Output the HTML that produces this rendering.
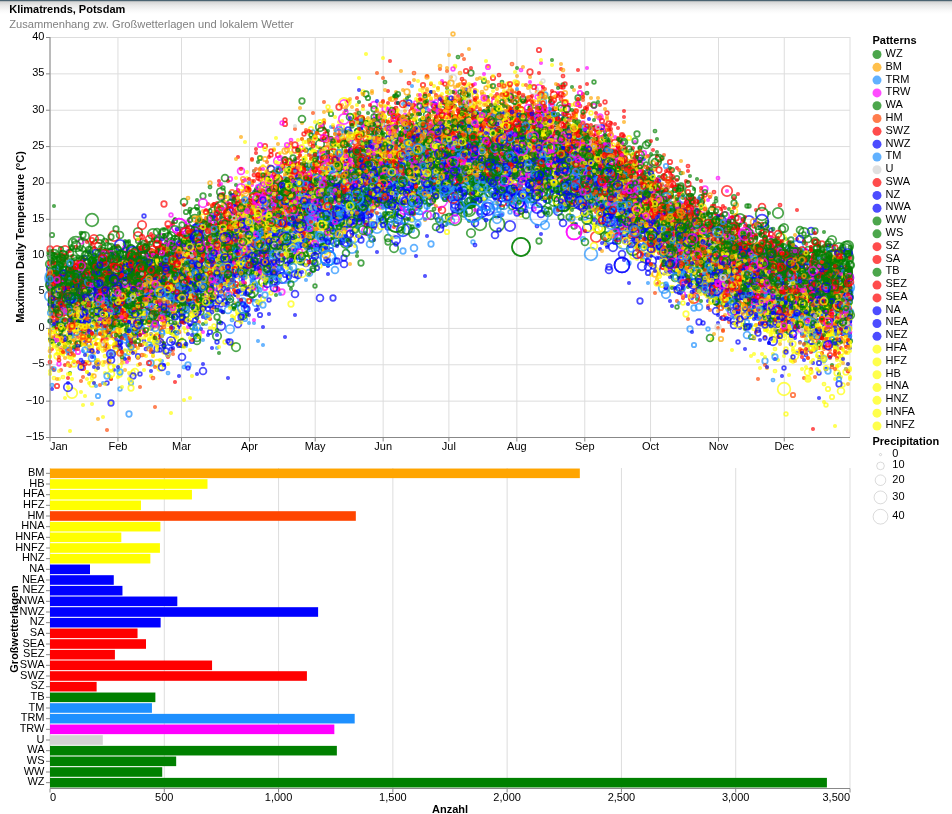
<!DOCTYPE html>
<html><head><meta charset="utf-8"><style>
html,body{margin:0;padding:0;width:952px;height:814px;overflow:hidden}
svg{display:block;font-family:"Liberation Sans",sans-serif;will-change:transform}
.sc path{fill:none;stroke:none}
marker circle{fill:none;stroke-width:1.75;stroke-opacity:0.7}
</style></head><body>
<svg width="952" height="814" viewBox="0 0 952 814">
<defs><linearGradient id="sh" x1="0" y1="0" x2="0" y2="1"><stop offset="0" stop-color="#d0d0d0"/><stop offset="0.35" stop-color="#e9e9e9"/><stop offset="0.7" stop-color="#f8f8f8"/><stop offset="1" stop-color="#fff"/></linearGradient>
<marker id="m0_0" markerUnits="userSpaceOnUse" overflow="visible"><circle r="1.16" stroke="#0000ff"/></marker>
<marker id="m0_1" markerUnits="userSpaceOnUse" overflow="visible"><circle r="1.46" stroke="#0000ff"/></marker>
<marker id="m0_2" markerUnits="userSpaceOnUse" overflow="visible"><circle r="1.83" stroke="#0000ff"/></marker>
<marker id="m0_3" markerUnits="userSpaceOnUse" overflow="visible"><circle r="2.22" stroke="#0000ff"/></marker>
<marker id="m0_4" markerUnits="userSpaceOnUse" overflow="visible"><circle r="2.76" stroke="#0000ff"/></marker>
<marker id="m0_5" markerUnits="userSpaceOnUse" overflow="visible"><circle r="3.43" stroke="#0000ff"/></marker>
<marker id="m0_6" markerUnits="userSpaceOnUse" overflow="visible"><circle r="4.25" stroke="#0000ff"/></marker>
<marker id="m0_7" markerUnits="userSpaceOnUse" overflow="visible"><circle r="5.24" stroke="#0000ff"/></marker>
<marker id="m0_8" markerUnits="userSpaceOnUse" overflow="visible"><circle r="6.33" stroke="#0000ff"/></marker>
<marker id="m0_9" markerUnits="userSpaceOnUse" overflow="visible"><circle r="7.49" stroke="#0000ff"/></marker>
<marker id="m0_10" markerUnits="userSpaceOnUse" overflow="visible"><circle r="9.03" stroke="#0000ff"/></marker>
<marker id="m1_0" markerUnits="userSpaceOnUse" overflow="visible"><circle r="1.16" stroke="#008000"/></marker>
<marker id="m1_1" markerUnits="userSpaceOnUse" overflow="visible"><circle r="1.46" stroke="#008000"/></marker>
<marker id="m1_2" markerUnits="userSpaceOnUse" overflow="visible"><circle r="1.83" stroke="#008000"/></marker>
<marker id="m1_3" markerUnits="userSpaceOnUse" overflow="visible"><circle r="2.22" stroke="#008000"/></marker>
<marker id="m1_4" markerUnits="userSpaceOnUse" overflow="visible"><circle r="2.76" stroke="#008000"/></marker>
<marker id="m1_5" markerUnits="userSpaceOnUse" overflow="visible"><circle r="3.43" stroke="#008000"/></marker>
<marker id="m1_6" markerUnits="userSpaceOnUse" overflow="visible"><circle r="4.25" stroke="#008000"/></marker>
<marker id="m1_7" markerUnits="userSpaceOnUse" overflow="visible"><circle r="5.24" stroke="#008000"/></marker>
<marker id="m1_8" markerUnits="userSpaceOnUse" overflow="visible"><circle r="6.33" stroke="#008000"/></marker>
<marker id="m1_9" markerUnits="userSpaceOnUse" overflow="visible"><circle r="7.49" stroke="#008000"/></marker>
<marker id="m1_10" markerUnits="userSpaceOnUse" overflow="visible"><circle r="9.03" stroke="#008000"/></marker>
<marker id="m2_0" markerUnits="userSpaceOnUse" overflow="visible"><circle r="1.16" stroke="#1e90ff"/></marker>
<marker id="m2_1" markerUnits="userSpaceOnUse" overflow="visible"><circle r="1.46" stroke="#1e90ff"/></marker>
<marker id="m2_2" markerUnits="userSpaceOnUse" overflow="visible"><circle r="1.83" stroke="#1e90ff"/></marker>
<marker id="m2_3" markerUnits="userSpaceOnUse" overflow="visible"><circle r="2.22" stroke="#1e90ff"/></marker>
<marker id="m2_4" markerUnits="userSpaceOnUse" overflow="visible"><circle r="2.76" stroke="#1e90ff"/></marker>
<marker id="m2_5" markerUnits="userSpaceOnUse" overflow="visible"><circle r="3.43" stroke="#1e90ff"/></marker>
<marker id="m2_6" markerUnits="userSpaceOnUse" overflow="visible"><circle r="4.25" stroke="#1e90ff"/></marker>
<marker id="m2_7" markerUnits="userSpaceOnUse" overflow="visible"><circle r="5.24" stroke="#1e90ff"/></marker>
<marker id="m2_8" markerUnits="userSpaceOnUse" overflow="visible"><circle r="6.33" stroke="#1e90ff"/></marker>
<marker id="m2_9" markerUnits="userSpaceOnUse" overflow="visible"><circle r="7.49" stroke="#1e90ff"/></marker>
<marker id="m2_10" markerUnits="userSpaceOnUse" overflow="visible"><circle r="9.03" stroke="#1e90ff"/></marker>
<marker id="m3_0" markerUnits="userSpaceOnUse" overflow="visible"><circle r="1.16" stroke="#d3d3d3"/></marker>
<marker id="m3_1" markerUnits="userSpaceOnUse" overflow="visible"><circle r="1.46" stroke="#d3d3d3"/></marker>
<marker id="m3_2" markerUnits="userSpaceOnUse" overflow="visible"><circle r="1.83" stroke="#d3d3d3"/></marker>
<marker id="m3_3" markerUnits="userSpaceOnUse" overflow="visible"><circle r="2.22" stroke="#d3d3d3"/></marker>
<marker id="m3_4" markerUnits="userSpaceOnUse" overflow="visible"><circle r="2.76" stroke="#d3d3d3"/></marker>
<marker id="m3_5" markerUnits="userSpaceOnUse" overflow="visible"><circle r="3.43" stroke="#d3d3d3"/></marker>
<marker id="m3_6" markerUnits="userSpaceOnUse" overflow="visible"><circle r="4.25" stroke="#d3d3d3"/></marker>
<marker id="m3_7" markerUnits="userSpaceOnUse" overflow="visible"><circle r="5.24" stroke="#d3d3d3"/></marker>
<marker id="m3_8" markerUnits="userSpaceOnUse" overflow="visible"><circle r="6.33" stroke="#d3d3d3"/></marker>
<marker id="m3_9" markerUnits="userSpaceOnUse" overflow="visible"><circle r="7.49" stroke="#d3d3d3"/></marker>
<marker id="m3_10" markerUnits="userSpaceOnUse" overflow="visible"><circle r="9.03" stroke="#d3d3d3"/></marker>
<marker id="m4_0" markerUnits="userSpaceOnUse" overflow="visible"><circle r="1.16" stroke="#ff0000"/></marker>
<marker id="m4_1" markerUnits="userSpaceOnUse" overflow="visible"><circle r="1.46" stroke="#ff0000"/></marker>
<marker id="m4_2" markerUnits="userSpaceOnUse" overflow="visible"><circle r="1.83" stroke="#ff0000"/></marker>
<marker id="m4_3" markerUnits="userSpaceOnUse" overflow="visible"><circle r="2.22" stroke="#ff0000"/></marker>
<marker id="m4_4" markerUnits="userSpaceOnUse" overflow="visible"><circle r="2.76" stroke="#ff0000"/></marker>
<marker id="m4_5" markerUnits="userSpaceOnUse" overflow="visible"><circle r="3.43" stroke="#ff0000"/></marker>
<marker id="m4_6" markerUnits="userSpaceOnUse" overflow="visible"><circle r="4.25" stroke="#ff0000"/></marker>
<marker id="m4_7" markerUnits="userSpaceOnUse" overflow="visible"><circle r="5.24" stroke="#ff0000"/></marker>
<marker id="m4_8" markerUnits="userSpaceOnUse" overflow="visible"><circle r="6.33" stroke="#ff0000"/></marker>
<marker id="m4_9" markerUnits="userSpaceOnUse" overflow="visible"><circle r="7.49" stroke="#ff0000"/></marker>
<marker id="m4_10" markerUnits="userSpaceOnUse" overflow="visible"><circle r="9.03" stroke="#ff0000"/></marker>
<marker id="m5_0" markerUnits="userSpaceOnUse" overflow="visible"><circle r="1.16" stroke="#ff00ff"/></marker>
<marker id="m5_1" markerUnits="userSpaceOnUse" overflow="visible"><circle r="1.46" stroke="#ff00ff"/></marker>
<marker id="m5_2" markerUnits="userSpaceOnUse" overflow="visible"><circle r="1.83" stroke="#ff00ff"/></marker>
<marker id="m5_3" markerUnits="userSpaceOnUse" overflow="visible"><circle r="2.22" stroke="#ff00ff"/></marker>
<marker id="m5_4" markerUnits="userSpaceOnUse" overflow="visible"><circle r="2.76" stroke="#ff00ff"/></marker>
<marker id="m5_5" markerUnits="userSpaceOnUse" overflow="visible"><circle r="3.43" stroke="#ff00ff"/></marker>
<marker id="m5_6" markerUnits="userSpaceOnUse" overflow="visible"><circle r="4.25" stroke="#ff00ff"/></marker>
<marker id="m5_7" markerUnits="userSpaceOnUse" overflow="visible"><circle r="5.24" stroke="#ff00ff"/></marker>
<marker id="m5_8" markerUnits="userSpaceOnUse" overflow="visible"><circle r="6.33" stroke="#ff00ff"/></marker>
<marker id="m5_9" markerUnits="userSpaceOnUse" overflow="visible"><circle r="7.49" stroke="#ff00ff"/></marker>
<marker id="m5_10" markerUnits="userSpaceOnUse" overflow="visible"><circle r="9.03" stroke="#ff00ff"/></marker>
<marker id="m6_0" markerUnits="userSpaceOnUse" overflow="visible"><circle r="1.16" stroke="#ff4500"/></marker>
<marker id="m6_1" markerUnits="userSpaceOnUse" overflow="visible"><circle r="1.46" stroke="#ff4500"/></marker>
<marker id="m6_2" markerUnits="userSpaceOnUse" overflow="visible"><circle r="1.83" stroke="#ff4500"/></marker>
<marker id="m6_3" markerUnits="userSpaceOnUse" overflow="visible"><circle r="2.22" stroke="#ff4500"/></marker>
<marker id="m6_4" markerUnits="userSpaceOnUse" overflow="visible"><circle r="2.76" stroke="#ff4500"/></marker>
<marker id="m6_5" markerUnits="userSpaceOnUse" overflow="visible"><circle r="3.43" stroke="#ff4500"/></marker>
<marker id="m6_6" markerUnits="userSpaceOnUse" overflow="visible"><circle r="4.25" stroke="#ff4500"/></marker>
<marker id="m6_7" markerUnits="userSpaceOnUse" overflow="visible"><circle r="5.24" stroke="#ff4500"/></marker>
<marker id="m6_8" markerUnits="userSpaceOnUse" overflow="visible"><circle r="6.33" stroke="#ff4500"/></marker>
<marker id="m6_9" markerUnits="userSpaceOnUse" overflow="visible"><circle r="7.49" stroke="#ff4500"/></marker>
<marker id="m6_10" markerUnits="userSpaceOnUse" overflow="visible"><circle r="9.03" stroke="#ff4500"/></marker>
<marker id="m7_0" markerUnits="userSpaceOnUse" overflow="visible"><circle r="1.16" stroke="#ffa500"/></marker>
<marker id="m7_1" markerUnits="userSpaceOnUse" overflow="visible"><circle r="1.46" stroke="#ffa500"/></marker>
<marker id="m7_2" markerUnits="userSpaceOnUse" overflow="visible"><circle r="1.83" stroke="#ffa500"/></marker>
<marker id="m7_3" markerUnits="userSpaceOnUse" overflow="visible"><circle r="2.22" stroke="#ffa500"/></marker>
<marker id="m7_4" markerUnits="userSpaceOnUse" overflow="visible"><circle r="2.76" stroke="#ffa500"/></marker>
<marker id="m7_5" markerUnits="userSpaceOnUse" overflow="visible"><circle r="3.43" stroke="#ffa500"/></marker>
<marker id="m7_6" markerUnits="userSpaceOnUse" overflow="visible"><circle r="4.25" stroke="#ffa500"/></marker>
<marker id="m7_7" markerUnits="userSpaceOnUse" overflow="visible"><circle r="5.24" stroke="#ffa500"/></marker>
<marker id="m7_8" markerUnits="userSpaceOnUse" overflow="visible"><circle r="6.33" stroke="#ffa500"/></marker>
<marker id="m7_9" markerUnits="userSpaceOnUse" overflow="visible"><circle r="7.49" stroke="#ffa500"/></marker>
<marker id="m7_10" markerUnits="userSpaceOnUse" overflow="visible"><circle r="9.03" stroke="#ffa500"/></marker>
<marker id="m8_0" markerUnits="userSpaceOnUse" overflow="visible"><circle r="1.16" stroke="#ffff00"/></marker>
<marker id="m8_1" markerUnits="userSpaceOnUse" overflow="visible"><circle r="1.46" stroke="#ffff00"/></marker>
<marker id="m8_2" markerUnits="userSpaceOnUse" overflow="visible"><circle r="1.83" stroke="#ffff00"/></marker>
<marker id="m8_3" markerUnits="userSpaceOnUse" overflow="visible"><circle r="2.22" stroke="#ffff00"/></marker>
<marker id="m8_4" markerUnits="userSpaceOnUse" overflow="visible"><circle r="2.76" stroke="#ffff00"/></marker>
<marker id="m8_5" markerUnits="userSpaceOnUse" overflow="visible"><circle r="3.43" stroke="#ffff00"/></marker>
<marker id="m8_6" markerUnits="userSpaceOnUse" overflow="visible"><circle r="4.25" stroke="#ffff00"/></marker>
<marker id="m8_7" markerUnits="userSpaceOnUse" overflow="visible"><circle r="5.24" stroke="#ffff00"/></marker>
<marker id="m8_8" markerUnits="userSpaceOnUse" overflow="visible"><circle r="6.33" stroke="#ffff00"/></marker>
<marker id="m8_9" markerUnits="userSpaceOnUse" overflow="visible"><circle r="7.49" stroke="#ffff00"/></marker>
<marker id="m8_10" markerUnits="userSpaceOnUse" overflow="visible"><circle r="9.03" stroke="#ffff00"/></marker>
</defs>
<rect x="0" y="1" width="952" height="13" fill="url(#sh)"/>
<rect x="0" y="0" width="952" height="1.2" fill="#4b6371"/>
<text x="9.2" y="13" font-size="11" font-weight="bold">Klimatrends, Potsdam</text>
<text x="9.2" y="28" font-size="11.15" fill="#808080">Zusammenhang zw. Großwetterlagen und lokalem Wetter</text>
<g stroke="#ddd" stroke-width="1" fill="none">
<path d="M50 37V437M117.95 37V437M181.51 37V437M249.45 37V437M315.21 37V437M383.15 37V437M448.9 37V437M516.85 37V437M584.79 37V437M650.55 37V437M718.49 37V437M784.25 37V437M850 37V437M50 437.5H850M50 401.14H850M50 364.77H850M50 328.41H850M50 292.05H850M50 255.68H850M50 219.32H850M50 182.95H850M50 146.59H850M50 110.23H850M50 73.86H850M50 37.5H850"/>
<path d="M50 468V788M164.29 468V788M278.57 468V788M392.86 468V788M507.14 468V788M621.43 468V788M735.71 468V788M850 468V788"/>
</g>
<g class="sc">
<path d="M420 134 197 251 688 252 434 190 561 198 388 180 756 302 701 216 98 281 567 128 591 176 366 231" style="marker:url(#m5_6)"/>
<path d="M219 219 366 209 594 200 585 194 749 221 563 189 74 297 495 160" style="marker:url(#m0_7)"/>
<path d="M291 194 453 144 210 221 394 127 420 152 550 136 407 177 236 239 565 184 217 217 445 144 361 221 697 248 374 105 690 251 539 88 510 96 521 153" style="marker:url(#m5_5)"/>
<path d="M70 322 247 245 63 275 291 140 370 158 512 174 346 193 247 245 276 219 561 146 497 136 679 265 554 152" style="marker:url(#m5_1)"/>
<path d="M78 271 78 271" style="marker:url(#m7_6)"/>
<path d="M703 241 317 181 556 135 835 302 469 135 607 203 153 273 282 220 578 179" style="marker:url(#m7_5)"/>
<path d="M190 267 285 268 420 139 293 233 683 262 65 298 675 230 407 179 491 172 377 200 210 276 300 215 830 307 337 215 201 271 335 173 184 282 368 189 767 278 363 197 282 185 199 258 313 211 710 246 179 265 773 265 309 246 475 165 236 266 664 239 611 211" style="marker:url(#m2_5)"/>
<path d="M254 241 482 141 699 265 486 161 591 194 267 240 578 154 175 270" style="marker:url(#m2_7)"/>
<path d="M352 169 692 218 263 253 495 179 464 150 306 249 363 120 342 163 712 285 320 152 486 164 372 140 149 290 225 250 219 236 482 114 63 302 539 121 190 255 758 298 587 68 100 262 732 247 219 280 618 181 819 282 383 118 120 270 68 251 133 302 718 282 708 200 550 104 348 205 315 156 381 120 179 266 350 175 545 131 414 172 304 210 416 131 423 120 506 124 171 309 57 339 558 93 725 288 361 173 784 307 453 151 754 278" style="marker:url(#m5_0)"/>
<path d="M460 171 460 171" style="marker:url(#m0_9)"/>
<path d="M775 326 607 245 74 322 114 313 445 148 466 150 740 297 265 273 346 164 243 316 230 232 784 260 133 280 322 193 105 318 243 284 482 134 298 254 366 142 295 257 394 174 449 159 429 159 640 203 806 355 780 261 475 188 499 114 122 278 394 166 815 300 839 309 289 222 532 173" style="marker:url(#m0_1)"/>
<path d="M212 261 74 321 550 146 107 314 506 113 800 279 486 98" style="marker:url(#m6_3)"/>
<path d="M677 204 677 224 89 272 510 154 802 274 89 250 778 275 596 155 197 341 324 247 125 255 631 172 626 200 537 140 705 241 561 132 195 276 184 202 613 198 846 281 775 270 363 180 506 193 618 158 103 251 120 254 602 206 366 166 480 156 666 229 405 131 223 226 808 250 725 245 607 170 449 136 523 171 578 159 197 256 89 275 458 159 800 265 157 232 631 174 199 300 771 298 206 279 738 245 793 249 648 221 140 261 740 251 615 185 659 241 276 279 118 290 103 262 716 244 846 329 271 234 311 186 269 229 201 249 723 284 495 141 381 203 401 120 120 254 813 336 835 253 140 270 528 113 85 269 105 259 453 186 344 179 464 124 738 251 127 295 789 294 843 256 348 198 350 159 782 229 655 211 197 238 773 287 651 219" style="marker:url(#m1_5)"/>
<path d="M602 185 491 162 589 156 182 247" style="marker:url(#m5_7)"/>
<path d="M585 153 385 175" style="marker:url(#m3_5)"/>
<path d="M565 186 565 186" style="marker:url(#m8_7)"/>
<path d="M103 339 447 108 515 148 587 142 756 296 276 247" style="marker:url(#m6_1)"/>
<path d="M315 286 429 143 640 160 635 207 635 204 510 139 155 267 249 233 670 252 714 245 747 206 839 282 96 270 81 301 401 160 837 297 653 219 552 151 646 206 624 142 52 323 383 170 274 200 462 136 832 277 822 278 780 266 186 273 578 145 425 106 188 292 716 251 521 131 659 198 238 239 732 250 800 271 784 310 109 306 377 144 83 326 727 264 583 200 826 291 144 317 721 222 596 163 848 278 164 267 502 133 118 291 129 263 686 220 451 131 278 250 276 206 758 290 192 265 635 214 609 151 609 192 718 250 449 170 585 180 291 184 401 162 819 248 278 255 127 244 703 250 59 309 589 203 232 268" style="marker:url(#m1_2)"/>
<path d="M679 222 103 304 594 182 591 183 122 307 666 287 624 234 203 308 278 193 208 265 212 289 694 255 282 242 129 309 806 293 114 296 298 257 811 313 646 244 89 344 249 240 819 295 258 257 258 264 131 318 495 151 488 166 749 260 350 244 278 199 414 164 843 297 241 236 537 118 548 183 561 203 120 319 302 261" style="marker:url(#m0_3)"/>
<path d="M850 278 754 256 734 311 697 260 558 174 269 275 295 247 72 293 94 288 348 173 675 270 828 303 629 201 620 166 512 142 811 231 429 127 806 258 315 213 675 219 155 324 377 196 418 200 361 212 651 249 87 278 122 290 298 255 344 227 532 143 512 192 155 254 734 239 554 140 184 302 675 207 458 139 87 301 508 150" style="marker:url(#m0_5)"/>
<path d="M267 254 497 168 199 256 843 311 333 175 618 177 403 138 841 327 374 144 734 252 830 303 263 172 451 110 164 315 311 129 541 142 832 397 295 165 304 251 438 133 631 203 116 321 234 229 352 123 381 148 491 109 521 147 506 139 629 138 565 190 212 281 506 95 703 200 385 150 602 167" style="marker:url(#m8_3)"/>
<path d="M519 183 683 290 311 178 537 137 195 231 642 189 683 257 780 281 50 278 530 175 331 206 773 288 552 177 81 290 398 122 85 282 622 195 488 97 552 122 714 204 824 280 475 116 662 205 850 291 567 138 372 202 260 191 171 333 502 167 574 177 54 322 653 211 337 192 679 247 517 126 653 194 68 273 274 231 743 233 363 193 61 296 589 147 412 173 556 160 819 342 600 132 539 148 418 179 363 118 160 319 234 220 668 192 427 161 210 236 83 277 363 185 162 268 850 267 491 157 824 298 762 265 565 115 839 301 287 243 642 260 451 126 637 174 631 212 103 264 230 239 57 305 817 257 438 164 723 246 605 208 561 143 151 302 677 185 247 248 455 126 580 219 666 225 201 256 677 204 289 231 642 217 208 226 786 239 111 326 743 279 471 144 510 185 482 121 545 140 694 228 626 204 260 255 447 129 482 116 629 179 258 162 317 190 543 162 206 250 780 264 160 314 57 270 782 282 458 153 624 190 756 262 565 147 420 114 252 291 245 232 57 296 635 222 434 160 96 317 63 297 484 156 414 165 596 189 802 324 355 151 583 139 589 159 519 155 615 179 543 164 822 276 754 302 832 321 125 274 672 192 510 124 543 183 133 298 295 163 236 248 83 333 168 256 138 305 708 231 708 242 436 158 666 242 477 140 491 166 460 113 57 284 280 275 118 313 653 222 192 291 249 238 653 225 651 240 65 310 530 149 385 142 499 149 453 156 512 164 835 267 223 229 598 206 70 272 129 258 210 244 455 174 749 286 462 137 140 345 554 133 144 276 346 241 640 148 484 146 179 279 131 284 460 163 523 151 50 278 366 222 258 187 657 186 65 314 694 199 583 215 846 290 607 194 482 171 708 214 258 249 688 287 607 202 105 313 567 138 114 287 721 274 98 270 390 127 622 177 754 249 712 252 173 305 447 164 357 177 683 198 381 168 186 274 331 148 223 200 199 213 381 168 57 284 135 296 837 290 723 286 234 272 819 300 574 156 469 107 313 182 238 254 70 286 78 279 151 253 208 287 771 276 414 174 201 243 429 125 620 175 848 303 236 227 718 276 499 156 751 284 754 286 431 92 85 301 637 195 642 201 377 162 508 181 635 182 613 182 135 269 672 276 548 158 521 176 716 232 837 316 679 234 208 275 188 290 217 254 140 259 600 174 401 155 734 258 390 140 206 258" style="marker:url(#m1_0)"/>
<path d="M815 341 813 295 585 111 677 218 749 234 574 113 705 209 107 317 769 297 662 267 127 292" style="marker:url(#m6_2)"/>
<path d="M756 270 756 270" style="marker:url(#m3_4)"/>
<path d="M480 224 455 219 506 169 416 133 333 197 508 162 127 273 677 242" style="marker:url(#m1_8)"/>
<path d="M644 240 493 165" style="marker:url(#m1_9)"/>
<path d="M563 139 725 223 539 110 346 145 72 291 260 243 548 117 767 312 580 141 122 300 530 98 372 167 775 279 780 273 569 127 265 146 366 182 447 141 832 311 554 100" style="marker:url(#m4_3)"/>
<path d="M714 286 179 239 254 221" style="marker:url(#m3_2)"/>
<path d="M523 132 228 262 149 265 109 264 567 161 749 280 558 143 626 226 267 216 681 223 800 292 116 285 528 182 118 344 808 291 677 207 105 318 554 140 54 297 81 260 767 271 208 294 824 322 188 251 802 283 328 200 100 268 267 256 131 286 758 280 401 230 403 172 81 321 317 223 223 220 201 312 142 283 258 240 438 185 694 272 791 240 664 177 460 150 405 157 815 231 464 146 414 151 199 302 830 261 203 255 734 243 797 287 92 317 122 262 445 133 653 184 133 258 670 226 491 123 192 260 758 265 293 203 727 264 78 297 103 307 390 165 631 152 591 190 537 156 578 132 648 143 309 206 304 208 118 322 210 252 127 296 462 105 87 288 775 244 116 267 50 253 208 287 710 236 843 266 670 195 464 145 144 272 368 181 591 172 789 302 775 264" style="marker:url(#m1_4)"/>
<path d="M523 126 484 117" style="marker:url(#m3_1)"/>
<path d="M328 174 749 317 565 108 473 135 655 169 293 169 740 312 460 164 808 281 212 245 447 132 537 92 304 189 379 195 749 326 659 242 464 133 179 284 600 175 254 284 214 251 135 352 304 161 574 148 765 270 569 118 482 155 85 336 258 212" style="marker:url(#m7_1)"/>
<path d="M565 152 602 177 497 113 449 169 157 363 414 188 168 263 488 187 425 175 162 317 168 303 377 149 324 221 789 295 199 277 771 285 416 162 116 310 206 277 331 199 333 212" style="marker:url(#m8_5)"/>
<path d="M133 372 839 301 642 183 773 330 657 206 151 303 225 342 186 277 146 335 521 215 539 93 328 191 186 331 258 273 773 309 539 110 363 92 455 108 486 135 488 102 786 414 313 203 686 235 129 316" style="marker:url(#m8_2)"/>
<path d="M278 234 144 306 232 243 756 310 686 281 54 378 125 323 605 197 287 230 534 137 118 322 425 152 506 133 596 146 822 318 778 314 462 104 451 128 164 347 372 156 782 308 530 129 331 200 784 279 530 151 795 326 127 327 455 66 462 140 808 299 315 172" style="marker:url(#m8_1)"/>
<path d="M383 158 282 204 596 237 602 170 602 184 133 275 778 268" style="marker:url(#m4_7)"/>
<path d="M87 302 221 305 817 292 225 279 460 116 743 255 293 201 423 192 160 302 653 203 541 178 423 168 74 339 556 153 633 207 232 234 381 189 184 277 789 285 453 142 813 345 153 287 819 373 683 241 328 178 580 203 238 292 464 178 771 295 837 304 780 320 622 176 539 179 512 180 157 253 423 175 85 281 247 294 436 133 703 323 508 204" style="marker:url(#m0_2)"/>
<path d="M806 255 585 143 466 155 615 182 609 124 383 200 458 126 434 132 160 294 164 204 773 240 591 157 96 293 230 210 425 105 65 257 815 262 769 239 835 261 107 313 727 275 512 117 116 310 718 227 313 173 602 162 644 217 738 296 458 189 155 277 203 224" style="marker:url(#m4_4)"/>
<path d="M414 168 276 242 403 162 784 273 383 187 388 223 420 192 804 286 576 178 574 164 545 225 203 275 773 250 453 174 274 232 506 176 692 234 267 244 594 183 59 282 366 128 405 136 324 207 265 238 359 120 666 237" style="marker:url(#m2_6)"/>
<path d="M249 245 626 219 780 312 311 220 477 182 508 176 412 137 640 195 841 352 291 237 390 176 734 253 160 302 300 210 515 117 789 305 447 137 640 183 92 384 846 372 438 137 512 128 160 368 580 142 407 181 512 139 523 159 221 277 252 290 429 152 350 203 230 202" style="marker:url(#m8_4)"/>
<path d="M109 312 322 218 258 195 89 291 197 332" style="marker:url(#m8_6)"/>
<path d="M464 116 591 98 320 140 418 95 280 233 747 295 552 157 287 224 164 314 585 168 149 322 326 213 708 259 339 160 157 314 348 169 488 107 721 280 228 264 477 79 493 114 374 188 228 261 815 295 749 251 683 250 162 336 528 113 210 296 738 224 817 335 120 349 405 125 558 141 357 114 578 99 263 202 146 289 758 279 539 157 618 138 166 255 510 86 265 224 517 154 344 191 718 277 89 293 243 200 449 139 692 241 162 341 361 161 466 103 368 136 850 319 241 232 68 342 662 252 383 177 644 198 521 159 464 154 363 145 598 140 662 199 100 289 449 180 510 127 541 95 589 141 107 309 537 175 550 148 398 124 72 320 256 192 675 266 613 186 797 275 298 188 670 254 295 240 811 345 846 326 363 118 541 124 214 263 642 200 497 147 392 186 188 281 94 312 686 245 335 130 203 290 442 103 324 194 607 172 366 165 488 161 819 312 668 206 637 205 449 148 282 225 515 155 548 120 523 113 697 253 300 243 197 303 767 303 241 137 512 123 122 314 219 244 846 341 679 244 254 217 455 87 359 177 114 305 510 118 453 92 545 132 464 150 122 363 716 269 462 152 534 161 72 307 414 119 480 126 760 259 114 284 63 320 640 194 828 341 642 169 607 226 89 339 348 139 162 309 192 295 333 171 449 114 835 352 699 270 462 91 78 319 333 213 206 277 754 270 256 265 835 276 184 282 688 210 166 307 504 100 238 215 585 151 263 218 703 255 637 187 508 91 563 145 646 196 802 272 87 327 699 244 683 258 602 199 291 168 462 163 773 299 427 119 727 263 409 128 245 200 427 127 723 265 85 279 234 240 837 288 50 299 506 118 278 144 786 320 550 98 192 286 89 325 401 71 846 300 160 315 760 276 469 141 52 341" style="marker:url(#m7_0)"/>
<path d="M569 152 282 292 92 281 291 219 784 272 578 199 221 196 258 267 512 139 206 242 751 233 230 224 567 152 414 141 403 121 230 210 179 277 274 202 429 123 451 114" style="marker:url(#m5_4)"/>
<path d="M526 137 114 311 245 256 594 106 523 120 280 240 416 103 197 314 688 203 243 208 260 145 675 219 596 164 449 139 409 169 795 306 125 248 528 141 569 142 374 130 747 265 339 153" style="marker:url(#m5_3)"/>
<path d="M186 251 576 170 718 242 317 199 135 282 368 201 578 125 228 232 758 301 429 127 576 149 670 210 681 256 398 174 206 284 637 203 304 198 773 272 471 148 659 214 219 254" style="marker:url(#m7_4)"/>
<path d="M826 290 315 233 664 253 149 281 740 274 473 242 300 179 225 288 708 329 762 292 269 233 561 171 120 389 804 287 381 207 363 181 313 132 182 300 596 165" style="marker:url(#m2_2)"/>
<path d="M377 148 405 180 263 189 348 210 611 237 460 182 591 254 504 141" style="marker:url(#m2_8)"/>
<path d="M534 90 534 90" style="marker:url(#m3_6)"/>
<path d="M61 294 453 34 405 136 517 163 254 212 835 323 714 256 287 226 506 133 388 169 692 274 81 339" style="marker:url(#m7_2)"/>
<path d="M381 204 703 250 534 128 357 236 499 117 238 270 184 300 471 164 576 195 837 313 762 309 429 145 155 290 392 202 331 204 269 250 423 135 276 279 146 253 162 286 366 170 802 297 552 169 541 171 238 264 190 274 850 341 694 252 96 330 160 288 629 199 596 170 258 201 615 197 565 168 541 108 254 171 576 188 675 271 594 205 824 340 403 163 442 163 431 92 541 156 699 255 808 332 646 215 324 202 679 277 245 253 306 210 173 268 686 296 677 265 736 280 344 168 271 261 254 192 149 318 427 146 486 176 686 270 548 115 186 320 574 153 116 288 662 246 580 182 133 286 98 325 190 292 68 301 398 189 333 171 534 142 192 298 171 341 315 202 502 155 773 304 111 336 252 281 94 309 565 180 659 198 811 312 526 184 512 129 629 227 50 293 431 200 103 319 473 199 712 253 403 157 103 286 600 156 245 273 550 127 734 291 708 301 800 272 407 154 258 197 65 337 271 231 57 297 605 242 587 157 105 323 409 204 850 348 392 189 54 321 403 185 850 310 600 249 309 238 694 291 295 228 160 277 626 205 65 300 615 193 245 224 263 264 269 216 813 302 186 295 556 119 451 138 65 290 558 192 552 178 714 241 230 257 254 287 716 278 429 167 81 301 361 237 784 305 637 222 458 177 217 262 646 193 578 188 528 135 116 268 789 315 61 323 111 333 383 164 407 172 589 119 98 314 797 322 808 330 398 171 208 281 425 276 515 145 558 189 398 181 166 290 464 205 184 283 94 318 173 274 453 172 530 159 740 264 107 263 217 335 416 256 771 319 247 272 475 157 497 186 151 371 317 168 683 240 458 182 585 176 688 304 718 323 96 334 657 197 475 185 659 258 203 364 293 184 466 134" style="marker:url(#m0_0)"/>
<path d="M528 112 583 239 217 254 335 181 282 225 644 202 282 218 569 159 245 319 217 246 129 305 585 134 370 205 414 182 116 345 756 302 596 183 331 162 208 315 550 152 445 188 328 260 173 308 89 305 357 192 269 275 385 145 806 318 723 291 335 208 324 203" style="marker:url(#m2_3)"/>
<path d="M197 221 668 181 135 272 804 322 600 146 263 197 407 129 819 284 756 252 758 303 631 208 324 170 615 197 212 217 127 335 61 278 602 182 396 146 337 159 795 309 81 307 309 222 499 75 572 148 806 260 775 321 114 315 414 152 765 239 569 105 236 228 815 349 629 187 491 180 291 204 420 133 131 351 54 271 624 147 714 192 282 166 254 213 561 99 830 304 576 154" style="marker:url(#m4_1)"/>
<path d="M469 200 471 196" style="marker:url(#m2_9)"/>
<path d="M449 83 793 351 355 116 745 297 322 157 583 198 791 308 420 90 377 156 532 126 350 130 65 341 122 314 701 240 280 281 105 344 164 323 122 302 600 204 192 230 175 319 322 189 232 254 815 344 824 359 475 153 563 111 475 174 624 194 824 321 813 360 337 198 274 149 192 376 184 345 591 141 850 351 716 267 480 146 427 175 780 303 662 244 848 333 646 179 304 221 162 297 802 317 245 288 379 117 497 135 111 403 602 140 811 307 699 227 157 307 155 316 462 151 771 285 532 146 609 157 182 276 199 271 129 295 817 369 129 350 502 155 225 213 173 312 681 292 751 327 697 283 331 182 146 303 605 177 819 345 359 128 271 196 184 290 651 275 238 313 826 328 311 158 585 163 615 164 190 230 328 200 175 258 644 224 780 337 285 253 664 228 659 183 63 355 228 304 795 281 177 325 832 336 175 275 249 235 109 376 260 158 247 300 249 224 447 92 61 353 800 322 289 220 756 267 89 321 791 361 436 125 249 207 57 354 613 174 182 339 631 226 458 135 390 161 769 324 793 362 258 283 486 165 249 254 558 141 160 317 234 237 850 305 488 150 745 283 245 216 377 192 320 229 620 247 493 136 537 177 223 244 716 266 405 107 508 152 153 322 697 228 510 115 451 124 379 183 835 307 68 374 686 249 830 339 350 164 482 123 105 332 819 360 769 311 317 229 219 242 648 210 313 196 541 123 769 266 699 279 580 146 210 293 342 121 171 413 434 179 348 219 252 236 602 182 186 252 824 402 640 200 87 312 278 163 70 288 252 183 109 330 243 241 751 288 125 362 609 168 611 196 223 291 396 171 729 314 841 324 609 208 63 300 190 303 295 217 760 299 653 254 179 268 359 78 311 180 238 249 122 298 775 341 765 330 648 230 804 332 477 127 773 354 668 244 835 312 320 190 366 166 377 154 615 169 484 120 313 159 89 321 539 165 484 170 429 138 784 324 140 333 89 329 96 370 846 353 703 243 186 285 712 339 199 255 754 339 118 330 477 127 572 187 802 314 390 131 447 122 736 325 537 145 214 285 372 146 502 142 775 332 247 262 545 131 697 232 228 243 328 199 377 188 50 357 295 239 293 218 664 233 394 138 322 202 504 175 249 253 837 341 234 256 278 174 392 209 374 212 438 121 449 146 190 272 552 143 50 330 263 273 217 274 635 213 304 217 438 162 589 147 462 127 87 341 219 255 699 257 692 225 543 121 554 141 81 345" style="marker:url(#m8_0)"/>
<path d="M664 236 508 116 70 309 815 301 105 299 274 212 683 227 175 249 322 210" style="marker:url(#m6_4)"/>
<path d="M418 184 565 142 543 173 497 147 519 208" style="marker:url(#m5_8)"/>
<path d="M269 191 657 195 265 202 61 333 282 203 70 333 171 215 285 214 151 279 285 256 734 237" style="marker:url(#m5_2)"/>
<path d="M429 143 642 177 85 311 278 254 552 188 219 256 427 185 635 196 453 161 322 216 414 128 445 138 74 295 778 272 335 261 412 219 442 150 473 169 484 129 572 167 315 234 111 354 114 280 447 152 683 231 293 187 491 177 324 184 572 176 173 281 149 303 784 283 622 196 497 215" style="marker:url(#m2_4)"/>
<path d="M125 250 738 281 65 290 203 305 164 274 247 256 692 244 361 143 381 166 153 285 122 260 138 330 762 235 657 206 462 163 528 142 734 254 464 152 96 282 337 243 664 205 344 195 254 263 771 277 651 182 471 140 208 281 182 321 850 341 705 243 287 166 830 294 789 253 100 297 466 125 640 208 357 131 420 125 534 167 342 155 396 214 502 207 76 262 403 167 567 161 304 208 271 183 54 276 565 151 306 168 52 273 374 161 782 272 423 157 574 145 436 126 795 313 677 178 192 327 258 212 52 276 576 164 429 178 326 179 837 286 175 249" style="marker:url(#m1_3)"/>
<path d="M466 122 328 168 567 184 118 297 651 218 392 99 642 198 718 288 725 284 760 264 521 109 589 161 624 189 267 245 462 176 819 314 390 140 173 285 721 339 659 222 497 130" style="marker:url(#m7_3)"/>
<path d="M173 266 537 184 155 273 729 247 817 293 377 183 265 244 832 240 541 194 269 219 519 144 140 274 447 170 655 218 359 199 142 272 637 229 265 195 94 251 469 148 574 204 670 217 778 265 686 259 537 186 611 186 396 208 96 284 258 269 357 195 210 254 412 160 668 261 366 188 85 273 52 271 758 248 832 263 543 196 379 185 703 261 718 258 767 245 692 238 736 242 835 304 243 232 806 285 484 186" style="marker:url(#m1_6)"/>
<path d="M436 136 436 136" style="marker:url(#m6_6)"/>
<path d="M751 287 486 210 427 181 269 251 666 251 589 178 587 210 488 160 131 334 504 177 585 213 221 326 337 211 182 260 644 215 265 235 664 270 508 189 238 234 567 204 675 230 449 188 624 232" style="marker:url(#m0_6)"/>
<path d="M576 211 475 185 784 389" style="marker:url(#m8_8)"/>
<path d="M416 171 249 214 245 244 464 152 747 266 701 260 96 319 589 181 412 146 760 326 190 280 721 253 440 176 228 224 398 156 423 130 394 236 613 162 190 274 563 157 337 212 554 122 817 289" style="marker:url(#m3_0)"/>
<path d="M184 250 403 137 184 232 423 155 135 288 85 271 510 192 743 226 285 184 263 234" style="marker:url(#m4_6)"/>
<path d="M285 240 455 213 692 270 355 193 111 311 107 281 637 221 445 144 385 177 808 310 782 285 491 146 96 276 539 173 381 201 447 174 322 247 54 340 613 202 824 276 70 274 278 242 688 275 596 199 800 282 252 240 784 313 681 275" style="marker:url(#m0_4)"/>
<path d="M773 380 379 161 694 261 92 288 539 170 697 283 699 201 434 128 219 263 241 262 677 221 398 174 184 367 320 192 342 221" style="marker:url(#m2_1)"/>
<path d="M466 141 495 179 92 285 795 260 534 196" style="marker:url(#m0_8)"/>
<path d="M127 334 672 229 699 212 813 276 600 148 374 131 359 122 765 240 526 177 686 219 637 162 802 297 655 218 765 296 558 122 497 145 782 263 605 102 690 196 447 125 765 285 679 254 569 116 806 267 537 134 276 201 166 276 556 127" style="marker:url(#m4_2)"/>
<path d="M541 122 131 375" style="marker:url(#m3_3)"/>
<path d="M771 245 694 222 447 136 493 142 436 171 488 111 300 199 762 249 703 252 550 127 197 290 57 271 835 274 182 321 199 300 653 202 116 294 721 301 596 151 453 117 765 265 210 293 773 256 278 192 806 308 374 195 155 294 668 235 195 259 125 257 723 270 837 334 89 271 475 135 254 285 236 286 94 289 214 277 837 298 138 248 512 140 681 225 778 244 848 335 149 281 765 310 580 164 751 247 455 154 109 335 718 298 843 260 151 262 87 315 377 155" style="marker:url(#m1_1)"/>
<path d="M530 176 359 160 306 217 534 153 830 296 361 159 92 306 214 299 646 233 230 263 466 212 149 289 576 165 280 294 497 176 68 354 72 329 254 252 256 301 532 204 326 222 484 155 725 282 512 156 57 301 670 236 377 195 203 306 331 195 850 304 762 281 488 191 569 220 276 225 258 341 778 288 574 126 427 185 212 271 357 173 495 189 771 278 723 307 495 160 203 270 186 346 587 164 576 199 598 185 315 197 778 304 464 188 773 295 94 357 745 263 280 227 668 216" style="marker:url(#m2_0)"/>
<path d="M333 140 701 239 480 119 89 349 815 263 122 303 556 136 686 229 727 275 140 321 228 237 675 246 381 160 52 368 828 290 718 253 157 265 690 233 528 134 129 275 445 104 217 296 672 250 302 229 653 187 427 151 754 247 499 171 230 228 515 106 672 236 605 170 122 352 442 144 103 298 666 256 475 114 712 238 271 262 703 266 182 304 664 155 219 254 532 120 723 269 355 114 418 135 602 202 133 283 839 321 414 146 585 182 280 213 830 340 530 133 699 223 765 337 784 272 832 346 683 261 337 142 445 124 184 317 166 319 710 249 155 367 677 301 466 169 223 275 756 325 295 129 506 106 765 316 723 330 756 271 263 204 256 275 267 242 677 269 510 148 85 362 620 201 195 298 644 205 184 346 89 301 727 301 591 105 201 276 668 259 622 166 762 282 725 260 846 311 738 322 550 102 344 130 392 154 569 133 173 269 791 295 651 231 657 230 786 323 68 338 127 335 572 153 63 302 460 134 142 320 352 148 431 111 160 287" style="marker:url(#m6_0)"/>
<path d="M631 216 390 181 223 194 793 322 92 295 230 237 754 278 390 192 523 102 510 121 681 241 558 96 830 263 613 202 848 335 377 206 791 304 76 269 526 101 348 169 146 294 716 246 760 278 96 300 705 293 795 273 681 258 716 241 182 253 335 196 740 256 572 179 508 112 517 125 243 237 70 251 285 158 157 280 352 124 416 157 100 284 786 316 366 194 800 278 431 139 383 166 302 195 640 210 195 301 214 249 600 128 769 275 396 103 583 158 263 208 306 185 350 187 850 328 679 216 558 146 795 287 309 142 276 213 587 107 677 201 466 156 848 327 637 228 186 254 677 205 245 221 346 133 697 218 589 149 138 323 688 203 228 204 729 234 298 174 672 246 762 296 438 158 782 272 383 180 403 150 835 355 434 149 784 261 317 152 171 264 732 232 655 219 98 295 50 302 793 309 800 279 721 242 105 325 839 353 609 164 249 208 743 236 817 290 274 171 72 276 276 172 591 125 675 227 388 191 811 247 368 168 144 287 54 370 210 224 342 157 580 182 611 180 692 248 622 135 749 269 806 289 263 194 396 144 587 150 762 276 54 297 613 159 791 265 339 178 293 206 247 187 142 271 738 248 548 117 78 321 721 225 276 223 502 153 442 134 168 357 203 229 670 197 587 84 394 111 68 350 245 253 394 227 594 135 61 281 326 139 74 323 576 179 506 130 773 255 567 149 403 125 626 162 714 270 339 130 552 136 149 300 817 274 613 158 657 187 793 311 572 181 241 276 830 255 70 319 751 263 648 198 445 122 635 188 179 256 611 167 225 265 357 182 721 236 431 84 795 301 828 289 596 212 714 245 118 246 488 138 212 259 534 115 677 213 138 299 164 344 675 239 223 228 488 107 850 293 710 197 285 166 442 155 631 235 723 244 348 184 797 210 574 150 554 134 703 195 729 235 131 329 550 120 109 293 111 301 576 119 736 247 550 137 357 157 324 226 232 263 789 320 236 237 420 133 289 215 828 245 778 319 526 139 508 178 569 136 824 317 282 182 78 275 591 193 850 276 78 308 440 209 806 295 315 199 280 204 631 186" style="marker:url(#m4_0)"/>
<path d="M357 216 552 193 548 183 554 201 502 153 734 272 694 213 133 271 802 266 76 281 697 235 142 270 263 265 306 209 460 145 116 250 530 164 344 164 795 262 217 238 775 245 317 249 602 175 188 255 403 177 214 212 778 292 142 272 512 150" style="marker:url(#m1_7)"/>
<path d="M797 265 267 227 813 275 76 274 368 166 434 161 718 239 291 194 484 138 282 196 190 240 464 153 179 290 98 246 626 184 236 264 103 263 105 288 749 237 679 246 657 194 63 284 96 281 464 114 672 184" style="marker:url(#m4_5)"/>
<path d="M563 202 563 202" style="marker:url(#m1_10)"/>
<path d="M199 227 210 270 442 150 510 226 806 273 52 269 381 185 721 221" style="marker:url(#m0_7)"/>
<path d="M697 259 605 165 160 260 379 137 363 171 177 271 561 139 822 268 89 297 510 101 54 206 780 299 644 195 368 159 76 275 756 260 537 147 392 151 146 280 475 129 510 99 556 158 179 276 458 144 466 143 705 249 618 161 839 288 534 179 103 287 475 164 502 133 721 264 609 174 171 244 811 285 756 264 655 220 771 285 668 221 429 160 580 203 692 222 482 124 223 229 81 271 335 198 826 265 629 166 440 137 192 239 466 130 223 226 111 250 699 228 195 265 585 148 708 240 789 303 672 203 484 119 765 247 326 221 355 201 175 219 662 235 385 153 92 306 767 279 423 131 508 97 118 272 274 227 690 205 401 159 70 292 361 210 727 267 295 237 455 139 451 141 179 256 337 157 815 277 773 259 539 183 429 158 184 271 339 234 127 267 140 275 602 190 70 291 699 256 738 300 789 266 723 239 797 258 747 254 591 155 574 184 633 186 401 141 613 216 666 215 125 259 234 203 591 209 223 235 221 248 797 327 138 260 771 300 315 232 646 190 254 204 841 288 659 177 694 228 732 260 247 269 686 229 208 246 569 125 210 270 583 133 206 263 613 155 269 218 740 240 675 265 223 240 78 294 721 276 686 230 197 223 589 171 249 245 723 272 480 148 295 219 52 310 118 320 78 298 620 220 572 210 359 160 605 155 686 233 611 177 839 309 828 295 65 276 379 187 309 198 466 150 651 154 701 230 712 260 786 293 789 266 765 253 644 181 96 271 841 277 811 262 624 221 155 298 598 151 795 260 355 137 85 315 111 262 469 146 293 207 370 152 142 298 100 303 635 205 171 259 482 126 644 215 510 158 773 254 771 304 659 210 824 281 232 267 379 177 313 219 598 161 107 301 675 206 374 139 256 253 116 272 574 139 366 196 427 174 451 106 160 301 72 336 195 256 103 312 653 229 83 304 594 178 725 237 418 145 824 309 697 284 576 163 591 150 256 262 466 92 52 289 769 254 697 222 352 176 68 301 416 134 615 190 109 275 839 301 532 140 580 135 666 268 558 189 561 175 350 180 313 175 585 128 587 156 416 190 157 323 142 277 795 264 843 269 756 257 583 206 129 260 600 195 269 211 510 146 350 202 337 215 530 168 848 289 469 221 624 150 786 307 234 286 778 284 740 245 846 288 605 184 100 296 745 239 824 330 217 267 596 172 718 251 747 327 662 221 589 150 149 291" style="marker:url(#m1_0)"/>
<path d="M377 201 808 350 322 195 361 191 210 306 214 300 348 242 298 239 241 291 631 182 94 314 769 254 642 225 164 315 87 297 659 218 184 285 212 251 591 186 83 318 756 276 315 247 339 190 523 137 548 142 328 199 129 299 846 369 611 206 368 227 146 313 418 225 368 204 125 324 377 180 414 193 361 212 769 343 539 173 276 225 596 134 260 276 252 253 142 290 688 271 644 239 541 174 291 261 532 183 243 250 366 233 184 276 550 176 151 334 791 318 429 149 168 279 320 205 405 173 813 363 352 195 168 272 727 303 285 224 767 270 819 337 613 225 434 173 344 219 57 346 813 298 236 249 300 222 629 200 326 181 749 263 412 126 436 147 804 288 418 137 379 184 786 277 186 268 657 237 786 282 778 317 756 318 188 300 692 229 589 194 655 245 576 142 795 338 385 178 657 196 146 295 683 264 644 244 377 134 558 177 78 320 135 289 502 162 488 173 247 312 718 263 835 295 449 153 234 281 197 275 59 307 725 299 824 317 265 234 732 261 708 285 813 281 271 280 703 270 256 223 537 156 762 270 464 158 74 349 177 296 703 283 280 207 201 227 611 198 116 298 477 139 517 139 548 146 675 261 611 178 574 183 374 240 594 193 370 178 129 309 686 281 434 190 326 185 385 201 567 169 63 298 208 314 451 155 324 199 265 258 76 313 190 246 431 168 146 289 179 376 780 302 751 277 830 288 431 204 337 175 254 243 510 172 370 157" style="marker:url(#m0_0)"/>
<path d="M274 185 591 129 280 213 401 172 230 179 54 307 697 211 458 137 278 222 379 169 418 111 618 150 447 125 293 176 278 228 740 257 374 169 280 206" style="marker:url(#m5_3)"/>
<path d="M149 270 519 112 819 282 848 371 357 167 587 135 732 280 269 180 580 106 390 162 451 107 462 79 602 197 186 279 690 263 523 152 434 139 756 247 61 314 114 323 824 310 640 188 718 256 848 319 662 243" style="marker:url(#m4_1)"/>
<path d="M760 318 355 165 210 238 201 305 600 222 793 312 471 86 366 153 76 309" style="marker:url(#m6_2)"/>
<path d="M98 247 846 258 445 188 460 162" style="marker:url(#m1_9)"/>
<path d="M342 235 280 259 602 228 477 154 254 196 740 264 672 289 576 125 699 220 357 200 361 164 157 330 401 151 662 229 238 275 508 135 416 110 405 190 793 294" style="marker:url(#m8_5)"/>
<path d="M640 176 140 242 765 297 363 157 708 262 221 222 758 265 374 147 96 328 228 232 179 286 414 147 802 283 659 209 188 327 837 311 532 158 317 188 289 213 151 268 545 111 396 177 464 146 431 101 324 189 631 193 530 82 846 329 690 232 585 176 471 123 839 283 414 148 648 185 442 126 594 185 111 279 438 115 252 185 635 142 324 198 824 279 841 300 712 271 506 162 54 339 377 161 567 170 567 163 591 206 94 265 271 186 431 124 567 133 431 155 146 307 280 224 155 337 618 149 339 154 258 201 81 284 723 229 795 336 740 253 280 167 642 200 782 275 306 246 370 147 683 205 425 144 484 74 765 261 355 139 182 316" style="marker:url(#m5_0)"/>
<path d="M815 294 815 294" style="marker:url(#m2_9)"/>
<path d="M690 206 642 199 65 277 350 185 295 150 765 300 578 201" style="marker:url(#m6_4)"/>
<path d="M388 162 455 122 605 152 289 200 285 151 749 302 76 287 502 96 455 196 423 153 493 152 302 166 217 210 716 267 412 127 238 262 361 210 589 194 694 271 705 278 574 155 475 96 558 147" style="marker:url(#m7_4)"/>
<path d="M515 100 116 279 574 196 583 160 87 255 850 315 179 253 675 208 561 180 624 200 208 287 767 286 835 279 388 144 469 202 208 250 214 244 96 264 793 273 762 284 469 164 157 287 429 195 659 192 618 210 70 275 846 273 473 157 648 238 331 168 475 157 471 233 578 179 171 301 407 163 225 232 563 185 552 159 651 201 666 211 328 228 171 236 771 255 526 165 138 232 131 249 57 258 543 153 521 157 841 258" style="marker:url(#m1_6)"/>
<path d="M795 261 795 261" style="marker:url(#m4_8)"/>
<path d="M675 242 508 139 806 330 491 86 613 180 464 111 127 272 331 165 230 250 708 248 256 214 716 277 613 165 162 330 131 319 760 303 449 137 659 195 460 73" style="marker:url(#m7_1)"/>
<path d="M611 188 431 162 646 230 361 193 315 196 449 102 534 146 491 141 800 276 223 265 68 345 690 284 688 265 59 321" style="marker:url(#m2_2)"/>
<path d="M423 176 756 282 175 283 103 269 784 265" style="marker:url(#m0_8)"/>
<path d="M72 335 285 203 267 228 800 310 631 220 802 288" style="marker:url(#m3_3)"/>
<path d="M710 232 725 238 762 283 480 168 657 218 580 159 567 151" style="marker:url(#m6_3)"/>
<path d="M363 135 363 125 445 122 184 278 808 287 587 144 94 305 322 198 541 111 729 307 377 164" style="marker:url(#m6_1)"/>
<path d="M385 141 521 70 374 136 477 135 605 193 361 155 760 265 666 209 449 168 600 163 819 278" style="marker:url(#m5_1)"/>
<path d="M532 132 745 258 348 139 436 139 657 240 164 310 736 205 727 257 438 132 600 168 510 165 471 170 366 180 830 289 635 198 721 246 342 139 407 150 572 119 109 317" style="marker:url(#m7_3)"/>
<path d="M473 93 488 132 784 302 179 286 710 262 206 222 179 326 379 205 705 266 131 326 357 178 826 333 598 154 135 328 234 257 523 85 541 103 291 208 815 304 567 160 664 274 449 137 664 243 379 147 712 262 295 210 289 192 377 109 219 272 442 116 271 201 236 192 138 365 434 153 363 150 105 308 359 151 291 209 352 187 331 194 528 137 543 94 668 252 359 152 195 325 287 268 613 193 418 148 727 272 228 290 416 182 302 139 396 193 289 186 138 318 512 157 480 110 512 145 63 343 298 222 302 229 828 356 153 301 182 314 405 142 659 180 295 263 607 209 160 305 175 304 846 285 331 216 225 275 377 195 740 284 491 149 309 194 648 168 190 241 462 121 63 346 767 330 822 327 563 146 317 182 217 283 565 102 234 290 477 194 694 248 403 147 708 272 734 291 662 232 322 226 366 120 679 267 149 340 420 200 243 215 572 105 721 255 184 400 293 174 295 275 339 227 517 83 561 194 388 156 646 243 396 154 306 222 473 171 405 148 247 316 718 275 622 154 162 323 326 193 534 149 92 313 587 197 125 334 789 341 114 344 850 368 372 177 589 155 168 322 225 269 199 279 236 223 552 132 848 327 480 169 745 305 197 291 782 324 339 174 140 290 254 236 670 231 175 307 164 277 499 174 333 197 249 236 677 249 225 248 87 379 607 234 633 193 635 220 850 300 295 209 618 195 714 248 754 249 543 100 493 144 339 201 758 329 677 220 355 246 140 285 76 325 309 192 118 328 747 326 54 322 502 139 758 261 278 220 578 135 850 345 385 147 368 223 839 357 346 185 92 347 506 187 247 277 374 179 363 109 85 318 265 209 681 245 267 203 383 122 640 187 447 163 166 308 460 114 767 320 164 346 298 197 258 269 740 318 199 261 633 173 749 295 265 259 396 161 368 141 843 337 105 334 760 368 212 282 567 171 190 275 263 254 523 96 214 311 850 377 613 178 118 294 50 371 806 351 72 358 363 117 197 265 462 125 287 253 396 162 57 311 407 151 512 169 609 179 743 304 488 183 455 129 502 138 405 102 381 208 295 230 512 172 238 242 168 313 243 254 276 213 85 345 298 165 699 278 302 209 260 245 504 144 635 206 225 250 359 196 541 147 59 325 197 288 760 312 344 226 469 84 394 98 208 257 784 307 475 92 572 172 736 317 177 293 843 350 780 337 164 321 462 112 278 179 530 174 710 278 131 308 440 150 225 213 377 110 850 347 87 322 690 276 142 304 677 222" style="marker:url(#m8_0)"/>
<path d="M280 235 574 160 445 128 298 199 368 163 87 314 662 260 442 182 510 128 94 333 394 191 749 312 179 310 385 185 679 303 337 187 398 139 462 160 754 316 747 317 322 202 394 193 280 278 282 237 162 361 361 207 493 164 602 209 409 124 232 275 694 264 539 206 512 201 473 165 569 171 729 280 295 224 537 140 195 317 366 172 403 104 548 195 98 293 491 160 304 236 727 264 778 314 232 195 350 199 208 262" style="marker:url(#m2_0)"/>
<path d="M409 120 773 318 138 283 517 125 420 147 653 229 407 134 234 214 712 283 688 227 212 259 569 132 429 126 530 77 236 243 271 212 712 278 655 207 497 107 236 237 486 120 254 222 146 309 477 127 837 260 499 108 692 233 497 184 791 317 230 230 155 280 464 119 749 265 355 225 451 102 743 249 359 183 835 322 778 267 835 294 70 328 815 312 324 178 624 189 475 114 390 166 398 120 125 295 460 100 574 159 672 260 607 184 699 256 247 265 186 281 493 122 545 110 541 93 556 118 449 55 515 141 74 331 267 225 451 77 125 306 502 94 140 270 521 152 760 274 352 179 379 145 392 147 486 149 335 150 705 288 697 248 70 311 155 344 480 78 304 186 302 210 795 271 252 249 690 239 173 271 512 90 175 277 712 268 758 253 256 210 405 111 622 180 337 209 596 148 561 132 837 289 703 197 488 190 403 120 576 193 458 136 725 273 151 270 289 202 543 149 460 104 637 152 120 310 293 164 556 96 81 345 252 241 843 321 203 277 692 264 624 153 659 227 317 187 447 113 624 181 445 123 186 282 629 217 710 261 843 363 550 129 355 135 624 202 412 134 249 191 271 225 155 288 765 295 530 120 453 112 611 220 605 196 304 158 526 127 569 139 210 243 596 134 850 334 199 271 381 154 502 104 626 230 339 175 61 328 232 279 598 135 826 315 679 241 68 321 131 274 372 199 157 308 372 147 331 155 519 185 721 268 493 164 624 165 346 183 120 333 447 139 377 116 517 130 515 173 434 92 740 265 721 276 589 149 762 267 699 256 701 280 144 293 50 330 471 152 245 243 414 80 431 176 232 214 388 121 537 150 655 206 65 327 703 250 120 288 800 309 269 166 701 275" style="marker:url(#m7_0)"/>
<path d="M550 176 550 176" style="marker:url(#m3_7)"/>
<path d="M460 129 157 341 754 315 447 170 497 145 114 302 140 339 850 320 385 216 344 140 464 141 466 141 324 168 782 323 565 181 530 135 85 313 434 202 447 170 337 219 427 128 398 147 94 318 583 173 646 204 414 158 543 130" style="marker:url(#m8_1)"/>
<path d="M427 164 427 164" style="marker:url(#m5_8)"/>
<path d="M100 280 580 136" style="marker:url(#m4_7)"/>
<path d="M732 312 258 216 622 161 583 154 409 145 543 177 532 187 620 173 223 232 228 231 793 272" style="marker:url(#m5_6)"/>
<path d="M751 264 642 224 631 235 475 153 817 243 694 240 217 249 333 197 186 307 565 208 690 215 120 235 50 276 127 244 539 183 554 188 786 291 679 265 221 270 313 211 326 199 442 110 298 209 506 127 596 200 370 131 335 149 754 276 569 171 618 198 591 141 133 313 328 238 50 285 493 147 817 248 436 146 591 174 565 162 388 238 342 149 811 313 609 213 445 178 526 215 449 217 458 142 335 196 646 207 144 287 530 148 815 241 65 255 221 224 352 153 324 158 493 132 543 115 517 168 631 164 694 239 683 248 743 240 83 265 828 255 624 142 92 310 574 179 806 280 125 277 532 193 377 166 846 296 192 233 466 150 526 129 594 221 195 258 729 227 445 218 149 259" style="marker:url(#m1_5)"/>
<path d="M258 196 453 134 357 140 662 217 72 312 508 122 611 165 708 272 782 283 618 138 322 169 679 273 569 130 718 272 843 312 526 143 282 163 276 224 572 139 648 228 333 145 583 147 655 245 133 342 563 137 83 297 817 298 447 71 221 219 243 226 797 298 374 133 420 142 144 295 234 220 561 147 668 206 622 191 657 207 201 310 311 168 583 100 793 291 690 285 587 151 732 277 497 118 385 163 843 307 800 303 775 287 607 182 769 243 786 280 637 170 841 331 116 295 267 162 114 289 675 225 815 322 611 140 302 256 519 123 624 181 197 279 140 364 644 178 591 173 697 215 646 215 631 189 203 295 760 300 396 151 749 297 249 266 637 211 54 307 105 311 666 242 103 336 690 211 78 337 412 108 131 347 815 338 190 277 436 122 729 322 357 156 289 178 149 308 355 150 497 148 109 295 157 296 784 270 611 132 328 196 263 246 607 169 771 324 813 282 754 272 201 254 826 309 554 136 629 171 68 363 701 262 223 273 683 218 317 179 390 135 701 191 688 269 499 107 98 302 740 294 295 242 146 317 548 154 552 124 784 326 256 236 157 297 749 298 344 159 615 199 127 321 662 216 92 314 804 378 806 313 765 293 653 251 447 113 238 241 326 219" style="marker:url(#m6_0)"/>
<path d="M541 189 339 180 567 120 188 237 791 288 495 149 743 263 837 268 135 266 651 229 153 262 374 176 657 212 59 298 622 185 434 160 830 326 217 254 271 178 166 277 672 170 140 251 841 268 368 146 789 332 324 170 166 283 197 295 580 167 600 179 800 277 68 288 517 173 484 171 98 283 791 253 791 246 769 299 100 277 96 320 782 291 743 260 214 259 762 284 83 326 214 265 118 288 135 285 107 276 74 282 157 260 175 221 811 259 609 184 151 285 600 200 182 250 92 288 396 224 791 271 819 308 716 264 206 256 146 288 74 241 675 221 703 216 234 232 390 187 238 256 201 259 125 284 824 344 96 281 197 292 530 134 664 210 114 306 263 255 445 224 716 248 298 190 184 242 574 170" style="marker:url(#m1_3)"/>
<path d="M267 235 398 172 762 323 545 96 342 213 784 283 203 217 223 244 223 269 808 379 583 149 155 266 282 231 499 122 804 306 811 281 350 163 374 174 304 191 688 281 508 184 631 172 633 256 567 181 721 243 453 167 348 102" style="marker:url(#m8_4)"/>
<path d="M177 271 600 161 552 168 366 164 782 279 802 317 523 132 129 269 716 257 666 166 662 230 416 127 445 166 98 396 324 169 725 269 734 281 471 182 850 289 258 289 322 186 144 302" style="marker:url(#m2_3)"/>
<path d="M578 197 789 263 822 304 418 152 743 273 427 184 54 276 477 131 278 217 635 193 600 229 811 279 164 273 153 234 585 140 302 225 195 213 541 202 445 174 778 213 644 185 192 258 806 294 346 223 512 154" style="marker:url(#m1_7)"/>
<path d="M366 94 819 278 192 256 447 126 177 288 289 209 802 281 164 275 57 268 705 256 690 267 657 194 320 199 512 191 727 248 184 273 177 292 550 159 171 261 629 178 596 207 70 281 131 289 447 178 850 297 436 154 745 308 670 243 317 208 451 146 451 163 157 239 756 257 425 159 57 322 644 186 775 264 166 285 162 277 210 256 258 210 179 305 664 201 348 217 488 113 561 158 388 242 506 155 192 250 607 141 92 284 267 268 765 314 666 200 512 174 217 230 225 246 309 178 797 293 703 282 631 211 453 175 721 268 445 193 103 279 59 308 438 153 155 291 116 287 306 245 598 191 114 251 105 324 76 286 556 119 572 133 800 302 659 211 245 214 188 276 313 185 118 271 153 288 567 154 517 127 258 232 302 101 732 232 758 290 298 202 528 125 475 180 756 251 271 201 317 209 653 182 197 273 786 278 688 223 846 272 131 282 477 137 813 306 105 334 843 248" style="marker:url(#m1_4)"/>
<path d="M648 201 438 113 782 245 545 139 778 270 756 270 600 155 361 175 339 222 409 184 583 194 153 279 50 305 837 283 247 256 405 165 344 141 177 307 594 195 493 125 192 287 760 228 197 284 427 173 168 254 587 149 813 294 811 333 103 276 843 290 247 314 140 284 352 176 519 167 173 260 640 161 837 331 846 253 828 254 791 272 352 212 190 299 811 324 611 207 460 166 363 119 664 226 313 262 177 296 184 245 381 158 249 213 767 222 532 135 736 238 116 294 425 168 618 172 655 231 383 180 344 181 385 121 681 235 817 328 600 155 662 245 324 244 732 250 839 320" style="marker:url(#m1_1)"/>
<path d="M475 107 754 238 149 263 438 152 455 92 188 230 396 144 63 306 396 116 558 136 598 127 712 249 756 284 808 273 54 298" style="marker:url(#m5_2)"/>
<path d="M192 286 188 291 703 253 258 273 70 343 186 278 499 161 784 282 469 137" style="marker:url(#m8_6)"/>
<path d="M771 274 832 272 543 169 662 203 306 183 620 162 830 314 789 259 622 181 177 251 442 210 622 166 668 205 760 295 70 269 381 150 705 249 374 199 409 168 107 261 703 244 107 315 563 183 238 230" style="marker:url(#m4_5)"/>
<path d="M622 218 462 195 519 196 396 240 285 221 716 279 466 169 797 254 407 186 306 226 398 219 431 193 558 211 683 247 837 306" style="marker:url(#m0_6)"/>
<path d="M377 143 499 126 710 272" style="marker:url(#m3_2)"/>
<path d="M149 268 442 226 276 177 342 141 771 230 256 270 157 308 78 266 317 158 131 295 114 321 76 273 523 148 287 264 144 309 760 257 828 300 497 127 337 207 271 238 168 310 85 297 775 293 326 259 168 355 103 284 309 220 142 300 322 202 122 337 762 308 712 268 629 203 280 186 697 280 374 208 78 330 173 300 688 278" style="marker:url(#m0_2)"/>
<path d="M495 146 515 190 558 200 151 268" style="marker:url(#m8_7)"/>
<path d="M392 210 795 293 797 247 414 208 473 181 232 301" style="marker:url(#m2_8)"/>
<path d="M815 290 754 287 383 143 640 227 672 255 675 254 372 143 600 149 221 210" style="marker:url(#m7_5)"/>
<path d="M302 181 817 269 260 192 409 146 837 304 451 114 648 224 65 294 539 108 721 261 366 187 451 141 190 261 315 156 98 323 412 118" style="marker:url(#m3_0)"/>
<path d="M315 217 732 272 221 280 850 289 629 177 600 212 328 219 390 184 377 197 646 244 578 170 162 333 381 221 254 268 245 213 438 188 394 149 473 164 850 293 179 296 254 252 466 182 445 140 401 180 192 279 92 336 837 319 826 326 622 216 331 230 140 297" style="marker:url(#m2_4)"/>
<path d="M320 182 197 315 282 219 567 179 541 132 122 353 105 281 534 137 789 295 366 156 431 143 670 198 574 150 210 183 587 152 802 306 517 92 672 222 155 279 420 125 392 145 622 176 269 240" style="marker:url(#m7_2)"/>
<path d="M530 143 495 176 736 220 427 165 488 152 346 226" style="marker:url(#m5_7)"/>
<path d="M311 218 344 162 385 203 206 263 530 203 694 259 488 215 68 283 103 303 50 296 664 288 477 140 293 277" style="marker:url(#m2_7)"/>
<path d="M398 117 519 147 554 153 736 218 837 308 127 293 692 231 512 159 412 112 635 175 298 165 635 165 142 331 326 202 530 72 569 182 78 284 596 128 458 134 120 282 699 250 361 160 517 187 510 176 315 200 381 154" style="marker:url(#m4_4)"/>
<path d="M526 167 526 167" style="marker:url(#m8_8)"/>
<path d="M850 285 274 178 105 310 50 340 140 313 388 91 778 302 751 285 160 265 116 296 662 215 168 293 690 232 600 105 591 141 298 178 729 252 734 246 315 195 786 303 302 212 109 265 269 268 94 313 611 190 675 216 701 254 100 302 54 306 767 260 780 262 576 149 63 325 221 232 107 241 322 160 416 130 756 290 313 165 537 123 234 260 98 272 107 339 491 114 653 150 260 169 679 209 151 234 688 232 451 113 475 90 734 245 736 316 383 139 105 259 751 277 260 253 622 203 103 331 515 164 392 156 708 244 598 176 754 284 173 255 168 253 596 113 249 224 756 210 135 272 164 253 383 101 94 287 646 178 729 238 826 271 304 164 631 179 822 338 348 183 173 304 830 301 668 223 219 185 828 307 732 242 383 121 488 151 232 265 775 302 567 136 543 137 160 304 815 252 175 382 561 171 822 357 839 298 221 229 256 149 311 209 63 328 780 281 718 284 672 217 767 318 532 115 144 285 247 223 773 241 797 239 543 120 326 176 269 157 390 139 210 263 651 265 72 256 791 262 197 278 830 332 640 201 554 160 225 282 59 336 184 323 425 130 539 113 635 199 822 264 583 114 504 117 819 295 131 271 729 263 398 119 543 137 773 300 252 159 127 331 315 138 98 281 230 241 265 175 607 168 835 325 100 257 771 274 624 225 598 146 626 196 425 141 116 247 61 270 631 173 195 266 313 179 440 122 666 186 92 317 447 97 567 143 98 349 528 134 228 278 206 268 324 186 153 264 710 225 306 203 712 222 394 138 243 181 745 217 322 139 278 195 405 120 622 168 311 187 412 126 683 228 234 252 578 179 182 253 243 246 225 270 683 205 751 270 394 109 171 248 179 250 396 130 558 133 186 246 670 173 223 233 594 174 677 180 352 235 414 156 756 250 388 165 434 155 164 318 480 114 295 195 714 258 234 216 738 227 363 148 572 178 846 270 686 260 532 96 602 175 221 232 171 279 591 166 804 330 157 289" style="marker:url(#m4_0)"/>
<path d="M504 169 517 122 217 241 587 153 282 214 151 253 57 250 765 233 322 131 162 267 462 113" style="marker:url(#m4_6)"/>
<path d="M548 176 197 249 162 268 830 314 548 111 440 145 50 283 54 274 618 168 217 248 572 155 300 149 694 232 826 279 385 169 245 241 203 232 252 243 657 194 480 156" style="marker:url(#m5_5)"/>
<path d="M771 264 54 312 438 137 385 109 600 117 379 149 186 265 708 239" style="marker:url(#m5_4)"/>
<path d="M819 258 440 200" style="marker:url(#m5_9)"/>
<path d="M451 156 182 311 111 309 758 309 352 219 486 184 278 247 548 199 434 150 659 194 300 243 596 175 295 211 550 151 171 295 447 159 355 238 440 174 249 241 168 349 795 299 396 139 357 172 212 256 302 230 322 222" style="marker:url(#m2_6)"/>
<path d="M238 324 822 298 710 295 703 275 622 254 552 132 760 297 460 181 344 264 287 243 703 271 826 302 822 333 298 205 539 180 89 333 848 321 160 298 225 242 306 222 276 263 107 309 210 275 276 237 734 321 710 264 458 173 398 206 618 215 54 281 545 162 74 284 451 187 383 193" style="marker:url(#m0_5)"/>
<path d="M633 249 230 248 381 196 195 221 653 214 107 255 754 270 447 168 846 248" style="marker:url(#m1_8)"/>
<path d="M300 192 409 130" style="marker:url(#m6_5)"/>
<path d="M729 272 127 317 453 167 173 257 594 158 232 262 129 327 583 158 195 279 322 182 620 188 800 287 379 194 260 246 342 209 291 170 471 200 260 235 96 290 800 283 453 143 311 152 285 222 206 280 583 140" style="marker:url(#m2_5)"/>
<path d="M596 164 679 233 171 291 480 199 182 243 85 322 679 254 160 249 414 151 396 176 512 133 600 194 732 253 451 182 344 149 306 150 355 174 190 257 72 300 808 279 363 144 460 125 832 284 129 341 74 302 116 317 758 261 697 219 615 198 835 299 385 135 701 249 293 198 442 168 78 298 843 284 659 193 743 250 778 285 184 296 254 237 819 345 751 311 285 235 488 150 302 263 659 226 813 332 548 151 76 290 252 240 811 289 105 292 543 134 195 284 210 257 78 317 721 247 120 298 587 165 236 193 434 139 72 248 116 264 491 152 401 141 54 275 506 123 819 253 111 275 699 274 611 157 135 290 409 167 109 271 600 163 743 234 302 196 381 158 116 300 670 223 458 123 556 185 515 139 436 197 85 315 78 322 846 294" style="marker:url(#m1_2)"/>
<path d="M791 344 451 130 784 328 537 226 434 185 129 316 59 287 561 142 331 226 600 182 368 213 515 141 81 304 383 125 328 153 381 161 363 193 57 276 721 282 418 197 613 222 754 274 278 251 401 138 670 239 151 346 655 235" style="marker:url(#m0_1)"/>
<path d="M278 155 672 177 177 260 688 192 850 272 832 306 177 291 565 177 342 161 738 249 287 205 127 261 241 275 622 160 83 368 528 99 778 298 89 329 506 132 83 260 828 260 622 176 721 259 61 281 675 188 622 186 451 142 208 276 466 95 534 87 278 171 635 228 271 189" style="marker:url(#m4_3)"/>
<path d="M100 309 348 157 618 237 438 172 342 225 87 283 120 299 352 221 482 161 611 204 760 278 85 288 366 203 111 306 293 236 94 275 631 219 346 153 815 287 841 289 116 295 361 240 74 312 315 217 129 344 565 175 609 267 377 158 626 216 221 293 166 307 166 262 458 207 850 276 843 287 74 289 74 293 335 233 712 284 160 289 76 292" style="marker:url(#m0_4)"/>
<path d="M416 141 635 227 295 198 436 194 59 312 688 243 263 219 107 313 572 162 366 167 462 119 199 336 512 97 374 151 289 146 89 338 523 182 434 138 223 229 416 141 149 319 129 301 326 166 295 220 572 175 274 182 618 225 646 206 256 205 83 338 151 340 626 183 519 103 155 313 754 328" style="marker:url(#m8_3)"/>
<path d="M613 188 271 293 541 135 826 405 379 187 120 375 607 161 797 296 425 141 423 179 694 264 534 174 179 307 217 302 76 314 177 252 837 349 267 226 576 159 453 116 438 189 631 181 596 226 497 112 523 179 249 209 848 333 657 250 135 349 236 232 105 348 662 261 429 176 843 321 267 259" style="marker:url(#m8_2)"/>
<path d="M247 212 729 283" style="marker:url(#m7_6)"/>
<path d="M289 208 168 275 381 218 96 289 528 169 723 234 843 333 515 142 653 221 114 283 769 287 567 168 594 160 502 196 545 155 436 179 118 320 819 363 431 194 116 299 217 238 497 168 475 188 83 321 811 296 306 206 482 184 133 325 635 211 594 151 778 315 600 214 561 117 366 180 377 169 835 278" style="marker:url(#m0_3)"/>
<path d="M125 281 826 320 600 160 839 278 786 291 186 241 791 268 629 180 521 144 236 266 793 276 401 165 591 153 473 123 293 208 107 273 830 304 431 131 337 160 563 95 72 270 168 286 184 282 127 265 615 178 841 277 762 232 679 206 258 178 631 172 651 234 197 250 61 297" style="marker:url(#m4_2)"/>
<path d="M528 152 352 178 409 189 228 262 103 270 556 133 585 197 168 297 342 195 767 262 815 336 403 126 576 180 210 314 188 283 780 322 548 154 780 304 736 308 52 385" style="marker:url(#m2_1)"/>
<path d="M528 177 304 216 578 165 541 143 480 147 620 228 238 235 300 212" style="marker:url(#m0_7)"/>
<path d="M254 230 374 158 458 176 304 197 491 130 339 181" style="marker:url(#m3_3)"/>
<path d="M361 196 333 199 532 133 585 183" style="marker:url(#m3_5)"/>
<path d="M491 146 458 189 285 214 543 163 769 317 72 350 131 383 127 357 482 141 466 141 149 274 637 195 558 187 125 352 618 230 372 148 396 168 710 277 629 205 416 160" style="marker:url(#m2_3)"/>
<path d="M122 305 416 167 280 240 618 168 339 173 824 293 247 240 758 304 267 212 462 108 473 172 655 223 747 298 142 308 335 224 425 180 804 285 368 152 537 165 826 315 775 281 819 336" style="marker:url(#m2_2)"/>
<path d="M714 286 243 226 346 242 203 287 771 273 403 154 116 284 484 176 315 181 89 269 173 292 54 311 162 322 819 272 423 127 692 243 668 263 162 303 339 190 175 328 526 185 278 184 431 139 282 205 317 203 254 275" style="marker:url(#m0_6)"/>
<path d="M256 255 830 307 339 127 228 283 804 300 135 272 493 168 260 266 644 153 236 253 96 294 598 189 453 140 280 158" style="marker:url(#m5_3)"/>
<path d="M493 178 480 147 451 143 81 360 144 341 802 333 221 323 280 187 241 300 370 141 352 182 596 208 146 265 552 193 558 133 146 349 105 263 826 369 192 270 784 268 760 324 795 309 127 329 637 197 637 180 89 301 116 310 144 302 545 133 374 228" style="marker:url(#m0_1)"/>
<path d="M184 311 552 182 780 320 192 284 179 325 304 215 385 149 806 251 366 198 105 323 228 341 217 229 427 138 352 232 302 212 453 137 70 311 846 316 769 260 274 251 396 208 712 263 326 237 164 281 98 316 306 234 484 112 686 231 182 311 729 276 565 164 436 141 482 117" style="marker:url(#m0_2)"/>
<path d="M578 144 125 337 458 156 182 275 109 307 302 200 771 234 497 178 201 244 352 136 646 173 611 200 81 284 747 242 756 292 723 223 710 242 701 235 541 130 775 267 837 268 819 337 324 227 304 200 306 184 506 145 705 258 366 202 249 251 315 194 569 153 523 150 493 78 480 140" style="marker:url(#m4_3)"/>
<path d="M162 239 460 177 515 189 725 244 304 195 598 180" style="marker:url(#m5_7)"/>
<path d="M363 174 611 174 602 151 407 216 602 199 352 159 635 175 824 290 602 160 313 222 221 211 405 204 306 187 304 201 412 198 241 171 745 259 396 147 398 139 366 184" style="marker:url(#m5_5)"/>
<path d="M762 224 526 138 591 156 352 163 688 231 276 192 344 140 800 327 703 244 374 141 466 123 344 180 491 123 295 182 528 175 409 83 70 349 83 259 247 238 313 143 214 283 127 262 120 306 552 147 677 234 223 257 278 177 615 166 692 236 765 265 808 301 366 170" style="marker:url(#m4_1)"/>
<path d="M68 269 517 161 333 195 795 283 70 332 57 300 81 296 260 229 808 273 688 269 484 207 565 177 758 330 506 160 105 295 813 319 243 238 817 295 83 276 554 181 59 282 120 348 138 356 164 288 182 300 600 200 70 327 464 157 822 317 151 286 813 294 738 293 68 274 54 287 120 274 120 289 615 242 504 141 359 161" style="marker:url(#m0_3)"/>
<path d="M701 235 445 139 635 168 526 178 236 266 679 187 374 187 633 208 832 267 637 160 140 319 710 274 800 250 569 195 811 307 622 209 767 256 317 249 716 267 736 255 304 168 620 192 589 182 830 296 723 224 644 209 532 151 61 291 767 295 451 126 775 270 85 267 640 195 648 203 377 175 850 252 736 268 455 152 786 297 352 126 420 207 607 176 74 269 160 285 631 204 655 245 594 128 672 245 188 287 103 293 423 121 122 274 368 173 819 268 637 198 826 309 289 215 811 290 65 268 238 217 131 315 381 130 164 265 791 248 359 188 175 254 151 262 530 153 133 288 309 245 230 282" style="marker:url(#m1_2)"/>
<path d="M403 126 118 322 324 199 756 280 320 149 817 308 822 304 333 203 228 280 791 360 434 119 256 255 241 232 743 322 366 144 580 165 346 179 328 222 241 322 182 318 743 327 63 353 383 181 179 341 238 223 771 335 434 147 738 240 70 326 736 274 580 200" style="marker:url(#m8_1)"/>
<path d="M100 385 556 166 780 284 738 294 89 319 276 223 629 163 302 199 797 287 265 227 699 223 223 278 65 348 322 214 83 377 168 293 554 133 186 261 578 141 230 249 357 149 806 353 519 106 135 286 611 198 738 303 510 128 122 321 751 302 512 91 729 262 372 201 644 207 743 278 120 286 723 331 754 307 694 218 778 326 824 349 311 132 655 293 50 292 252 181 146 300 718 267 725 259 718 328 602 137 302 139 600 216 219 249 357 110 651 201 65 328 83 328 609 130 427 178 280 226 61 370 598 129 824 297 462 55 173 272 188 261 596 203 751 290 493 110 346 216 659 282 578 143 109 295 401 171 335 153 85 344 83 315 708 254 848 346 686 219 734 241 469 135 699 222 306 186 453 161 440 69 304 165 464 124 589 104 105 350 629 237 521 195 83 331 258 176 646 215 657 188 642 178 368 153 701 257 254 286 848 326 578 131 493 124 289 182 583 193 114 309 580 151 622 166 841 338 620 176 499 135 681 235 668 188 258 174 554 155 157 312 412 177 403 127 140 387 670 239 366 174 819 334 747 253 659 161 462 118 493 158 532 129 363 132" style="marker:url(#m6_0)"/>
<path d="M646 192 751 252 337 211 94 264 76 309 339 192 528 168 295 221 361 185 769 271 396 126 92 265 85 301 659 222 289 187 306 232 688 245 405 156 545 164 260 191 245 283 107 301 214 204 348 181 217 258 74 328 830 257 282 207 767 271 418 154 438 154 620 141 666 225 445 137 219 230 234 222 574 155 561 152 690 236 269 281 683 210 182 283 758 264 379 202 201 267 151 277 815 254 609 125 116 271 208 242 445 131 168 249 94 248 223 241 52 301 499 133 526 102 758 223 782 320 374 205 449 144 254 288 247 259 499 120 420 100 111 296 493 98 688 253 407 143 690 201 819 348 708 213 236 210 826 320 550 131 589 133 659 240 828 291 173 265 241 230 651 187 791 289 804 254 554 113 850 279 824 273 662 212 372 160 168 316 52 349 238 157 447 133 609 129 817 310 690 207 394 145 583 186 361 150 822 273 624 190 414 147 594 164 631 245 708 232 815 310 83 286 81 305 712 255 692 263 633 191 214 258 388 180 732 278 646 234 135 278 793 275 94 306 850 287 414 155 144 279 429 114 550 197 210 319 681 225 177 235 528 116 267 174 455 146 626 215 372 138 778 337 486 152 342 167 291 203 118 277 131 301 716 293 491 149 127 317 440 173 260 225 780 289 701 275 561 120 372 180 686 244 260 247 605 151 405 150 127 275 659 253 120 297 583 94 135 346 398 115 370 105 681 249 721 216 800 250 212 206 727 253 811 247 642 174 116 281 254 207 629 215 497 123 558 85 267 262 580 145 105 323 561 69 81 281 574 145 793 319 749 249 313 240 694 232 370 146 548 128 690 200 607 147 591 135 754 250 710 239 583 117 791 280 822 262 473 85 786 258 409 129 401 202 171 290 146 241 175 255 142 302 659 234 848 310 508 109 322 163 655 213 738 247 539 152 605 145 179 247 846 336 642 217 177 249 611 174 780 310 98 269 751 257 598 169 304 166 754 260 475 112 381 162 471 101 219 181 249 189" style="marker:url(#m4_0)"/>
<path d="M412 187 699 245 94 298 804 271 598 152 425 139 173 244 622 161 806 343 576 161 405 143 769 277 221 226 361 165 61 306 782 280 162 288 87 278 234 309 76 293 846 305 151 318 830 268 640 193 519 154 738 227 409 196 749 303 664 216 293 257 466 110 335 155 241 283 238 257 493 141 355 171 767 267 412 165 502 130 751 262 480 137 120 293 491 156 105 302 361 189 822 338 620 225 655 131 228 245 278 209 374 185 366 165 260 260 201 235 469 125 773 269 651 244 615 181 309 140 295 191" style="marker:url(#m1_1)"/>
<path d="M447 133 519 147 806 312 666 254" style="marker:url(#m6_4)"/>
<path d="M171 242 694 202 832 299 543 192 512 143 697 260 377 132 355 194 175 258 475 178 359 132 784 228 569 198 804 288 182 343 394 248 471 201 199 249 815 292 76 272 510 189 791 287 453 141 291 239 98 278 736 296 83 275 837 319 140 267 131 283 166 256 414 147 583 173 394 154 830 268 192 301 815 293 94 286 263 282 287 188 655 243 199 247 648 214 265 183 850 265 144 249 462 206 409 156 289 202 70 287 800 263 548 212 451 165 416 180 300 206 54 266" style="marker:url(#m1_6)"/>
<path d="M160 254 469 174 495 166 683 262 767 261 664 210 622 181 653 182 537 123 804 233 188 267 434 163 607 173 569 156 96 265 508 143" style="marker:url(#m1_7)"/>
<path d="M822 308 313 166 791 301 388 108 116 346 817 332 466 141 672 245 335 198 815 348 96 309 98 325 782 326 350 181 254 230 648 211 510 201 828 307 291 222 260 214 469 151 495 122 651 240 548 114 626 193" style="marker:url(#m8_4)"/>
<path d="M385 198 306 186 133 307 580 188 265 219 537 161 749 271 278 161 659 231" style="marker:url(#m5_6)"/>
<path d="M712 294 164 285 195 219 567 138 225 222 366 179 346 187 431 141 491 129 477 137 118 297 480 131 412 168 519 130 186 264 705 238 423 168" style="marker:url(#m7_4)"/>
<path d="M282 250 65 295 122 285 142 290 269 244 405 115 670 205 442 98 111 278 412 167 648 189" style="marker:url(#m5_1)"/>
<path d="M725 279 703 247 249 255 63 287 405 150 160 316 232 244 778 303 394 151 87 316 780 285 322 180" style="marker:url(#m6_2)"/>
<path d="M54 280 114 278 675 265 52 297 769 316 659 230 418 152 61 301 388 227 431 189 666 256 802 300 569 158 116 287 471 156 320 196 223 235 298 220 135 337 256 211 609 190 372 160 331 241 679 288 523 170 587 164 348 167 826 276 157 349 100 289 98 319 409 212" style="marker:url(#m0_4)"/>
<path d="M539 132 76 244 186 265 469 201" style="marker:url(#m1_9)"/>
<path d="M578 123 140 247 539 129 206 271 699 287 243 275 120 280 313 165 129 279 263 242 337 162 495 136 512 115 721 218 830 308 445 153 740 252 537 158 670 223 131 297 686 239 721 227 565 147 830 272 282 227 545 181 813 302 76 277 372 239 445 144 600 203 339 227 839 312 541 152 780 248 659 226 122 268 131 248 493 154 361 263 569 174 578 127 732 265 276 228 754 258 129 279 339 190 565 181 725 294 780 247 146 283 225 256 447 124 701 253 116 274 482 155 171 286 241 232 662 248 747 254 59 259 589 179 160 273 471 73 795 277 247 208 806 296 767 283 681 208 151 283 484 149 192 267 469 159 125 308 401 158 111 271 153 313 694 230 238 263 506 152 611 210 486 179 804 255 111 278 247 262 795 290 76 273 243 233 127 268 166 290 225 252" style="marker:url(#m1_4)"/>
<path d="M372 179 751 274 832 282 795 307 243 221 646 204 469 126 615 143 705 247 326 139 653 191 819 286 830 292 203 223 510 151 302 163 762 207 670 226 545 142 116 298 361 119 832 276" style="marker:url(#m4_5)"/>
<path d="M732 307 85 311 418 194 736 295 475 182" style="marker:url(#m2_8)"/>
<path d="M168 285 622 143 311 272 784 271 149 325 418 140 335 202 550 111 786 305 569 120 177 230 252 226 453 121 223 312 692 271 596 206 438 135 269 214 460 141 434 178 732 230 495 123 249 221 548 112 208 263 578 144 482 141 188 294 765 304 359 184 385 117 778 284 751 262 230 280 398 168 155 293 190 258 541 63 727 191 105 275 228 275 523 149 278 177 57 316 605 159 352 155 475 166 78 275 74 315" style="marker:url(#m5_0)"/>
<path d="M243 224 480 141 683 268 447 159 396 144 791 249 339 190 832 270 344 175 278 254 300 205 488 152 642 209 234 253 195 258 640 196 274 268 591 173 837 327" style="marker:url(#m2_7)"/>
<path d="M263 170 449 149" style="marker:url(#m7_6)"/>
<path d="M407 127 644 222 390 168 142 271 363 213 445 144 605 179 455 150 655 243 624 208 416 204 339 215 155 275 813 348 238 227 574 171 135 310 280 236 293 225 495 110" style="marker:url(#m2_6)"/>
<path d="M394 152 394 152" style="marker:url(#m5_8)"/>
<path d="M133 321 263 345 480 135 620 197 96 361 449 139 668 205 502 143 192 299 808 296 357 180 837 348 420 162 83 351 782 265 690 271 173 274 615 217 206 324 460 171 219 310 54 303 416 209 306 234 249 323 366 192 600 186 247 258 718 296 578 138 214 258 453 181 493 160 848 322 54 291 409 147 556 152 806 336 267 235 177 318 611 153 309 215 484 162 843 298 326 242 723 265 427 108 462 173 521 171 436 165 217 348 670 208 677 241 412 179 245 257 515 176 613 180 412 86 379 174 122 337 449 142 491 129 521 154 160 334 420 156 276 238 734 216 103 383 732 316 350 207 306 280" style="marker:url(#m2_0)"/>
<path d="M473 134 127 303 291 189 835 346" style="marker:url(#m3_1)"/>
<path d="M675 240 633 195 149 289 238 237 339 162 576 187 412 143 784 258 475 135 585 163 149 273 311 149 309 225 480 153 282 247 50 286 469 104 462 131 57 322 89 292 659 196 68 303 797 321 206 250 493 180 298 201 727 257 488 108 309 198 587 194 758 259 333 238 670 226 681 275 311 173 471 127 697 229 690 237 532 105 620 199 78 257 811 275 98 321 811 249 510 126 120 268 716 253 265 275 686 209 534 128 692 213 203 274 578 158 804 271 670 225 762 288 291 173 135 309 149 295 197 225 247 228 401 167 78 315 295 183 480 151 295 213 786 291 70 373 813 282 767 262 594 168 458 148 773 252 598 102 837 334 197 247 337 175 675 234 212 282 100 247 734 293 293 189 449 122 646 248 295 194 331 207 287 252 125 241 263 211 464 132 668 210 771 262 96 310 182 233 605 137 789 309 609 196 420 190 666 234 447 139 626 168 475 140 94 337 703 257 298 190 594 139 140 321 339 157 182 295 212 241 710 235 263 201 797 317 166 242 125 268 89 322 322 166 203 324 359 194 688 212 177 268 565 126 442 152 344 193 800 278 83 290 401 138 186 281 615 188 580 165 54 271 736 224 543 142 188 260 745 237 355 161 333 207 789 298 782 263 475 177 517 68 725 270 127 262 506 156 830 279 769 255 615 230 276 197 280 243 313 196 806 281 718 306 109 268 824 287 530 113 339 179 552 60 664 249 414 158 223 231 526 117 78 293 249 233 491 158 85 279 236 185 718 219 256 189 734 238 223 247 184 282 537 164 576 168 515 147 388 145 523 155 282 183 756 248 68 343 629 175 664 237 383 184 482 126 87 283 729 309 620 207 734 264 504 195 451 145 493 148 129 311 328 131 806 257 100 311 743 276 738 231 50 281 203 229 416 138 171 247 50 284 350 146 745 329 455 127 65 293 103 285 263 196 765 262 469 96 780 272 401 133 212 252 835 301 315 217 697 299 545 169 795 259 116 316 563 118 679 225 166 274 550 98 548 145 309 212 846 282 541 166 716 239 186 283 221 252 502 149 806 254 460 149 690 246 662 193 578 161 429 118 517 116 243 226 405 159 127 305 471 152 186 268 462 99 177 344 276 213 416 165 552 172 258 194 672 195 848 290 129 288 197 200 436 142 596 173 300 208 789 269 822 282 732 257 775 285 449 124 736 236 672 178 63 312 396 134 436 171 473 126 445 172 85 309 841 281 767 231 282 209 635 167 291 263 219 353 258 242 85 280 412 186 398 162 392 173 171 255 306 201 471 166" style="marker:url(#m1_0)"/>
<path d="M620 202 681 192 295 239 342 127 151 319 622 196 238 312 322 210 243 220 449 219 469 114 372 161 736 279 416 151 819 306 458 123 797 288 287 251 313 218 263 241 830 336 326 252 157 307 491 150 598 203 839 323 626 230 607 193" style="marker:url(#m8_3)"/>
<path d="M107 299 631 249 545 95 420 154 708 245 811 284 552 106 539 139 72 295 828 300 765 361 451 163 398 180 313 215 486 127 480 197 600 186 615 176 418 168 333 171 521 153 423 109 512 137 370 192 388 187 368 204 313 221 195 331 151 363 675 276 815 259 298 180" style="marker:url(#m2_4)"/>
<path d="M594 154 409 191" style="marker:url(#m3_6)"/>
<path d="M184 297 819 310 486 174 464 150 567 176 54 297 583 232 738 235 322 197 252 269 412 131 129 279" style="marker:url(#m3_0)"/>
<path d="M76 299 466 103 499 192 81 241 775 248 153 294 462 128 440 126 530 158 811 279 464 134 705 189 734 283 506 126 344 176 164 241 662 218 493 123 276 196 734 241" style="marker:url(#m5_4)"/>
<path d="M804 334 59 341 171 332 843 385 263 285 188 292 179 276 328 107 773 335 681 273 811 348 337 157 83 302 502 131 131 318 458 139 767 312 622 189 164 352 72 300 396 111 447 165 793 309 232 344" style="marker:url(#m8_2)"/>
<path d="M596 196 811 316 352 240 594 246 745 293 808 301 322 227 265 253 350 190 337 140 692 249 743 257 188 267 278 225 670 225 238 318 850 313 131 337 74 344 135 372 771 314 317 205" style="marker:url(#m8_5)"/>
<path d="M94 292 260 220" style="marker:url(#m3_4)"/>
<path d="M445 124 238 240 789 305 344 237 155 284 276 223 718 251 212 242 339 198 758 304 846 344 342 183 313 169 396 113 168 260 254 223 247 237 197 247 65 308" style="marker:url(#m7_2)"/>
<path d="M451 178 451 178" style="marker:url(#m4_9)"/>
<path d="M473 172 817 330 534 153 622 171 543 167 589 188 449 127 482 131 517 83 580 202 221 242 61 349 416 157 710 263" style="marker:url(#m7_3)"/>
<path d="M778 297 681 225 565 152 762 273 331 139 672 234 528 133 710 216" style="marker:url(#m6_3)"/>
<path d="M832 288 743 268 98 293 734 283 122 303" style="marker:url(#m6_5)"/>
<path d="M841 309 477 190 403 182 256 238 438 158 664 224 635 222 745 277 212 301 578 170 423 142 260 225 179 269 188 239 322 189 438 132 515 152 401 157 164 281 223 266 309 273 622 194 434 166 89 319 458 127 289 222 271 225 359 123" style="marker:url(#m2_5)"/>
<path d="M120 306 672 211 793 275 144 309 232 215 366 205 212 227 515 155 729 293 401 180 725 250 232 223 734 197 480 174 285 214 291 214 390 113 346 175 173 291 477 193 116 262 729 276 322 246 758 293 839 270 672 258 493 194 232 263 232 253 797 274 449 144 565 148 710 277 793 309 793 277 335 188 633 156 140 274 65 296 59 296 480 165 690 280 122 280 747 239 491 154 107 298 624 183 686 244 734 260 72 261 201 273 727 231 197 270 199 238 701 204 455 165 648 206 199 292 436 168 92 267 285 229 206 277 580 172 368 186 350 200 530 177 276 188 732 226 569 167 54 290 515 176 683 215 502 147 745 273 850 269 699 217 184 257 100 286 78 280 806 271 819 290 795 324 515 111 539 148 815 305 228 252 98 278 138 296 68 279 96 282 826 273 140 273 607 143 133 261 703 219 87 295 438 145" style="marker:url(#m1_3)"/>
<path d="M782 238 679 224 70 306 537 105 267 231 521 170 843 308 705 220 287 239 692 265 313 257" style="marker:url(#m8_6)"/>
<path d="M144 277 835 309" style="marker:url(#m3_2)"/>
<path d="M828 277 839 258 175 290 326 157 195 281 453 128 512 154 515 134 81 290 537 176 144 244 420 162 545 125 778 290 605 138 116 297 504 116 800 268 773 252 756 266 600 158 556 159 659 158 475 156 208 270 548 167 848 281 841 287 57 260 675 278 74 270 512 155 642 235 585 140 624 179 637 208 482 153 293 201 344 183 655 211 171 258 171 314 339 199 624 211 144 278 716 267 427 115 780 245 832 254 401 169 85 283 508 184 258 218 171 301 515 191 539 177 223 233 473 191 843 279 545 153 298 214 464 95 602 204 640 185 786 265 778 249 493 171 797 290 786 291 304 219 300 196 70 299 469 153 598 161 528 145 512 206 370 146 675 242 103 266 317 221 657 204 392 155 182 268 517 198" style="marker:url(#m1_5)"/>
<path d="M293 192 574 171 74 275 445 84 337 157 429 196 368 128 52 315 572 151 563 125 182 295 828 348 412 172 745 240 659 205 826 312 596 136 70 354 350 164 672 213 276 223 664 216 302 179 311 196 692 214 313 201 683 230 795 261 217 231 230 225 493 117 482 146 76 334 462 110" style="marker:url(#m4_2)"/>
<path d="M52 263 245 184 271 169 475 134 153 268 175 258 392 163 813 287 506 159 754 222" style="marker:url(#m7_5)"/>
<path d="M515 111 366 179 151 253 569 144 462 125 249 219 138 236 333 219 587 154 471 151 199 260 517 141" style="marker:url(#m4_6)"/>
<path d="M96 253 298 246 565 163 192 268 252 268 89 298 306 263 197 309 843 291 81 320 447 191 155 318 458 188 328 227 541 148 732 272 631 223 326 205 640 206 383 220 826 328 532 195 749 296 271 169 160 342 295 202 92 264 396 201 729 269 716 293 778 293 475 162" style="marker:url(#m0_5)"/>
<path d="M734 253 100 273 756 271 315 214 201 244 72 314 390 99 543 106 267 229 140 302 370 168 537 191 289 174 510 88 519 105" style="marker:url(#m7_1)"/>
<path d="M182 306 832 298 89 276 190 293 613 175 311 175 710 225 502 156 326 149 201 254 166 308 609 188 510 159 815 290 817 253 447 116 50 249 567 132 519 187 182 238 388 128 295 145 800 261 703 248 366 139 567 166 269 250 81 307 63 311 219 210 188 287 587 160 515 118 326 135 837 287 569 159 379 168" style="marker:url(#m4_4)"/>
<path d="M407 184 403 230 721 293 499 146 313 206" style="marker:url(#m0_8)"/>
<path d="M420 207 420 207" style="marker:url(#m2_9)"/>
<path d="M168 332 848 364 600 178 635 218 451 134 298 153 352 191 580 158 488 122 184 347 515 114 804 274 745 327 769 311 247 189 686 268 701 270 784 290 460 143 344 143 177 300 241 260 357 203 469 123 306 142 521 100 784 336 127 318 609 237 434 86 727 266 637 259 331 201 681 262 186 319 587 194 302 215 92 321 629 216 442 139 718 307 418 140 83 313 359 158 59 379 276 231 177 275 580 151 710 251 434 150 677 204 116 310 252 250 515 131 778 291 363 144 243 220 249 185 190 294 232 316 405 171 311 152 703 253 694 255 383 188 328 165 276 231 477 102 304 162 175 329 313 206 710 232 666 263 631 213 287 191 587 166 98 368 778 360 605 184 190 307 70 431 782 314 190 320 677 233 72 307 151 348 238 269 304 149 537 138 692 255 843 331 162 307 640 197 596 131 813 299 212 276 333 178 89 320 61 312 591 175 164 313 692 232 105 347 850 305 418 144 613 216 74 356 171 287 197 312 171 304 144 311 644 260 370 189 848 353 793 349 260 261 199 245 133 335 247 178 278 184 758 306 407 102 230 236 98 320 258 230 837 293 83 328 589 172 247 241 241 208 782 318 324 196 398 153 738 297 716 287 703 247 846 369 657 206 802 297 96 365 784 297 372 181 572 176 54 347 644 202 727 274 769 288 758 265 252 211 841 361 247 172 786 326 835 348 786 327 197 305 491 95 368 207 339 135 179 293 631 230 418 81 254 282 366 125 653 226 769 298 313 236 278 202 835 349 697 236 225 210 615 208 497 171 212 254 171 340 243 294 78 345 92 352 293 206 605 220 267 224 644 224 451 103 668 217 153 343 352 173 738 290 309 191 510 133 567 129 675 242 846 336 177 323 710 265 850 370 249 217 499 154 703 219 725 284 466 161 350 197 289 277 734 323 626 153 394 145 249 218 409 144 808 319 815 346 811 317 824 356 458 166 765 326 274 172 534 149 815 315 519 126 357 202 743 310 828 341 460 128 201 262 670 206 460 123 491 103 85 318 732 277 116 353 374 155 383 135 208 247 558 167 61 340 486 61 184 273 751 306 714 279 484 138 291 269 357 122 723 300 68 387 425 103 184 328 664 227 412 220 826 335 245 142 646 226 808 358 480 170 140 334 675 280 523 114 723 241 232 244 72 338 762 284 182 313 342 163 230 306 786 302 447 161 355 157 83 336 241 202 366 172 510 132" style="marker:url(#m8_0)"/>
<path d="M793 262 344 223 462 159" style="marker:url(#m8_8)"/>
<path d="M749 315 274 266 392 125 811 273 300 195 578 191 379 158 438 164 392 117 103 317 662 232 712 293 749 306 182 310 328 219 116 298 830 317 565 147 523 178 539 187 190 325 469 166 464 172 162 336 379 167 784 292 512 109 267 243 502 215 688 251 405 201 94 313 414 193 725 259 589 209 607 179 477 199 552 114 238 221 670 212 464 149 436 126 372 149 355 171 651 244 760 261 662 257 736 259 611 187 458 198 545 146 89 252 694 224 445 164 697 226 225 259 352 205 688 263 337 198 328 157 780 312 173 306 162 302 114 370 775 359 569 182 111 322 418 144 418 226 567 206 245 232 705 258 197 374 280 247 797 353 274 227 274 272 326 229 94 367 780 318 429 187 146 289 635 220 249 200 287 233 416 167 510 146 418 176 311 238 626 199 839 291 425 192 786 317 635 215 618 229 125 311 563 114 576 224 506 132 168 316 800 342 729 259 302 189 552 164 81 300 475 171 644 230 543 115 98 313 225 276 252 300 76 328 247 240 388 152 96 363 690 283 94 383 534 151 122 313 543 185 613 187 232 274 637 234 475 174 683 288 309 216 74 319 528 127 528 116 74 300 298 170 76 300 657 233 350 149 236 249 611 218 63 323 624 238 620 185 203 317 383 190 666 262 171 330 692 237 670 301 552 191 843 294 445 138 171 280 697 215 850 337 697 263 681 256 624 260 317 220 120 263 556 172 214 270 813 271 52 315 293 238 85 342 466 133 510 146 502 181 98 352 103 309 249 250 76 302 243 229 96 311 201 310 129 312 775 330 789 327 392 147 817 274 89 351 388 183 727 290 344 210" style="marker:url(#m0_0)"/>
<path d="M718 305 602 153 129 338 52 272 179 332 583 172 808 269 712 284" style="marker:url(#m6_1)"/>
<path d="M725 240 201 279 385 194 85 289 664 236 434 146 683 274 232 255 515 127 480 150 778 305 808 293" style="marker:url(#m2_1)"/>
<path d="M732 253 846 304 602 137 72 329 409 169 569 140 337 217 263 245 256 221 359 178 363 164 826 308 252 259 372 91 455 171 385 129 344 113 348 155 52 309 238 204 512 129 583 133 740 263 436 107 662 232 824 323 552 121 686 228 526 176 405 134 747 306 326 187 537 151 534 146 611 175 495 149 403 90 642 195 797 274 771 271 580 136 98 313 186 240 550 139 63 329 409 116 129 360 125 339 778 278 238 244 497 89 442 136 721 250 530 168 179 242 155 270 173 303 228 225 212 290 561 185 637 187 835 307 828 303 462 124 249 224 793 281 740 273 295 174 683 211 392 179 293 209 767 301 203 277 775 281 355 210 576 114 626 202 488 118 784 290 822 353 736 280 291 204 377 116 302 191 558 124 795 282 681 226 405 120 591 160 734 270 414 157 85 292 429 158 420 148 609 214 379 170 107 347 644 184 414 134 738 263 188 285 745 318 683 263 791 273 190 301 122 360 745 270 234 303 723 259 429 195 455 100 342 131 473 123 786 308 743 255 379 118 765 260 243 196 701 260 383 124 434 158 166 301 462 88 705 275 447 99 642 165 416 116 423 142 609 180 374 125 677 207 644 185 447 99 506 126 561 179 629 197 793 320 98 419 653 171 723 221 662 205 377 146 131 336 510 107 626 205 828 284 271 209 646 187 545 145 576 143 252 183 502 87 313 180 289 220 596 149 223 255 657 220 506 134 114 325 545 97 583 161 78 264 342 215 289 241 116 301 563 153 504 182 773 305 637 184 197 234 127 291 508 126 736 265 149 260 846 290 451 122 747 267 475 119 653 192 583 173 324 112 396 92 293 246 282 235 633 168 690 249 826 315 328 111 697 249 631 179 223 204 732 263 254 214 436 132 657 216 109 349 436 106 756 273 613 188 495 133 89 277 543 150 105 294 539 108 835 300 445 152" style="marker:url(#m7_0)"/>
<path d="M342 174 694 298 114 236 572 193" style="marker:url(#m4_7)"/>
<path d="M473 130 473 130" style="marker:url(#m7_7)"/>
<path d="M438 129 556 153 469 210 252 291 786 259 778 260 751 239 751 266 83 245" style="marker:url(#m1_8)"/>
<path d="M359 185 598 227 486 162" style="marker:url(#m8_7)"/>
<path d="M228 235 769 289 725 229 670 269 230 294 74 306 59 364 407 148 326 204 826 279 418 114 348 209 626 167 295 224 335 165 548 123 188 222 677 208 285 246" style="marker:url(#m5_2)"/>
<path d="M488 120 171 349 729 319 125 303 179 311 609 178 640 159 455 198 50 321 83 293 206 298 212 312 363 159 416 133 523 158 135 288 149 309 802 265 745 284 118 279 295 230 517 169 434 148 162 239 361 161 729 265 287 264 357 194 249 258 609 204" style="marker:url(#m0_1)"/>
<path d="M372 185 276 239 556 210 458 169 306 227 692 239 265 208 342 238 210 302 629 210 778 311 201 280 576 148 254 260 675 235 690 261 385 154 280 224 819 313 837 333 427 206 217 244 129 414 714 271 188 365 182 277 135 271 241 271 149 345 282 254 830 325 565 150 464 208 648 172 94 293" style="marker:url(#m2_4)"/>
<path d="M313 206 648 219 841 280 576 187 368 180 563 139 539 142 320 203 241 224 271 176" style="marker:url(#m5_1)"/>
<path d="M576 178 78 284 526 201 541 160 477 178 221 266 427 128 607 187 804 300 826 327 751 325 76 300 85 329 331 175 368 189 146 299" style="marker:url(#m2_1)"/>
<path d="M556 158 65 293 61 350 188 287 70 317 122 278 201 222 96 299 436 170 210 248 754 281 756 286 589 179 780 292 819 328 175 275 587 165 808 271 775 252 561 160 605 125 808 358 151 352 423 128 646 191 328 171 418 146 806 282 322 140 850 295 339 199 804 294 335 178 813 333 182 259 701 188 135 296 648 156 815 280 241 215 477 118 394 165 142 280 585 147 808 276 175 272 791 282 716 235 736 240 633 191 458 109 436 95 780 274 258 213 837 358 243 207 61 323 398 193 556 125 361 149 587 109 675 214 258 224 223 237 311 199 355 118 135 329 813 258 50 288 819 246 736 215 388 132 249 205 333 127 118 285 554 110 366 209 830 302 401 163 736 224 587 137 657 217 287 220 173 291 401 155 683 239 173 307 466 133 197 295 675 228 835 266 609 200 225 237 561 161 747 256 142 263 63 297 427 116 195 273 458 101 381 142 125 307 409 121 699 253 633 161 495 120 835 265 76 343 666 171 664 175 642 201 431 184 324 195 832 275 63 316 738 194 552 91 771 278 142 277 83 263 350 154 683 215 238 230 775 294 815 233 622 229 651 183 394 165 495 170 677 168 664 221 714 237 442 151 423 124 817 264 626 185 648 205 249 223 786 319 324 129 469 127 800 286 760 323 401 141 171 289 210 245 497 157 537 116 142 345 721 286 68 290 745 304 569 154 705 259 425 132 214 279 773 258 466 111 640 229 436 105 721 249 672 182 171 289 672 228 786 279 725 237 92 244 291 250 385 171 114 286 346 151 697 240 146 253 63 300 155 325 734 263 291 257 68 327 72 275 800 305 613 156 331 190 418 135 488 114 342 183 572 155 749 262 721 234 813 275 622 180 179 281 236 205 276 218 263 177 839 309 666 264 118 345 241 241 563 145 804 259 664 179 81 294 76 349 184 292 830 280 453 101 477 116 184 265 372 120 569 134 723 278 596 134 234 244 203 250 153 267 725 240 201 243 550 138 815 274 771 310 153 236 484 173 377 193 705 227 256 194 70 289 740 244 414 168 280 225 412 136 631 208 716 235 499 140 278 203 517 143 258 238 256 202 322 179 712 270 149 299 574 114 287 224 313 193 648 168 78 268 824 263" style="marker:url(#m4_0)"/>
<path d="M563 172 416 170 530 119 342 186 517 100 703 241 760 251" style="marker:url(#m6_2)"/>
<path d="M396 197 832 291 837 305 278 168 271 282 149 286 405 136 243 278 451 171 168 320 173 242 423 176 512 165 703 245 642 237 190 245 600 187 449 149 629 212 100 325 412 195 607 247 466 177 306 232 317 225 508 192 245 291 164 261 795 266 488 134 677 209 675 249 740 328 640 220 114 285 679 268 155 277 657 258 819 295 219 280 392 185 61 289 98 364 438 108 374 181 543 140 594 220 140 316 747 295 822 306 105 346 328 229 372 155 626 179 164 365 646 199 164 248 596 169 309 212 315 218 850 334 488 148 712 286 611 178 646 200 466 89 89 328 254 278 705 248 488 147 486 163 657 223 710 233 107 312 517 143 228 260 615 239 359 184 664 235 120 299 234 282 462 122 96 330 311 181 335 161 350 224 315 203 315 243 105 305 370 142 523 157 219 223 495 161 199 288 762 275 173 343 416 166 78 308 65 327 114 318 447 175 659 250 153 302 363 219 398 103 710 274 111 253 462 182 203 301 392 113 578 207 390 151 87 323 692 298 791 302 598 159 644 159 662 256 103 301 298 213 837 280 633 213 285 337 133 332 431 179 769 321 160 336 725 260 98 288 409 196 778 331 282 233 111 288 502 164 350 198 657 241 344 213 541 234 291 196 125 359 526 119 337 172 771 281 151 273 848 343 633 197 280 193 607 164 249 315 311 213 311 183 331 148 269 227 249 271 302 234 278 248" style="marker:url(#m0_0)"/>
<path d="M396 223 396 223" style="marker:url(#m1_10)"/>
<path d="M455 130 705 290 791 307" style="marker:url(#m3_2)"/>
<path d="M129 337 504 119 622 173 265 176 232 192 718 224 162 290 578 194 572 155 655 222 377 136" style="marker:url(#m6_3)"/>
<path d="M493 110 637 232 352 166 427 77 585 153 504 140 423 186 572 136 694 229 633 197 679 226 381 104 352 168 471 140 688 260 655 219 392 178 789 276 377 119 554 182 269 245 697 222 729 270 160 281" style="marker:url(#m7_2)"/>
<path d="M339 210 780 298 89 304 201 292 182 244 811 270 686 213 629 219 659 207 379 187 609 169 609 202 811 253 545 210 59 295 784 271 813 268 552 182 407 161 493 162 403 198 142 289 146 247 111 270 550 143 822 270 249 203 160 272 475 133 127 263 491 179 659 216 789 271 146 292 769 258 429 137 59 273 405 162 243 316 87 262 394 194 282 211 594 156 458 128 256 223 116 257 282 212 392 168 138 312 388 167 206 300 171 295 692 278 488 177 705 257 561 208 484 197 138 325 462 129 640 218 692 238 771 260 135 278 480 153 133 261 131 305 633 184 442 179 690 234 168 312 482 167 848 298 497 133 401 207 92 260 749 232 392 111 221 277 238 225" style="marker:url(#m1_5)"/>
<path d="M363 134 510 109 488 155 352 160 118 321 775 297 635 164 795 235 453 179 285 230 462 120 203 268 578 131 267 256 306 199 600 171 659 226 548 139 543 91 506 105 504 119 655 186 269 208 372 93 694 287 138 294 190 270 543 125 708 256 370 218 848 307 449 142 620 169 434 114 438 126 811 319 225 202 646 201 70 348 848 306 342 155 615 195 469 100 473 110 657 279 574 148 734 280 85 307 306 202 631 175 160 266 403 184 455 121 381 145 830 290 668 203 800 343 342 191 168 289 804 313 539 102 285 176 105 308 199 231 778 260 495 187 502 113 155 297 317 200 342 174 52 286 523 67 482 94 114 301 401 145 271 202 436 206 721 246 515 130 740 254 701 217 714 251 519 97 541 166 225 249 580 157 824 282 236 238 835 322 223 283 848 339 600 146 203 277 780 344 221 251 385 90 504 147 662 256 153 294 361 199 61 330 54 321 620 181 311 171 848 303 846 316 217 263 602 154 679 253 324 222 302 171 629 173 322 162 668 181 366 182 403 130 745 288 732 246 517 76 488 101 488 152 469 145 708 274 587 146 217 303 782 268 217 285 751 259 265 204 217 263 548 132 569 121 333 193 729 247 688 208 385 148 92 292 418 113 605 128 681 197 225 299 164 304 328 139 76 325 530 108 418 102 381 197 390 114 782 288 681 260 477 114 561 175 672 240 175 336 385 175 817 328 274 150 718 242 782 310 127 327 320 148 653 203 451 188 644 216 506 119 694 223 563 114 534 101 429 133 651 171 129 301 589 181 179 276 418 100 828 285 146 335 234 276 449 108 543 127 596 160 754 272 144 285 504 102 238 261 249 202 293 201 486 147 87 336 683 243 488 142 201 272 484 166 637 193 280 219 192 233 225 294 705 268 797 330 545 134 460 111 480 152 692 266" style="marker:url(#m7_0)"/>
<path d="M751 305 265 224 723 265 265 288 760 297 646 202 346 172 548 127 580 93 78 352 355 209 65 280 508 122" style="marker:url(#m5_3)"/>
<path d="M368 218 624 240" style="marker:url(#m2_10)"/>
<path d="M756 252 756 252" style="marker:url(#m0_9)"/>
<path d="M515 82 631 225 620 147 477 191 651 243 631 176 217 254 543 169 151 335 377 178 515 182 556 170 464 143 138 304 398 191 133 326 276 217 155 284 366 154 320 266 94 343 409 169 705 232 247 259 690 250 732 273 442 164 515 146 309 202 168 355 786 349" style="marker:url(#m8_2)"/>
<path d="M521 140 633 176 350 180 425 121 782 251 206 298 558 165 182 297 188 275 54 321" style="marker:url(#m5_2)"/>
<path d="M282 244 773 267 420 200 596 196 420 196 230 266 545 184 701 229 455 199 252 231 407 206 580 159 822 276 125 282 339 131 241 260 506 160 394 150 449 175 629 211 767 287 256 237 519 167 363 228 587 199 149 283 817 309 552 177 782 260 317 261 688 273 322 153" style="marker:url(#m2_6)"/>
<path d="M83 284 642 225 679 203 162 312 558 145 249 228 100 259 828 289 477 147 133 258 394 117 409 175 455 138 81 296 800 299 657 207 133 284 530 117 589 133 745 325 633 226 92 279 580 171 100 297 786 331 502 82 241 285 173 316 767 226 429 170 355 214 817 244 68 278 144 280 260 268 510 185 287 242 624 193 247 218 252 274 118 287 657 240 81 249 166 311 738 245 195 324 605 225 640 220 223 312 153 271 458 160 795 306 808 289 681 173 694 212 802 293 708 237 160 263 243 237 850 288 243 215" style="marker:url(#m1_1)"/>
<path d="M447 159 778 293 679 228 515 163 482 153 822 295 254 228" style="marker:url(#m7_5)"/>
<path d="M208 238 162 247 749 252 659 236 210 274 806 287 440 167 228 256 528 133 633 189 611 152 458 130 228 282 249 301 497 163 782 267 201 228 142 237 716 285 832 308 602 121 550 136 765 280 552 160 620 168 238 204 451 139 50 263 778 253 832 276 622 177 440 111 747 271 539 50" style="marker:url(#m4_3)"/>
<path d="M219 282 291 186 558 151 548 164 633 205 565 171 806 340 407 170 771 290 556 210 804 345 578 145 149 346 484 181 793 328 127 330 723 283 214 279 377 159 826 310 234 269 611 157 517 89 168 320 320 228 576 178 285 199 425 174 694 251 396 218 127 339 455 130 339 155 315 145 528 139 550 135 416 154 506 177 466 123 285 218 436 173 747 288 729 264 234 241 797 318 686 262 280 178 361 205 438 114 164 257 574 158 692 232 372 231 304 160 238 273 642 204 451 151 293 215 366 143" style="marker:url(#m2_0)"/>
<path d="M718 300 368 214 271 245 249 210 813 334 335 270 396 202 850 312 427 171 348 161 228 310 451 221 543 102 208 278 747 274 701 247 624 207 225 272 188 258 350 204 357 177 449 196 230 302 363 182 405 220 819 316 254 284 313 233 223 229 331 195" style="marker:url(#m2_5)"/>
<path d="M672 246 471 153 331 234 390 131 558 129 394 116 320 236 199 265 278 227 265 180 802 351 791 331 276 252 743 258 631 208 241 253 751 316 197 311 455 130 659 276 385 180 703 254 587 160 576 155 508 157 131 274 537 157 214 283 350 193 662 285 282 239" style="marker:url(#m8_3)"/>
<path d="M361 184 740 235 537 140 243 210 129 311 554 152 723 252 589 152 534 119 451 174" style="marker:url(#m7_4)"/>
<path d="M806 270 806 270" style="marker:url(#m0_8)"/>
<path d="M111 295 271 207 350 132 760 316 668 251 146 298 269 300 701 283 258 249 471 111 184 294 817 321 173 296 716 267 379 200 50 304 589 165 482 129 118 296 843 249 135 335 203 259 508 177 666 208 94 266 716 303 729 291 565 143 144 289" style="marker:url(#m0_2)"/>
<path d="M539 175 539 175" style="marker:url(#m4_7)"/>
<path d="M609 208 609 208" style="marker:url(#m1_9)"/>
<path d="M629 164 701 228 537 115 188 286 605 141 107 430 578 142 166 308 800 349 762 311 59 304 811 369 534 128 786 289 438 120 659 211 287 245 672 170 793 321 256 243 642 208 405 106 499 102 594 159 811 304 445 137 76 303 445 110 313 113 679 222 491 115 298 229 464 59 206 272 52 318 92 314 699 261 407 180 510 115 618 224 782 303 626 187 832 318 81 329 74 307 225 209 57 320 565 150 510 172 637 221 65 345 740 253 817 294 372 146 734 245 545 89 74 362 420 149 642 183 57 336 832 289 87 333 589 154 357 193 740 284 429 95 815 302 609 187 727 258 491 105 651 234 335 157 534 104 504 140 675 234 427 76 98 284 107 323 659 191 775 270 276 203 530 108 734 300 841 315 648 180 775 280 734 256 811 295 179 344 802 264 315 186 712 278 732 262 236 207 681 239 808 271 412 108 471 103 291 199 267 206 414 130 342 142 199 307 475 100 662 159 830 358 747 268 657 218 530 106 107 344 765 365 407 152 740 295 615 154 620 222 109 318 265 262 539 109 85 315 771 300 802 336 263 210 824 328 850 315 830 350 488 138 98 310 149 297 335 134 155 301 477 140 263 210 328 218 146 316 822 289 236 267 72 353 445 117" style="marker:url(#m6_0)"/>
<path d="M594 145 289 183" style="marker:url(#m3_1)"/>
<path d="M311 244 569 174 580 192 357 195 328 258" style="marker:url(#m2_9)"/>
<path d="M620 195 61 311 313 211 749 260 107 294 495 179 74 326 438 130 201 238 690 244 548 126 103 286 466 122 666 225 569 174 256 202 350 177 228 250 806 250 298 198 567 151 274 226 512 161 567 160 131 286 256 219 195 283 637 180 306 217 578 156 778 312 835 307 175 290 602 163 789 261 166 261 473 139 350 161 484 122 677 244 293 224 681 280 729 281 504 103 692 209 826 288 705 242 611 134 177 244 734 268 811 303 670 225 499 160 221 184 293 175 265 227 732 218 269 206 591 129 574 130 473 142" style="marker:url(#m5_0)"/>
<path d="M613 209 635 182 302 231 149 305 346 167 269 202 271 245 146 273 135 270 265 232 543 165 265 278 57 301 642 204 462 132 287 220 657 221 548 169 403 211" style="marker:url(#m5_4)"/>
<path d="M442 155 276 211 754 272 423 121 221 262 659 193 473 149 274 209 344 152 447 173 648 176 828 344 775 330 775 349 548 146 324 217 223 283 122 306 186 308 138 302 710 236 350 174 208 245 241 191 315 215 52 296 366 160 624 216 105 356 78 333 482 156 841 356 813 350" style="marker:url(#m8_1)"/>
<path d="M317 268 756 278 771 302 407 159 87 289 637 212 85 299 120 322 291 200 835 329 819 283 228 251 526 167 653 222 609 197 585 201 120 343 539 164 778 297 363 161 537 164 125 305 690 239 714 271" style="marker:url(#m0_3)"/>
<path d="M335 190 348 132 692 282 745 270 613 177 285 240 420 198 694 345 504 142 756 305 508 170 192 289 455 159 716 279 138 279 434 189 162 332 808 329 57 290" style="marker:url(#m2_3)"/>
<path d="M118 311 247 222 70 274 298 271 824 277 344 192 164 280 142 298 591 177 613 170 749 253 762 278 578 148 219 241 416 158 131 302 699 266 59 279 574 138 819 286 690 245 473 201 802 281 502 143 160 282 830 287 607 153 701 242 192 301 182 266 89 281 453 146 839 312 782 292 140 325 756 250 723 263 563 85 773 271 109 279 116 253 530 179 302 169 736 238 315 196 751 312 791 257 164 271 705 264 653 199 420 168 477 135 631 197 438 151 745 280 153 269 585 149 773 251 738 274 78 301 583 180 613 152 710 284 122 269 815 305 786 322 567 176 120 269 352 196 526 168 677 197 313 270 642 230 171 266 225 249 677 217 791 258 824 281 440 188 808 312 738 246 804 327 528 144 342 184 574 150 372 164 517 159 484 149 442 156 596 156 666 190 826 292 822 286 339 209 201 243 425 166 252 266 622 158 160 291 837 263 572 205 219 266 828 275 116 286 637 246 138 256 754 286" style="marker:url(#m1_2)"/>
<path d="M653 211 839 292 234 289" style="marker:url(#m7_6)"/>
<path d="M561 87 278 289 613 185 563 76 447 135 732 250 493 159 754 262 396 176 780 251 607 176 87 302 543 148 76 247 201 232 662 237 179 262 738 294 775 254 94 282 716 259 280 226 61 314 677 212" style="marker:url(#m4_1)"/>
<path d="M383 113 269 195 626 240" style="marker:url(#m6_1)"/>
<path d="M666 230 675 254 133 376 241 269 74 293 591 159 359 155 495 138 232 270 344 214 355 221 725 304 81 367 692 249 839 384 677 258 620 220 197 289 655 220 725 244 466 144 61 295 666 239 795 307 68 309 140 310 352 170 390 165 118 302 59 290 241 317 589 179 306 241 309 206 344 203 225 273 679 228 675 258 677 231 436 216" style="marker:url(#m0_4)"/>
<path d="M57 270 368 199 740 244 282 200 773 311 182 237 98 271 679 239 482 153 567 204 107 293 453 192 217 225 285 256 451 155 184 303 495 166 721 246 234 229 488 142 74 258 83 267 491 146 182 225 530 196 497 108 306 170 201 296 315 159 550 157 65 338 574 168 618 241 543 164 512 142 85 290 802 272 52 297 633 221 105 299 539 241 657 247 333 198 539 133 510 147 85 291 455 163 114 313 92 262 280 170 429 131 631 205 822 274 811 255 668 222 561 217 295 228 254 234 471 205 133 291 361 134 210 300 214 272 217 267 464 102 664 226 749 247 94 277 480 186 427 158 811 293 708 225 249 233 120 311 50 277 837 276 697 258 828 273 651 194 403 170 758 254 138 259 837 275 495 160 769 251 495 155 738 304 523 99 848 254 68 291" style="marker:url(#m1_4)"/>
<path d="M306 226 72 342 561 148 477 122 471 122 480 132 208 281 469 131 653 163 850 315 195 304 624 172 188 270 653 213 328 194 149 300 243 274 315 190 298 233 70 329 295 199 263 202 383 170" style="marker:url(#m7_3)"/>
<path d="M175 240 366 194 569 152 230 276 602 147 640 155 289 211 760 275 100 277 217 233 477 200 756 298 830 243 611 172 217 336 747 277 385 174 565 187 497 195 569 179 504 174 186 250 561 106 556 168 534 184 839 247 100 239 765 305 591 195 519 141 767 272 287 241 523 134 254 224 738 251 607 188 532 177 162 287 455 145 370 181 848 274 843 281 221 192 107 254 745 240 289 197 605 236 423 149 822 302 146 267" style="marker:url(#m1_6)"/>
<path d="M254 240 725 257 558 167 576 152" style="marker:url(#m3_3)"/>
<path d="M626 191 381 124" style="marker:url(#m3_4)"/>
<path d="M848 287 455 183 291 236 434 176" style="marker:url(#m2_8)"/>
<path d="M355 187 716 271 646 258 72 393 515 169 699 233" style="marker:url(#m8_7)"/>
<path d="M138 269 320 165 59 280 63 258 460 171 585 148 771 246 449 107 168 224 153 311 659 217 686 223 508 161 541 95 480 113 407 119 65 325 760 289 561 138 317 196 835 304 431 123" style="marker:url(#m4_4)"/>
<path d="M61 275 789 264 537 147 543 150 460 211 826 312 712 250 828 317 662 206 151 300 523 153 192 251 107 290 493 86 565 172 784 252 475 125 532 200 813 289 659 234 98 274 622 216 646 178 379 158 182 299 835 263 342 215 269 227 396 96 607 170 199 238 212 215 107 315 451 137 705 268 848 297 54 295 694 233 274 255 767 296 725 264 615 197 664 263 420 201 96 297 129 269 65 275 171 254 633 192 129 291 589 165 379 183 725 251 574 175 100 305 114 292 587 146 322 175 87 280 769 323 116 318 405 167 747 241 87 292 703 255 745 280 160 305 664 264 114 267 620 164 791 267 589 162 493 153 775 287 745 280 502 184 230 261 769 259 471 145 589 157 138 341 841 301 324 184 304 205 263 235 828 279 260 197 795 310 114 317 392 215 409 138 166 317" style="marker:url(#m1_3)"/>
<path d="M197 288 819 284 567 160 366 163 54 274 493 152 65 250 797 263 57 304 221 217 662 201" style="marker:url(#m4_6)"/>
<path d="M377 228 333 226 473 160 317 193 243 308 587 187 517 200 811 292" style="marker:url(#m2_7)"/>
<path d="M265 222 372 172 646 212 295 176 510 198 782 257 442 107 756 276 491 175 493 170 188 254 155 255 554 95" style="marker:url(#m4_5)"/>
<path d="M727 293 462 173 291 252 683 228 662 249 188 198 804 288 173 309 749 263 574 159 252 230 247 288 155 318 245 192 686 228 238 259 679 292 594 151" style="marker:url(#m7_1)"/>
<path d="M179 226 179 226" style="marker:url(#m5_9)"/>
<path d="M116 259 447 165 282 278 504 150 795 270 482 212" style="marker:url(#m0_7)"/>
<path d="M85 307 287 180 486 117 304 134 464 159 710 227 278 234 125 267 482 123 532 154 59 338 177 261 607 113 615 161 795 257 591 178 228 220 403 159 260 179 653 210 142 269 705 246 596 129 765 323 506 145 622 205 587 175 100 292" style="marker:url(#m4_2)"/>
<path d="M545 136 537 192 228 213 543 126" style="marker:url(#m6_5)"/>
<path d="M138 267 195 251 249 236" style="marker:url(#m3_5)"/>
<path d="M640 185 843 326 407 219 269 224 815 299 263 191 63 260 445 171 420 120 512 120 225 271 164 292 837 260 339 146 517 173 824 331 835 279 50 307 791 293 381 193 149 285 552 167 451 136 135 289 692 245 620 150 710 243 298 182 105 259 523 130 57 306 377 141 173 290 368 161 447 144 756 255 429 187 447 99 425 153 532 162 405 144 778 238 681 216 214 265 173 317 598 175 484 165 716 218 830 325 765 236 677 212 662 230 197 209 350 180 219 254 423 160 633 192 554 178 677 207 828 305 331 161 615 176 309 213 789 265 822 283 543 121 164 235 743 237 282 245 609 182 168 293 832 287 743 277 302 208 558 176 403 129 727 266 637 189 203 221 142 295 311 168 690 176 357 227 258 211 738 269 425 168 642 175 111 282 615 183 729 209 598 171 291 212 199 280 447 105 729 298 578 143 192 296 477 155 791 280 368 167 817 329 572 87 256 200 460 139 140 345 74 315 81 292 127 298 541 135 223 269 572 146 76 320 727 268 846 309 795 316 59 300 317 200 377 179 644 187 718 243 607 156 377 176 138 280 114 275 190 286 420 164 144 262 243 219 278 207 324 174 133 300 824 260 653 175 497 145 359 209 324 199 585 156 830 295 385 146 784 249 129 277 146 248 396 150 620 142 368 140 324 211 653 219 164 291 89 251 802 264 817 301 517 117 789 280 537 165 138 279 129 279 219 277 208 249 225 268 133 307 510 169 578 123 407 121 558 88 219 271 699 287 326 189 129 288 287 179 173 302 320 202 168 265 383 200 295 222 368 187 813 276 111 281 705 244 574 137 50 339 811 276 94 285 368 143 815 279 144 275 841 299 469 115 374 173 68 278 114 326 291 212 214 243 409 96 519 135 843 286 309 274 662 230 797 264 85 313 554 160 197 256 74 270 710 232 466 171 688 241 346 110 396 143 644 216 569 155 822 276 405 179 186 298 782 279 328 187 817 254 817 304 313 184 745 291 817 322 304 160 826 262 727 264 460 112 727 226 736 256 203 286 175 332 298 207 149 243 263 223 129 254 729 231 688 206 50 285 716 250 484 146 791 304 670 215 379 144 131 341 767 268 162 275 565 163 260 213 530 86 306 198 762 314 778 326 142 272 545 108 142 297 357 252 449 185 398 103 122 283 828 326 114 300 434 112 274 222 394 210 699 238 635 188 276 214 778 258 129 260 96 293 830 270 368 173 383 135 114 301 690 197 190 251 736 227 311 138 61 334 285 245 225 257 830 293 271 217 767 250 155 293 471 134 280 190 289 273 65 279 795 249 453 156 162 245 795 263 837 301" style="marker:url(#m1_0)"/>
<path d="M526 151 269 228 298 206 565 109 725 216 530 140 214 248 372 201 219 264" style="marker:url(#m5_6)"/>
<path d="M206 234 775 297 236 272 374 156 355 143 740 293 100 302 254 245 635 175 554 136 670 249 791 341 219 262 633 194" style="marker:url(#m3_0)"/>
<path d="M212 270 664 248 206 251 114 273 580 149 361 176 683 255 486 125 409 192 214 229 342 150 462 168 414 117 795 356 326 248 480 187 629 202" style="marker:url(#m8_5)"/>
<path d="M449 127 201 240 377 115 694 251 374 154 291 252 734 262 585 167 260 244 653 196 460 168 567 142 379 140 567 133 445 125 754 295 219 224 609 181 258 275 223 278 718 237 285 211 418 107 274 199" style="marker:url(#m5_5)"/>
<path d="M539 157 477 190 528 130 322 134 675 235 477 156 532 162 618 190 471 117 210 231" style="marker:url(#m1_8)"/>
<path d="M841 291 453 137 52 334 699 252 784 255" style="marker:url(#m6_4)"/>
<path d="M440 229 611 178 567 195 342 179 475 223 50 281 298 275 817 301 681 248 420 193 57 284 85 291 795 275 370 188 802 289 780 275 683 274 175 295 317 187 409 191 585 196 648 267 260 202 195 228 295 200 342 188 556 134 800 239 631 224 267 284 306 213 815 333 385 177" style="marker:url(#m0_5)"/>
<path d="M238 243 740 293 157 292 182 295 219 254 445 166 208 213 598 167 188 270 813 321 214 329 129 311 589 196 175 338 701 245 276 138 385 179 320 189 291 230 835 426 311 203 681 210 328 182 144 310 710 277 425 148 843 358 188 243 350 202 526 118 683 236 260 226 458 129 765 357 548 155 784 311 615 189 309 134 199 286 254 215 620 183 438 174 451 135 523 115 129 379 423 92 416 120 545 136 346 168 317 182 773 341 59 329 87 324 786 312 320 184 548 125 773 316 271 233 769 274 662 255 515 131 624 233 315 188 129 337 280 202 274 191 298 207 600 132 247 266 285 209 173 310 243 234 388 172 210 273 133 313 324 220 495 121 607 195 342 137 339 151 335 171 773 297 160 360 668 210 160 297 640 169 736 273 567 130 822 319 729 283 475 90 350 222 738 238 760 316 405 167 83 326 379 171 190 287 580 188 179 306 738 253 484 94 144 331 103 362 598 153 372 208 282 181 133 322 166 317 666 260 686 241 245 222 418 100 541 145 488 66 539 119 59 319 675 230 734 267 758 291 322 198 177 280 545 124 543 152 469 127 806 326 822 330 157 309 552 133 484 112 339 122 339 210 355 125 390 173 85 337 743 249 464 164 694 282 122 309 692 295 751 290 659 217 377 177 342 185 223 238 103 351 199 283 109 361 688 266 723 258 572 190 190 266 254 233 543 147 591 173 85 316 523 174 629 210 394 142 138 280 655 225 756 272 694 234 282 201 526 112 322 220 394 136 65 319 412 125 622 183 228 286 326 179 138 316 302 188 412 127 806 346 438 90 236 271 331 185 835 323 355 230 756 310 322 216 727 300 401 142 245 215 723 248 648 253 188 294 786 289 530 127 366 144 98 344 694 226 659 272 256 235 260 187 326 235 70 374 657 200 346 178 427 178 390 179 317 164 190 279 848 340 315 194 146 356 313 221 162 259 626 176 168 319 545 185 440 167 515 72 335 209 144 343 760 292 438 175 701 233 348 208 182 317 725 293 466 126 234 318 256 215 322 175 199 258 651 229 241 251 208 289 681 231 727 261 556 147 572 206 223 232 442 94 175 271 350 171 335 117 607 198 160 365 50 341 804 293 743 306 326 190 100 349 686 269 403 140 819 371 403 124 190 350 528 134 409 182 232 240 585 175 76 322 306 159 760 287 464 133 828 340 620 156 686 246 401 127 320 206 602 147 111 333 394 154 348 155 556 163 784 356 282 219 605 244 243 264" style="marker:url(#m8_0)"/>
<path d="M379 170 201 251 179 249 762 308 438 149" style="marker:url(#m5_7)"/>
<path d="M372 225 683 259 822 323 458 144 802 307 129 284 508 120 729 300 502 128 659 247 135 290 89 346 300 212" style="marker:url(#m8_6)"/>
<path d="M188 255 188 255" style="marker:url(#m3_7)"/>
<path d="M241 240 144 255 197 311 68 387 74 304 455 208 401 214 754 259 416 170 662 227 773 341 502 168 775 287 300 229 78 304 587 228 558 182 221 288 714 230 298 230 683 213" style="marker:url(#m0_6)"/>
<path d="M366 214 813 295 699 263 464 180 504 176 532 146 355 164 403 141 659 248 118 321 732 306 646 207 324 190 241 279 497 121 175 283 561 201 396 221 333 170 276 226" style="marker:url(#m2_2)"/>
<path d="M425 167 521 111 78 337 784 337 705 281 276 231 703 207 287 254 668 252 618 173 396 168 98 330 182 298 515 131 388 145 600 181 699 227 383 117 688 237 278 256 515 143 57 356 131 388 521 134 293 211 425 97" style="marker:url(#m8_4)"/>
<path d="M508 168 508 168" style="marker:url(#m5_8)"/>
<path d="M506 187 466 145 125 267 429 164 615 223 184 272 370 189 164 250 447 150 618 204 508 162 567 160 534 191 87 277 618 180 793 268 81 251 497 183 703 239 190 236 160 262 107 248 486 141 377 178 848 246 407 168" style="marker:url(#m1_7)"/>
<path d="M313 213 94 271" style="marker:url(#m2_8)"/>
<path d="M576 178 712 248 120 335 819 283 221 265 607 152 688 258 758 285 328 203 477 135 342 194 94 289 655 240 515 141 725 271 688 238 210 211 732 221 412 163 120 265 686 228 523 151 214 234 705 215 811 287 390 177 370 152 800 277 727 255 471 125 699 284 729 238 679 190 449 128 839 302 59 287 434 154 171 268 352 181 594 82 322 218 52 341 705 277 256 191 499 123 164 269 291 252 804 234 269 191 146 273 578 152 690 242 379 133 756 285 407 117 537 131 815 253 743 232 92 289 144 265 651 188 629 202 686 262 434 110 208 261 640 148 140 307 267 278 68 286" style="marker:url(#m1_2)"/>
<path d="M802 272 725 258 298 206 751 272 705 284 534 138 659 204 155 297 651 201 473 109 607 225" style="marker:url(#m6_2)"/>
<path d="M631 223 274 256 537 163 429 164 488 209" style="marker:url(#m0_8)"/>
<path d="M256 216 600 158 447 146 600 182 171 275 243 179 217 272 271 239 793 311 149 286 372 154 556 160 824 283 565 93 302 202 802 320 111 314 377 161 416 159" style="marker:url(#m7_3)"/>
<path d="M74 322 482 142 841 391 455 172 302 234 63 321 613 185 543 164 291 215 265 240 754 272 420 172 534 185 162 286 188 258 381 226 153 261 734 211 289 166 409 147 245 226 416 130 653 230 118 293 127 292 473 105 425 172" style="marker:url(#m8_5)"/>
<path d="M271 193 602 130 826 315 164 317 197 256 258 242 578 70 280 235 497 124 848 312 813 291 423 100 539 132 686 181 769 276 721 209 749 306 615 182 813 429 826 266 440 155 598 209 596 164 309 131 843 310 135 301 335 198 664 191 247 221 499 159 830 309 567 128 304 150 506 157 738 266 846 267 828 339 767 255 225 296 477 167 455 101 605 147 677 216 122 283 624 161 569 149 438 139 710 231 142 307 677 239 442 83 291 172 114 295 105 292 607 166 688 260 605 152 672 215 618 170 127 260 797 253 725 293 734 245 125 305 70 290 556 164 280 186 519 106 688 171 780 316 208 241 293 212 598 182 293 168 734 240 52 288 615 183 775 256 703 266 672 223 449 133 817 278 743 242 723 271 114 316 249 188 591 175 473 115 140 313 830 318 179 257 473 105 517 110 811 352 317 170 451 171 210 300 135 324 738 245 409 104 828 305 133 288 517 127 388 103 254 219 541 119 125 295 140 314 672 243 100 301 740 288 442 119 672 257 377 145 607 168 591 142 589 191 646 199 144 266 455 141 512 142 315 204 736 227 458 118 471 194 789 268 245 260 795 298 609 145 184 257 629 208 745 289 164 260 747 249 714 227 714 255 824 252 712 218 322 180 440 136 587 187 256 222 850 278 534 146 425 122 403 174 515 112 765 233 212 263 613 166 267 226 692 231 475 100 464 162 705 258 786 284 414 105 657 225 843 301 160 242 804 241 285 191 743 249 350 151 572 118 96 325 118 290 381 156 350 150 819 328 256 230 462 93 813 324 620 210 429 131 171 278 773 273 455 165 162 271 401 137 260 192 166 252 100 280 252 218 249 179 214 264 629 207 133 332 843 309 677 229 192 299 355 147 543 87 133 270 600 159 618 150 749 242 710 244 679 196 843 321 677 211 208 204 228 181 241 169 420 134 534 122 738 229 116 255 352 150 530 139 637 199 602 168 142 293 841 272 539 141 751 245 188 275 65 264 210 265 539 126 550 151 732 228 127 270 466 166 291 188 100 302 725 287" style="marker:url(#m4_0)"/>
<path d="M740 260 302 183 142 316 357 166 344 156 263 259 184 231 280 180 337 159 125 262 521 158 276 289 493 179 61 282 407 155 416 142 265 253 679 204 554 182 502 141 109 274 703 254 263 245" style="marker:url(#m5_4)"/>
<path d="M826 305 502 95 333 157 328 215 626 197 142 355 188 275 708 261" style="marker:url(#m6_1)"/>
<path d="M92 261 554 142 118 285 225 228 412 122 320 144 521 137 819 293 359 200 848 278 624 172 138 269 578 183 228 238 596 200 751 268 580 200 780 237 96 269 87 301 182 277 87 283 664 252 107 274 537 149 306 260 556 197 155 271 607 237 212 229 381 182 155 272 565 190 357 212 633 200 234 225 800 262 291 221 138 271 405 136 65 294 94 283 569 139 81 297 558 163 449 152 637 230 455 165" style="marker:url(#m1_6)"/>
<path d="M120 271 515 141 613 183 455 164 405 136 738 311 423 176 157 290 850 292 177 293 140 294 89 309 309 210 203 281 482 129 59 302 177 278 54 295 151 328 727 252 690 248 506 115 576 188 379 130 837 299 232 268 350 213 580 169 107 383 293 179 212 293 214 245 598 223" style="marker:url(#m0_2)"/>
<path d="M721 263 438 175 293 215 712 227" style="marker:url(#m6_5)"/>
<path d="M690 225 221 276 780 260 212 216 348 217 657 180 431 126 381 206 436 102 377 120 212 232 282 168 832 276 683 294 280 197 379 124 230 216 138 293 826 280" style="marker:url(#m5_3)"/>
<path d="M646 234 348 193 828 328 368 174 197 289 206 252 488 142 837 360 265 200 576 157 263 250 381 146 155 296 166 268 228 261 784 310 89 338 817 348 392 123 197 301 596 132 129 373 576 171 620 217 466 86 201 288 677 220 179 331 302 167 765 330 697 239 337 166 306 156 832 330 260 253 648 221 429 158 190 278 315 136 554 160 405 100 366 54 114 332 615 168 835 379 199 230 396 140 510 123 609 159 103 365 488 86 460 151 651 213 745 282 537 198 236 268 377 124 743 285 815 318 315 241 464 95 445 146 409 140 528 126 839 306 236 178 392 113 92 375 87 372 50 356 315 152 184 270 602 187 563 139 405 100 657 269 144 316 565 171 447 105 392 204 289 227 701 294 455 157 265 229 716 290 326 173 462 182 723 271 837 367 302 255 469 164 287 170 72 325 65 344 519 204 824 362 385 106 519 142 138 282 756 286 648 215 230 278 214 307 245 279 144 320 267 244 260 194 263 197 254 253 721 299 611 206 317 206 249 224 234 220 843 322 260 220 440 142 600 180 640 197 690 263 59 302 662 222 602 167 313 204 493 76 311 173 609 220 526 170 383 58 247 204 618 173 87 355 561 201 405 158 727 240 804 325 98 360 164 323 300 184 357 140 221 248 837 337 385 143 701 265 221 302 346 180 339 193 841 377 217 259 784 313 350 175 377 195 699 281 637 212 480 134 153 352 515 137 780 313 260 248 622 178 423 177 57 346 835 340 721 273 824 340 114 339 635 220 526 133 186 282 732 255 175 304 392 178 127 332 368 183 438 111 298 140 813 313 177 258 558 122 786 290 517 155 289 226 646 234 271 253 96 360 675 255 802 316 278 177 775 321 346 157 390 146 68 357 396 151 782 300 738 276 98 347 841 291 751 313 173 277 488 115 519 124 278 244 789 318 50 348 269 183 267 267 800 354 313 213 480 120 550 158 526 150 618 171 624 183 583 128 791 299 804 309 245 239 144 370 773 304 278 198 120 372 541 160 219 222 723 256 366 122 708 270 157 297 751 270 769 290 208 292 771 331 670 238 118 377 388 177 635 202 530 164 523 176 175 278 679 274 289 162 488 141 348 186 576 166 477 194 537 155 328 167 291 153 116 336 679 282 747 294 686 267 519 159 675 219 723 301 712 269 346 168 125 337 234 267 666 227 657 217 515 120 462 139 54 328 342 159 806 367 486 144 394 175" style="marker:url(#m8_0)"/>
<path d="M59 316 677 246 293 206 607 151 146 247 618 175 572 201 256 247 664 250 743 250 396 172 192 247 144 271 672 226 561 125 723 255 745 292 784 264 355 142 835 291 694 218 131 281 295 199 484 123 278 222 442 153 780 285 758 248 214 259 635 175 515 148" style="marker:url(#m4_4)"/>
<path d="M392 215 613 145 317 185 677 244 797 309 591 113 304 159 263 181 120 366 427 126 254 206 519 201 526 159 186 307 611 155 361 207 298 184 368 137 370 175 532 156 199 230 657 221 574 155 195 278 164 316 506 96 407 162 359 175 815 314 565 140 92 336 390 120" style="marker:url(#m8_2)"/>
<path d="M530 146 199 290 245 250 339 241 447 182 732 268 409 158 732 288 317 203 679 251 591 202 315 212 626 180 339 133 767 278 256 303 370 187 423 170 221 298 765 291 637 237 594 213 708 229 545 179 745 276 241 292 683 199 344 226" style="marker:url(#m2_5)"/>
<path d="M54 369 326 224 63 312 282 200 339 205 322 184 802 315 775 306 315 188 260 290 335 233 361 191 326 240 620 181 526 128 477 113 839 292 745 283" style="marker:url(#m2_2)"/>
<path d="M773 267 260 263 374 142 206 277 131 281 545 161 506 121 583 167 352 107 605 195 153 356 602 146 427 132 708 225 374 183 50 293 837 334 295 172 359 139 683 173 556 84 806 313 366 158 157 289 223 215 699 260 848 384 111 280 293 203 822 289 486 141 219 283 705 294 403 117 348 136 469 49 499 136 114 279 206 257 718 261 217 255 179 257 727 262 775 278 495 112 151 327 668 184 420 163 819 266 182 253 677 231 265 228 725 315 357 135 615 179 585 168 427 91 635 177 164 276 543 154 762 260 409 114 502 104 574 126 245 229 526 123 585 129 751 248 705 284 282 179 243 232 528 97 228 203 304 169 278 189 469 165 451 119 274 224 92 297 326 198 830 295 350 139 629 204 416 177 436 152 734 263 477 103 269 200 662 205 754 309 267 235 767 368 789 331 135 336 631 177 146 319 157 260 725 279 688 271 784 313 600 175 624 171 655 210 445 135 828 275 442 132 63 320 725 236 271 213 554 136 346 107 344 229 164 316 607 117 495 180 416 157 613 155 388 187 762 313 317 214 769 297 188 233 712 251 651 196 85 305 679 222 214 212 832 341 697 229 188 244 125 370 611 176 743 255 54 289 721 294 320 206 302 123 782 269 100 287 291 187 688 276 68 314 469 136 668 201 173 277 111 379 420 171 361 118 775 263 337 189 850 297 681 240 460 141 392 164 377 118 528 88 701 278 256 244 721 219 94 353 425 156 747 297 74 291 423 143 98 307 326 215 574 128 567 144 186 248 580 127 142 304 87 338 197 276 723 294 300 156 447 112 363 176 76 324 129 301 412 130 366 173 142 329 475 167 574 170 607 119 289 180 363 160 488 100 359 171 754 298 583 171 333 144 357 146 633 222 486 110 646 198 602 251 274 261 324 249 701 251 146 332 504 97 508 139" style="marker:url(#m7_0)"/>
<path d="M528 134 254 221 331 202 791 324 116 266 436 133 309 216 729 254 655 204 686 254 344 199 469 131 359 152 523 96 732 283 589 206 363 126 414 125 61 317 436 110 423 149 243 278 247 210 265 262 63 289 721 272 771 238 377 165 526 121 436 147 727 250 727 266 762 252 637 231 274 204 423 125 466 121 361 199 648 261 357 175 333 172 111 276 258 268 107 292 512 97 445 113 666 239 808 298 212 297 495 193 304 189 304 172 228 291 677 235 532 117 740 240 475 91 276 201 291 163 346 176 442 165 276 264" style="marker:url(#m5_0)"/>
<path d="M140 268 140 299 252 195 234 244 352 155 192 243 241 208 548 201 502 102 545 155 89 275 751 337 179 294 285 238 734 227 195 256 740 268 633 224 138 241 129 307 366 123 679 251 683 221 558 164 637 215 78 287 414 163 620 188 640 179 377 200 164 264 412 163 420 196 743 283 409 158 280 232 712 294 304 188 377 204 832 281 832 274 214 256 68 286 107 300 596 157 591 159 111 265 188 280 629 186 569 178 841 311 87 295 458 178 157 274 819 306 140 271 512 127 541 155 760 277 574 149 815 252 600 179 54 270 333 162 690 234 447 173 740 256 778 272 96 314 815 242 760 245 569 173 85 284 648 230 412 162 89 309 756 286 811 270 409 153 797 269 690 227 482 177 52 235 61 266 635 214 52 292 197 278 576 168 177 267 749 256 133 263 81 266 563 145 515 173 164 284 534 119 414 190 699 290" style="marker:url(#m1_3)"/>
<path d="M721 298 771 271 458 85 418 131 850 329 289 184 828 276 260 202 686 249 85 315 826 329 769 308 835 296 258 222 383 168 637 240 151 296" style="marker:url(#m7_1)"/>
<path d="M541 167 598 229 256 233 118 315 683 262 306 236 331 211" style="marker:url(#m8_6)"/>
<path d="M651 261 521 206 756 277 515 183 313 209 611 193 120 245 694 284 793 250 797 258 541 158" style="marker:url(#m0_7)"/>
<path d="M59 327 59 327" style="marker:url(#m3_3)"/>
<path d="M605 165 561 178 664 244 565 132 138 268 392 155 690 246 320 205 495 120 754 240 447 176 526 135 423 159" style="marker:url(#m3_0)"/>
<path d="M129 352 743 263 480 190 436 174 98 341 267 225 221 208 100 319 826 306 447 232 405 163 835 330 416 140 346 212 473 105 293 236 811 298 664 261 412 154 782 316 839 296 629 218 453 151 703 246 243 261 482 160 543 137 762 281 721 267 594 165 486 127 280 214 92 313" style="marker:url(#m8_3)"/>
<path d="M539 216 519 186" style="marker:url(#m2_10)"/>
<path d="M254 288 537 97 563 202 381 116 199 276 346 112 414 176 637 158 149 299 653 211 179 260 293 200 401 147 403 120 232 228" style="marker:url(#m5_2)"/>
<path d="M635 193 177 251 263 196 495 102 188 246 672 251 83 291 633 195 306 219 778 275 315 244 414 175" style="marker:url(#m5_5)"/>
<path d="M574 149 486 88 666 215 710 195 475 132 572 221 72 281 392 164 149 349 517 142 797 289 306 201 434 122 808 329 346 185 591 129 440 128 219 272 716 237 727 264 662 229 486 117 626 165 76 325" style="marker:url(#m7_2)"/>
<path d="M423 124 276 206 379 173 565 166 775 357 418 224 129 339 515 147 243 301 815 323 605 216 302 205 311 196 618 202 828 371 241 273 427 162 267 280 85 350 830 296 285 180 385 203 526 151 541 155 232 262 188 264 556 166 160 278 401 166 629 175 488 161 309 166 690 329 94 296 249 251 646 256 293 185 477 185 438 180" style="marker:url(#m2_4)"/>
<path d="M462 148 363 153 475 137 515 95 315 207 699 254 784 321 686 250 572 160 743 300" style="marker:url(#m6_4)"/>
<path d="M81 281 749 250 409 129 390 182 359 203 765 283 609 206 819 269 256 219 602 164 569 157 337 189 690 191 455 148 480 170 563 125 390 217 718 224 142 273 142 248 828 296 346 243 116 288" style="marker:url(#m1_7)"/>
<path d="M793 315 344 176 50 333 839 330 670 242 688 319 758 259 613 166 114 306 157 313 453 98 206 252 309 191 278 175 440 135 589 201 455 116 677 217 637 203 267 179 622 212 819 308 708 274 672 237 120 332 580 130 734 311 826 328 480 163 664 223 173 350 830 345 274 272 440 111 155 295 815 377 396 123 596 199 626 168 589 172 256 169 484 98 392 120 111 315 819 329 694 247 473 118 736 279 756 332 556 137 675 217 87 316 642 222 427 192 589 168 835 354 328 167 477 107 822 318 697 262 740 295 320 126 786 263 414 127 455 121 710 230 769 254 164 252 475 122 679 194 515 147 565 138 72 307 701 244 605 239 59 357 140 345 85 280 618 163 832 317 664 203 822 353 405 119 653 216 140 315 653 221 756 265 754 312 471 107 837 304 657 284 622 154 832 294 173 312 212 205 701 251 705 209 317 189 651 210 841 296 54 322 679 215 252 160 512 110 775 288 177 301 580 159 526 124 409 131 648 203 734 243 304 169 765 299 822 311 697 237 254 244 517 142 164 304 221 195 412 135 285 212 510 112 182 312 620 148 418 151" style="marker:url(#m6_0)"/>
<path d="M699 202 615 158 388 182" style="marker:url(#m3_6)"/>
<path d="M644 224 89 340 795 299 164 284 846 323" style="marker:url(#m6_3)"/>
<path d="M666 229 228 242 342 212 335 188 565 114 620 153 346 200 828 291 76 277 201 256 168 312 201 278 488 144 217 240 644 222 54 301 738 235 828 345 190 293 453 198 824 272 157 319 791 253 736 264 228 280 258 175 543 103 92 283 208 251 285 120 721 238 609 202 762 252 567 149 96 300 471 110" style="marker:url(#m4_2)"/>
<path d="M620 168 118 270" style="marker:url(#m4_7)"/>
<path d="M765 288 455 148 554 184 751 301 841 306 620 220 87 276 388 190 458 57 648 169 510 146 826 317 52 342 589 128 282 192 131 275 620 218 587 93 732 212 173 273 716 201 78 323 793 271 626 201 291 255 396 184 418 155 502 196 745 263 732 283 166 266 92 327 418 183 548 213 749 226 832 302 434 209 655 188 721 287 65 282 197 318 228 275 622 164 620 185 368 194 374 191 57 284 756 237 477 143 528 127 52 271 118 280 780 293 822 319 837 308 81 287 361 123 357 169 657 200 841 260 306 213 819 330 83 280 830 284 534 137 826 281 160 267 668 207 848 258 61 288 92 276" style="marker:url(#m1_1)"/>
<path d="M512 137 311 219 89 280 311 216 74 307 57 303 480 143 412 230 173 287 57 313 425 164 482 185 708 266 826 316 743 297 326 165 83 304 300 224 59 304 569 198 445 130 339 172 54 327 793 324 802 292 653 236 173 254 578 162 681 270 208 253" style="marker:url(#m2_3)"/>
<path d="M118 271 718 250 278 222 142 321 302 164 105 275 841 314 493 161 111 281 414 160 664 193 85 326 469 174 157 255 672 288 697 244 298 175 499 128 460 101 832 365 385 172 350 204 70 283 605 144 745 240 254 208 530 186 72 265 512 139 247 223 778 255 615 198 850 255 228 208 236 248 372 134 703 269 841 320 679 205 824 246 420 144 236 257 824 303 668 218 611 180 133 299 157 307 195 261 651 179 289 171 644 172 668 209 203 261 96 330 771 250 420 114 583 187 800 317 276 230 219 285 690 258 686 262 197 247 526 148 361 183 802 267 712 269 727 263 780 316 366 156 675 234 63 288 212 265 624 179 295 256 295 186 160 269 109 325 293 236 578 162 388 172 477 131 567 168 221 277 89 254 688 221 271 283 846 299 493 134 166 294 605 132 258 274 392 128 401 132 111 316 173 318 164 283 716 265 54 302 76 314 144 272 499 133 247 230 403 117 109 277 477 155 164 230 482 120 429 189 567 125 607 163 54 311 491 128 815 311 315 197 243 220 473 137 624 207 710 297 811 271 826 308 221 222 767 257 802 306 50 292 138 256 491 105 738 254 758 245 526 180 61 305 339 182 392 127 484 164 519 159 611 168 609 169 381 138 556 127 74 299 469 137 212 299 157 272 455 106 383 133 475 192 703 230 228 233 138 266 598 155 166 282 320 176 210 195 282 201 72 313 184 270 620 183 280 218 839 374 841 283 129 316 701 208 420 190 699 225 357 199 751 296 54 287 63 272 548 116 791 260 611 167 594 168 129 269 624 187 545 145 749 229 295 258 57 300 471 147 61 323 164 314 749 300 111 283 491 166 271 277 668 199 804 271 502 142 786 279 295 190 105 275 703 255 379 185 434 140 723 226 74 347 594 166 848 263 558 134 76 281 651 178 217 330 771 249 725 281 740 237 793 245 164 343 506 130 267 281 313 214 765 276 127 243 140 301 350 166 517 115 558 154 686 216 659 199 532 123 686 275 545 166 846 261 797 301 721 215 819 270 418 124 611 177 72 305 541 120 177 253 506 173 247 260 607 178 780 244 808 262 462 124 705 234 512 177 537 144 732 285 258 255 162 267 817 266 54 309 624 213 416 166 740 279 100 264 76 296 81 308 550 208 293 256 171 259 265 233 782 257 265 283 190 235 760 233 98 316 675 251 694 259 734 301 813 319 195 284 789 267" style="marker:url(#m1_0)"/>
<path d="M477 165 394 155 655 194 727 285 217 252 311 143 558 149 637 232 232 285 447 188 473 131 626 167 335 141 734 238 802 288 585 160 464 159 403 119 837 255 322 181 243 214 359 195 133 321 199 250" style="marker:url(#m7_4)"/>
<path d="M497 224 337 214" style="marker:url(#m1_9)"/>
<path d="M596 167 596 205 539 190 534 119" style="marker:url(#m5_7)"/>
<path d="M335 205 626 211 552 156 111 266 455 219 515 180 655 191 245 220 252 261 795 251 247 245 743 234 736 278 392 199" style="marker:url(#m5_6)"/>
<path d="M491 123 558 179 804 279 464 150 802 251 129 272 537 159 677 248 718 211 499 167 302 211 480 150 52 275" style="marker:url(#m4_6)"/>
<path d="M460 154 228 264 828 341 385 205 72 337 254 214 789 296 447 224 322 210 716 292 585 168 598 213 269 229 263 234 631 187 311 210 749 271 600 198 144 318 135 303 100 301 760 309 291 268 228 232 697 296 583 191 420 125 723 289 212 288 800 319 179 271 710 217 488 130 197 232 721 271 526 139 471 169 462 179 78 300 118 370 666 233 357 153 594 159 736 270 114 303 313 175 512 170 175 309 195 338 504 112 195 260 784 265 276 240 289 282" style="marker:url(#m2_0)"/>
<path d="M339 236 342 216 587 175 708 258 160 305 493 168 583 163 710 241 282 235 703 238 558 142 655 220 418 215" style="marker:url(#m2_7)"/>
<path d="M708 293 504 147 699 251 613 185 363 158 561 108 203 196 600 146 832 260 506 165 85 274 162 252 133 315 210 264 607 145 646 197 116 229 339 168 526 129 359 169 333 144 320 236 800 287 379 183 111 237 436 196 256 246 688 245 850 297 841 311 81 300 762 280 234 197 519 161 232 247 390 128 620 164 714 224 464 214 561 165 843 330 782 260 773 304 385 150 550 178 493 166 637 134 622 170 756 254 510 159 131 269 664 212 607 143 626 188 249 272 850 313 63 273 164 293 749 282 394 172 624 179 370 170 212 296 819 279 116 296 716 302 394 179 578 98 157 288 655 193 103 270 745 281 431 143 59 307 447 155 142 276 243 255 431 180 589 185 133 295 605 193 85 285 837 297 830 279 686 228 326 218 745 249 539 140 142 264 629 192 502 177 666 231 791 272 835 289 394 159 236 199 100 287 495 151 61 279 729 291 135 306 96 260 629 191 545 121 646 194 622 178 475 146" style="marker:url(#m1_4)"/>
<path d="M256 225 236 230 111 311 815 309 63 330 563 172 749 257 103 334 815 310 811 348 620 214 806 297 291 211 769 330 657 283 710 255 223 250 556 153 287 205 708 255 188 264 232 253 98 307 74 322 506 122 363 173 793 344 155 339 517 138" style="marker:url(#m8_4)"/>
<path d="M162 295 317 190 690 236 317 204 230 270 109 273 462 115 210 266 760 268 142 266 57 386 451 128 646 210 236 261 352 123 723 261 723 318 640 173 662 191 61 339 712 278 797 326 618 155 429 170 813 260 631 170" style="marker:url(#m4_3)"/>
<path d="M276 256 510 151 111 313 784 286 786 270 618 186 331 250 133 313 414 183 480 200 111 322 602 127 337 221 526 178 236 294 298 227 648 261 192 341 267 241 749 326 118 285 238 272 460 190 289 277 642 219 223 256 306 183 843 314 423 142 710 271 554 158 85 258 348 172 567 192 782 263 841 322 445 138 811 342 282 271 732 268 210 332 179 345" style="marker:url(#m0_3)"/>
<path d="M534 153 666 219 65 317 326 166 615 185" style="marker:url(#m7_5)"/>
<path d="M462 154 466 183 94 322 254 261 383 171 817 283 543 168 466 128 302 242 449 152 605 148 280 201 304 237 736 275 377 171 504 205 366 177 530 166 289 248 192 308" style="marker:url(#m2_6)"/>
<path d="M359 130 822 348 168 303 228 270 409 156 600 159 554 172 565 149 436 132 363 152 276 179 197 276 249 266 403 157 773 324 348 134 754 306 675 238 425 132 328 231 171 328 85 325" style="marker:url(#m8_1)"/>
<path d="M615 208 615 208" style="marker:url(#m1_10)"/>
<path d="M491 191 688 248 434 167 466 200 622 177 453 165 414 195 784 275 114 253 462 189" style="marker:url(#m1_8)"/>
<path d="M528 152 773 275 589 226 475 179 705 267 267 188" style="marker:url(#m8_7)"/>
<path d="M278 241 278 241" style="marker:url(#m3_4)"/>
<path d="M732 220 556 131 232 265 824 270 445 164 335 188 815 259 502 131 646 208 688 203 828 274 234 270 414 161 107 279 392 170 607 178 359 149 738 248 782 279 182 271 263 253 460 180 837 308" style="marker:url(#m4_5)"/>
<path d="M302 235 563 183 791 308 416 160 328 274 309 235 434 161 532 160 306 195 407 170 138 275 558 169 804 360 197 315 449 177 837 345 545 153 225 305 357 167 377 101 569 167 729 282 396 192 640 245 394 136 276 240 131 300 188 303 96 301 396 137 52 308 633 239 267 191 230 264 212 287 228 271 600 160 203 287 252 262 558 193 666 249 644 192 258 305 120 299 256 238 201 268 377 179 208 297 350 212 431 189 155 296 295 227 736 300 282 267 346 216 374 124 473 147 512 133 466 160 517 145 328 180 725 319 694 229 171 287 311 246 54 293 773 280 819 398 681 293 609 167 234 277 541 152 133 288 171 327 850 322 65 288 449 135 315 177 705 286 705 280 447 185 348 191 804 276 716 250 499 216 622 166 146 293 322 197 725 276 252 261 269 248 751 263 585 208 449 164 177 299 138 314 778 269 642 180 324 181 243 200 480 162 245 227 679 238 618 203 315 204 545 184 449 189 309 248 679 254 263 234 164 279 473 183 125 335 228 378 732 272 328 199 249 216 81 283 646 198 811 300 552 163 267 259 537 134 276 284 578 186 773 299 670 277 762 270 826 315 135 302 52 262 302 272 78 285 87 290 760 270 374 119 352 208 65 288 445 155 653 240 701 285 269 245 830 357 256 255 517 135 425 138 666 271 144 332 515 162 333 191 477 153 545 173 605 186 486 144 171 285 718 315 306 210 363 178 89 374 697 210 238 251 111 271 333 182 344 190 372 215 271 251 662 185 98 303 495 199 440 155 238 252 359 201 786 304 727 289" style="marker:url(#m0_0)"/>
<path d="M712 223 379 180 320 160 797 270 637 216 648 176 68 283 94 261 92 261 434 182 381 181 111 265 337 178 96 282 105 283 600 205 298 198 828 260 401 138 808 239 822 255 626 211 451 173 118 250 70 273 120 289 543 188 109 303 401 190 195 308 135 274 276 253 107 271 138 256 826 257 745 240 59 331 109 279 85 291 804 289 841 275 611 198 615 154 324 199 78 283 442 143 70 313 416 138 651 241 197 338 793 251 850 265 534 111 482 188 396 154 228 274 672 217 54 279 96 291 642 229 184 271 664 203 291 260 464 190 166 267 600 185 832 268 409 134 111 247 70 282 438 141 116 302 773 315 129 278 572 148 493 164 640 165 199 232 646 145 598 172 116 257 830 259 103 302 100 263 679 223" style="marker:url(#m1_5)"/>
<path d="M618 188 416 174 355 160 368 190" style="marker:url(#m3_5)"/>
<path d="M263 277 418 176 458 149 260 232 469 163 98 312 249 257 712 286 598 206 177 266 765 296 184 302 368 212 78 317 379 159 727 271" style="marker:url(#m2_1)"/>
<path d="M721 288 850 325" style="marker:url(#m5_1)"/>
<path d="M374 225 458 187 230 342 427 188 168 257 403 192 309 194 537 169 778 316 681 280 850 298 81 291 368 173 232 197 409 159 502 158 379 199 515 163 569 183 182 283 366 221 460 154 317 211 745 291 344 258 464 193 541 174 409 103 346 196 105 296 843 315 388 198 83 321 127 283" style="marker:url(#m0_4)"/>
<path d="M114 303 526 172 331 210 149 290 322 250 745 316 162 367 578 181 295 274 813 297 830 248 398 185 657 228 734 325 826 296 203 371 563 223 743 266 558 174 541 214 236 209 826 266 68 291 276 232 361 217 276 237 83 313 388 205 716 311 394 197 249 291 328 218 166 252 609 270 265 245" style="marker:url(#m0_5)"/>
<path d="M436 174 171 341 662 231 168 308 337 196 670 254 819 300 140 285 274 271 438 177 848 253 782 274 686 237 611 210" style="marker:url(#m0_6)"/>
<path d="M644 185 466 134" style="marker:url(#m7_6)"/>
<path d="M236 236 453 142 460 135 217 307 532 112 670 239 350 151 269 247 177 229 605 172 344 216 214 307 528 126 605 150 116 311 613 190 355 187 822 270 828 284 74 314 477 114 249 264 747 286 611 160 342 209 835 331 659 181 114 295 396 201 70 320" style="marker:url(#m0_1)"/>
<path d="M453 150 453 150" style="marker:url(#m0_9)"/>
<path d="M120 299 111 312 120 276 407 123 512 136 252 200 556 135 453 105 699 238 822 338 228 250 605 178 230 243 403 148 212 227 797 305 388 175 806 300 59 360 637 165 576 111 832 289 754 237 642 179 243 234 355 175 618 190 778 306 366 225 714 206 217 226 765 261 171 287 236 292" style="marker:url(#m4_1)"/>
<path d="M315 137 822 321 160 328 611 175 644 223 153 282 486 120 267 239 107 346 440 98 155 289 89 363" style="marker:url(#m6_2)"/>
<path d="M618 192 100 282 265 240 326 254" style="marker:url(#m7_6)"/>
<path d="M263 221 403 151 111 256 554 174 344 119 756 291 605 179 238 216 585 144 600 131" style="marker:url(#m5_7)"/>
<path d="M388 138 245 306 221 255 605 187 534 132 594 146 133 325 396 244 607 179 401 149 819 273 162 295 429 130 304 207 414 163 342 240 620 190 414 129 466 134 160 350 633 209 460 190 151 313 745 309 541 142 98 273 188 368" style="marker:url(#m0_2)"/>
<path d="M195 295 195 295" style="marker:url(#m3_6)"/>
<path d="M328 219 839 308 523 183 504 189 469 157 589 200 352 248 497 183 488 205 344 215 267 269 285 199 615 185 712 252 201 229 835 282 620 183 388 187 771 295 377 140 791 308 420 138 471 148 359 206" style="marker:url(#m2_7)"/>
<path d="M631 212 631 212" style="marker:url(#m4_8)"/>
<path d="M694 233 729 243" style="marker:url(#m3_3)"/>
<path d="M409 204 409 204" style="marker:url(#m5_10)"/>
<path d="M403 200 506 144" style="marker:url(#m8_7)"/>
<path d="M677 266 54 256 727 242 762 214 499 166 403 143 578 169 92 220 403 197 100 282 87 262 723 230 697 252 355 209 120 268" style="marker:url(#m1_8)"/>
<path d="M482 158 850 298 512 140 254 323 203 340 311 226 214 280 171 295 541 177 269 259 54 274 469 182 602 194 469 158 412 160 392 204 786 287 725 257 92 299 828 297 795 278 381 170 298 232 804 280 828 327 466 123 497 165 480 121 221 310 576 149 587 161 377 190 188 280 850 312 563 207 782 310 238 228 835 334 510 132 655 225 694 246 401 146 596 181 405 101 295 171 526 125" style="marker:url(#m2_0)"/>
<path d="M802 284 453 78 556 131" style="marker:url(#m3_5)"/>
<path d="M591 205 587 218 122 266 142 290 379 157 295 187 626 200 206 278 304 183 451 165 379 187 383 151 175 277" style="marker:url(#m8_6)"/>
<path d="M558 119 177 261 754 274 569 151 705 195 600 151 238 201 57 327 703 256 98 263 686 239 675 266 409 169 103 341 800 269 565 122 631 199 633 217 754 226 578 135 85 265 697 205 819 333 701 226 789 243 138 327 129 266 723 250" style="marker:url(#m4_2)"/>
<path d="M460 148 282 260 675 265 758 272 613 159 94 293 276 201 550 151 52 303 131 268 344 182 109 301 587 149 70 342 512 165 162 256 780 303 429 118 563 119 65 347 217 252 199 255 716 198 519 148 655 196 775 271 254 239 184 276 747 228 206 223 543 151 293 205 475 182 212 262 149 278 600 151 662 226 662 190 221 275 817 302 736 270 473 148 295 202 677 190 407 174 445 142 425 162 390 187 241 204 681 220 690 244 635 213 256 229 808 314 98 301 54 327 85 286 199 241 815 321 578 151 65 304 245 220 114 317 260 191 282 217 828 280 206 291 633 198 613 157 431 166 561 149 635 222 100 316 469 178 455 123 760 235 149 309 692 266 657 139 743 291 672 243 725 253 440 175 589 190 151 271 736 300 677 207 214 252 690 229 769 279 651 184 315 179 81 258 714 279 725 244 648 209 499 111 567 151 789 267 837 310 688 277 697 179 576 149 107 283 751 280 146 264 771 276 445 175 412 115 550 133 309 176 587 178 589 169 390 205 512 118 344 202 552 142 346 152 206 253 377 155 203 237 620 186 355 167 359 217 370 168 427 160 92 271 228 279 460 180 54 306 173 284 427 121 447 88 488 166 850 280 517 134 295 161 828 273 835 262 142 324 815 284 828 333 221 240 662 218 598 155 192 284 355 202 543 153 537 194 464 95 252 273 670 234 162 247 265 235 63 310 135 276 442 149 236 262 368 191 462 158 729 239 57 295 61 313 822 262 276 295 100 281 690 249 846 286 837 308 425 162 692 195 274 215 197 296 78 321 85 298 815 280 164 347 155 317 245 208 61 277 140 323 697 249 221 271 107 283 811 337 153 288 539 171 734 260 368 133 626 180 440 177 385 214 263 252 344 202 107 268 578 141 249 230 129 309 480 122 756 269 206 244 534 144 745 256 589 207 769 254 225 260 817 269 703 265 291 289 221 284 304 213 631 226 401 167 824 278 52 278 797 250 146 260 98 287 72 311 131 296 190 212 245 286 710 246 76 312 206 288 72 282 431 190 228 265 811 287 633 165 817 277 469 94 109 280 723 275 221 223 618 139 57 275" style="marker:url(#m1_0)"/>
<path d="M541 182 556 133 563 148 491 119 363 156 622 135 217 226 561 94 598 143 822 300 182 244 236 284 135 288 754 273 344 188 455 117 515 148 795 265 149 363 767 262 423 85 758 297 125 316 54 309 252 202 574 151 778 277 238 194 83 275 157 315 285 124 83 281 295 221 773 294 81 293 298 150 760 254" style="marker:url(#m4_3)"/>
<path d="M690 213 451 131 70 314 466 116 539 139 153 309 583 116 54 310 808 300 594 142 164 320 138 289 653 250" style="marker:url(#m6_3)"/>
<path d="M811 271 436 227 690 247 758 226 477 149 445 167 550 183 83 329 773 255 434 138 471 178 285 192 629 215 70 253 171 246 692 250 830 276 164 281 804 280 521 160 701 249 771 257 96 305 664 217 622 206 587 177 151 272 221 261 804 261 348 204 832 300 462 117 388 189 491 163 401 129 510 97 541 169 168 258 672 224 398 162 298 219 554 140 545 177 210 252 716 301 59 310 644 223 618 177 499 147 144 261 269 250 602 179 168 289 89 272 63 254 111 310 773 262 333 195 63 298 146 248 225 178 502 192 440 183 74 306 664 203 677 207 765 265 85 299 530 190 758 288 624 159 469 211 385 184 497 156 103 260 105 277 228 224 765 226" style="marker:url(#m1_5)"/>
<path d="M615 209 291 228 317 200 506 185 762 253 675 248 806 267 767 292 677 277 390 211 201 257 76 331 491 166 322 238 429 129 300 192 217 216 497 219" style="marker:url(#m2_6)"/>
<path d="M587 152 315 206 605 211 523 101 166 264 841 278 747 258 83 276 374 157 541 108 234 246 140 279 269 208 747 269 232 249 107 308 802 276 697 249 850 293 609 189 683 240 129 266 50 321 423 161 346 143 578 157 760 250 210 262 238 304 692 202 723 304 723 262 837 282 173 252 778 332 188 300 600 152 151 254 521 128 149 301 197 290 59 297 342 193 848 313 131 299 370 198 567 139 57 274 466 150 135 303 105 287 92 289 265 265 464 136 228 235 802 267 736 237 57 280 440 155 808 257 629 166 177 286 543 120 203 239 423 119 530 108 129 272 190 274 637 219 657 222 412 227 418 137 171 258 414 166 541 151 453 143 234 239 256 260 710 270 521 119 105 251 677 307 271 244 76 281 219 235 526 145 462 131 425 178 63 329 208 261 447 151 155 288 133 253 223 188" style="marker:url(#m1_2)"/>
<path d="M451 193 497 173" style="marker:url(#m2_9)"/>
<path d="M442 161 105 301 254 233 177 288 585 217 607 204 703 227 819 307 298 245 120 372 322 200 493 189 78 277 155 315 598 180 350 141 429 172 225 265 824 359 363 156 765 281 403 166 458 138" style="marker:url(#m2_4)"/>
<path d="M773 254 304 206 802 260 668 176 412 196 133 253 464 146 131 256 618 237 679 189 502 202 675 226" style="marker:url(#m4_6)"/>
<path d="M488 161 157 245 114 262 81 293 346 159 690 208 672 218 302 170 738 285 59 296 293 193 664 266 420 139 734 232 438 118 839 253 558 156 94 280 769 245 81 264 201 250 469 172 701 201 517 124 455 135 256 239 394 124" style="marker:url(#m4_5)"/>
<path d="M484 165 278 183 396 108 274 174 254 175 57 329 324 198 782 330 201 231 140 276 390 112 63 288 784 256 271 214 78 262 837 318 690 268 846 277 552 167 50 362 116 293 311 176 651 226 521 121 306 178 786 329 118 292 59 307 458 111 247 238 727 233" style="marker:url(#m4_1)"/>
<path d="M778 279 477 132 352 158 824 260 534 209 234 197 515 148 263 184 366 180 653 211 241 226 780 250" style="marker:url(#m5_2)"/>
<path d="M646 204 635 189 234 238 670 268 578 202 743 277 784 290 206 218 131 300 585 163 640 181 782 332 758 379 512 111 96 344 701 250 337 156 153 289 230 251 377 173 668 214 298 180 580 173 173 354 208 262 688 228 718 275 188 275 804 344 740 281 701 257 539 161 199 322 804 336 675 206 74 302 771 300 144 330 116 322 482 158 519 93 352 175 532 127 192 295 269 229 635 180 306 204 304 214 499 152 572 136 552 120 442 172 784 307 357 189 637 169 427 142 109 363 151 266 359 164 199 235 192 260 506 136 683 219 835 354 659 187 153 313 298 231 74 355 605 154 70 305 427 137 309 179 789 300 423 118 732 290 583 167 679 221 263 226 710 310 311 197 530 137 100 298 624 160 725 271 383 78 679 170 241 219 105 315 574 118 637 197 572 149 346 181 210 262 622 189 144 283 504 145 133 298 648 222 773 300 385 155 602 156 729 295 339 203 727 257 241 201 190 257 65 314 657 213 526 85 596 150 491 146 594 155 182 288 285 211 672 223 789 305 377 128 797 279 828 312 68 300 179 292 168 273 784 266 396 99 471 168 309 177" style="marker:url(#m6_0)"/>
<path d="M756 289 407 92 611 201 640 238 629 157 587 127 326 203 648 184" style="marker:url(#m7_4)"/>
<path d="M725 214 609 167 802 278 466 139 517 196 153 287 688 263 225 229 721 283 274 273 438 220 519 165 427 159 828 260 841 290 392 169 782 298 843 290 543 110 352 203 475 183 688 232 775 280 705 227 556 190 363 204 157 313 523 167 565 164 260 158 179 304 190 255 598 150 317 176 339 227 125 299 815 257 94 256 692 202 828 246 331 214 331 225 221 208 331 114 368 98 605 167 431 148 65 298 488 169 238 220 247 240 539 139 729 301 361 205 63 262 848 255 830 291 197 207 677 222 247 220 791 245 797 302 311 197 523 135 602 188 583 148 83 281 848 280 269 187 372 124 804 275 736 264 355 201 767 268 333 211 668 222 111 278 142 301 230 202 782 268 552 182 263 241 109 317 103 272 850 317 701 197 416 141 287 170 445 156 462 154 679 239 322 225 600 176 808 293 843 259 786 265 765 238 199 296" style="marker:url(#m1_3)"/>
<path d="M206 279 300 209 712 281 50 351 482 92 653 207 125 309 405 147 848 296 436 173 363 94 317 133 469 157 747 271 436 97 414 111 686 281 197 252 195 260 677 235 602 165 563 70 381 192 795 328 401 185 743 275 703 249" style="marker:url(#m7_1)"/>
<path d="M396 229 54 278" style="marker:url(#m2_10)"/>
<path d="M484 157 622 162 350 140 245 268 383 182 482 114 618 159 523 132 666 198 63 281 585 173 475 84 368 175 111 312 429 155 337 162 591 154 311 217 445 128 771 255 212 268 688 227 429 110 475 210 552 105 609 154 629 183 241 228 721 238 197 228 786 264 245 180 335 176 388 109 269 176 405 142 105 284 548 149 762 266 640 215 144 332 416 142 488 129 291 163 510 132 388 155 569 105 668 196 127 362 699 249 276 220 521 174 813 279 210 266 572 158 848 277" style="marker:url(#m5_0)"/>
<path d="M401 195 401 195" style="marker:url(#m0_10)"/>
<path d="M133 253 372 193 762 221" style="marker:url(#m0_8)"/>
<path d="M203 203 672 263 313 194 585 157 556 164 300 195 734 266 813 296 615 233 488 118 521 118 344 104 469 164 355 160 175 259 640 189 447 146 350 179" style="marker:url(#m5_6)"/>
<path d="M302 257 683 270 488 172 256 285 142 265 510 212 552 181 826 299 594 196 103 300 620 224" style="marker:url(#m2_2)"/>
<path d="M85 273 208 294 477 160 175 293 681 248 228 205 118 306 350 168 125 281 729 263 324 166 68 295 800 286 309 200 754 303 390 129 640 162 311 212" style="marker:url(#m5_4)"/>
<path d="M848 284 122 319 339 201 808 281 556 124 648 161 287 168 633 218 346 182 249 271 407 166 817 271 208 247 197 268 718 253 574 151 431 162 640 202" style="marker:url(#m3_0)"/>
<path d="M328 265 458 155 732 285 515 196 232 320 462 172 449 123 125 336 271 251 219 277 212 247 186 309 493 116 528 141 756 287 162 313 331 178 567 157" style="marker:url(#m2_1)"/>
<path d="M153 294 291 223 469 157 762 274 285 275 333 196 589 179 712 249 225 301 238 236 361 217 100 322 727 263 780 336 767 286 670 249 357 164 574 173 499 203 574 197 162 265 648 273 120 342 442 190 76 286 243 250 651 245 92 289 342 242 179 282 561 193 236 248 59 308 179 243 175 302 817 287 477 152 195 320" style="marker:url(#m0_3)"/>
<path d="M195 231 502 156 429 166 431 200 431 136 135 276 151 264 114 274 171 266 558 159 206 255 813 292 561 166 482 181 76 245 68 295 438 121 129 304 50 264 61 323 190 230 767 246 57 269 274 206 85 282 664 218 311 252 828 278 111 273 372 127 335 242 784 279 760 230 103 265 563 199 453 172 508 156 162 254 802 298 561 163 708 256 839 283 447 129 85 236 493 192 431 215 508 156 111 293 366 176 791 265 563 135 523 124" style="marker:url(#m1_6)"/>
<path d="M512 170 806 330 120 325 74 364 758 273 333 161 677 240 473 128 802 317 837 324 681 262 289 249 712 301 405 136 574 196 206 299 184 259 642 207 291 178 278 212 526 176 350 166 282 236 52 293 811 335 328 217" style="marker:url(#m8_4)"/>
<path d="M409 165 274 245 491 183 278 184" style="marker:url(#m3_2)"/>
<path d="M662 234 635 229 241 235 241 241 131 381 252 287 368 179 140 288 736 308 694 245 670 264 63 309 197 304 797 352 401 144 300 168 50 311 287 183 541 124 666 225 464 114 331 177 306 236 245 215 70 313 109 315 683 303 197 307 138 304 258 302 89 310 815 323 767 316 335 145 523 160 497 102 61 352" style="marker:url(#m8_2)"/>
<path d="M517 201 517 201" style="marker:url(#m0_9)"/>
<path d="M160 288 293 238 245 308 405 154 664 253 740 254 576 184 92 358 217 233 407 210 398 171 342 217 144 313 607 189 609 207 85 308 274 255 710 259 848 327 324 250 370 244 587 196 271 212 219 261 502 188 311 227" style="marker:url(#m2_5)"/>
<path d="M223 223 59 302 721 283 804 290 328 183 598 146 651 201 223 231 258 187 534 144 366 125" style="marker:url(#m5_3)"/>
<path d="M392 155 392 155" style="marker:url(#m4_7)"/>
<path d="M144 271 72 303 504 159 381 143 440 119 508 171 618 201" style="marker:url(#m7_5)"/>
<path d="M668 237 348 222 184 262 317 195 662 245 740 265 596 165 512 190 359 184 537 208 407 185" style="marker:url(#m0_7)"/>
<path d="M574 143 633 166 548 130 190 270 580 145 488 66 585 179 157 280 256 198 409 144 368 198 223 241 175 311 618 176 236 159 572 149 554 97 127 286 528 167 455 118 355 175 418 171 359 173 655 216 736 281 140 277 206 250 107 329 683 249 504 86 155 286 186 304 804 312 105 362 602 156 357 134 241 263 703 249 223 236 241 259 221 265 484 114 664 237 587 187 537 110 756 224 543 133 460 119 718 311 811 275 370 152 506 117 348 190 429 128 589 174 182 261 729 229 701 239 298 182 480 103 714 275 780 301 600 196 613 189 683 206 333 160 355 117 778 324 534 144 519 131 385 148 254 171 532 108 188 231 355 135 133 332 598 134 460 84 607 194 651 193 806 323 515 129 519 146 495 128 74 290 241 226 236 237 773 302 405 201 87 309 116 296 162 292 561 168 523 164 626 205 848 320 300 198 81 342 662 245 817 325 727 258 732 288 672 213 407 151 811 270 302 196 300 108 808 279 705 254 346 232 383 166 225 265 686 242 155 299 499 117 409 167 72 290 512 179 195 273 751 289 74 340 795 361 197 262 54 314 135 317 521 122 144 355 269 267 236 193 677 228 688 250 699 249 523 157 462 126 734 232 230 229 280 202 762 269 416 154 263 220 445 136 561 64 116 309 743 314 703 252 778 268 241 252 223 223 105 275 725 271 569 189 626 206 729 229 580 209 326 192 436 148 762 257 718 263 122 298 648 193 574 90 103 308 692 302 795 282 335 177 162 274 425 220 175 314 434 108 440 116 499 130 780 331 160 287 190 312 425 101 800 321 629 198 708 281 245 249 515 115 427 172 587 163 322 152 221 242 537 111 686 232 574 118 57 379 348 132 580 125 285 195 738 255 738 253 153 251 714 334 412 194 206 263 530 86 552 162 714 221 451 138 423 123 425 150 192 279 699 252 727 268 545 122 629 222 65 352 431 116 274 268 249 217 828 343 68 293 653 186 532 101 125 310 646 157 252 237 837 324 164 268 328 204 558 128 694 258 780 316 414 193 151 293" style="marker:url(#m7_0)"/>
<path d="M324 205 57 304 769 298 679 211 837 291 499 132 482 152 144 286 651 228 589 178 232 242 440 97 94 376 453 150 767 288 721 282 762 322 491 124 352 199 214 265 830 333 767 270 109 361 539 163" style="marker:url(#m7_2)"/>
<path d="M850 332 291 249 736 256 791 258 672 221 631 218" style="marker:url(#m5_1)"/>
<path d="M751 241 668 180 212 295 686 225 83 341 773 290 677 252 85 303 712 266" style="marker:url(#m6_4)"/>
<path d="M554 158 92 280 502 112 721 240 317 246 480 176 392 134 543 146 348 202 295 183 352 187 692 292 484 139 361 129 179 297 622 210 824 302 802 303 822 300 234 251 458 169 475 245 385 156 388 163 815 331 769 308 631 213 238 291 131 341 388 185 653 203 482 162 537 119" style="marker:url(#m0_1)"/>
<path d="M289 162 289 162" style="marker:url(#m6_5)"/>
<path d="M727 265 368 132 699 233 760 284 839 317 225 197 771 260 683 233 694 236 830 318" style="marker:url(#m6_1)"/>
<path d="M793 284 793 284" style="marker:url(#m3_4)"/>
<path d="M83 301 548 139 811 301 609 150 366 146 558 160 552 138 813 289 756 267 672 306 618 195 243 280 569 163 736 271 561 169 118 320 438 146 782 376 70 330 423 158 532 190 580 172 155 273 72 309 260 296 230 261 762 262 214 217 438 169 377 183 184 291 793 277 615 208 611 218 453 160 138 311 602 243 214 280 269 314 832 320 85 355 618 220 657 214 52 286 335 217 721 318 679 293 835 327 651 221 182 321 324 264 263 327 666 231 383 192 528 192 734 297 548 187 398 160 556 173 254 266 412 187 519 121 491 181 92 357 206 318 238 260 105 312 797 302 686 281 789 322 326 248 791 292 727 318 843 359 243 272 269 231 736 317 361 217 504 128 342 201 138 291 182 277 782 309 624 188 773 313 594 177 361 167 295 315 672 265 806 312 506 122 59 290 396 149 285 224 550 185 118 310 688 224 173 348 826 310 721 263 263 248 545 201 712 227 269 246 83 309 129 322 331 192 177 298 508 135 543 127 223 312 688 251 837 276 293 236 142 321 576 152 385 172 508 165 848 364 265 265 177 287 423 157 173 300 412 175 247 242 438 131 600 211 587 196 469 161 664 261 611 195 363 221 780 275 800 313 320 199 381 197 282 239 109 333 166 313 160 342 819 293 363 177 811 299 311 232 756 301 201 291 359 149 186 303 624 242 177 286 471 136 817 292 54 324 274 250 68 383 328 229 171 309 442 102 57 321 438 130 217 297 304 189 129 299 607 163 164 278 506 181 462 121 563 160 418 203" style="marker:url(#m0_0)"/>
<path d="M561 143 271 194 795 316 445 151 289 206 247 218 758 318 747 322 795 315 342 180 285 209 333 185 396 194 751 307 771 324 749 314 208 254 732 238 497 151 258 236 613 237 168 313 626 214 280 268 355 178 633 181 495 195 146 304 442 154 317 196 749 314 315 177 57 303" style="marker:url(#m2_3)"/>
<path d="M232 219 837 322 651 251 267 261 447 124 125 328 192 315 59 352 352 116 622 216 635 163 482 160 168 331 791 337 236 218 401 181 302 147 784 298 712 246 245 249 344 223 438 163 828 337 537 151 328 201 499 108 725 306" style="marker:url(#m8_3)"/>
<path d="M146 323 694 268 98 323 633 154 427 153 392 193 651 228 361 134 92 378 824 384 63 377 839 365 550 182 322 168 543 127 655 266 668 274 760 289 146 344 850 318 850 328 817 315 418 152 324 121 368 163 289 194 324 158 714 255 626 206 212 270 68 334 530 175 54 345 361 197" style="marker:url(#m8_1)"/>
<path d="M786 256 436 176 451 115 52 254 822 309 87 267 142 273 171 295 843 279 451 103 142 287 727 268 377 150 300 263 714 251 651 239 782 288 550 144 802 311 377 164 445 102 63 284 743 219 385 82 449 165 61 309 59 294 473 183 609 152 754 272 611 158 802 308 133 283 125 305 839 289 125 280 125 290 740 246 789 257 359 113 508 107 142 294 366 178 331 138 276 213 65 257 751 267 59 298 210 187 447 164 149 278 355 157 175 279 701 264 688 280 817 259 217 310 554 145 153 240 784 266 190 209" style="marker:url(#m1_1)"/>
<path d="M769 268 328 187 287 210 659 209 835 248 811 300 613 152 624 159 574 145 116 281 177 276 63 277 569 163 442 158 688 184 129 278 822 244 837 290 81 301 480 129 425 126 460 125 173 288 672 235 622 161" style="marker:url(#m4_4)"/>
<path d="M234 209 655 215 236 248 221 235 83 292 683 247 221 283 401 155 613 247 146 283 642 266 114 310 401 167 675 246 146 264 122 283 771 253 313 183" style="marker:url(#m0_6)"/>
<path d="M512 129 578 103 234 197 510 109 168 255 541 147 342 185 392 161 366 165 491 174 100 250 412 132 324 201 690 220 162 317 368 161 736 285 609 153 789 313 366 184 701 265 806 349 620 153 651 141 153 307 528 125 114 289 826 324 166 249 806 279 379 198 510 111 530 154 114 307 552 142 357 206 65 295 806 299 688 215 199 281 298 177 576 133 111 379 423 156 811 263 440 142 484 127 743 250 315 166 615 124 806 244 431 148 78 299 762 245 732 217 611 155 850 308 81 329 214 230 357 98 184 205 252 210 587 128 587 159 254 181 103 277 258 221 624 178 699 212 103 304 157 271 471 101 596 130 745 226 683 298 295 179 668 206 247 259 278 209 109 302 122 352 615 152 241 237 206 228 76 317 210 224 605 154 811 266 151 252 151 286 576 145 701 247 782 310 197 299 458 96 723 225 708 239 76 286 782 241 70 301 285 223 405 130 791 289 359 206 425 105 681 256 721 233 50 296 762 286 306 132 657 156 543 108 241 300 313 170 300 205 171 284 302 173 727 270 832 280 455 137 758 310 701 214 388 122 664 226 688 229 569 157 201 262 692 212 214 204 164 264 811 250 162 264 475 126 83 297 282 168 793 279 583 183 146 288 716 214 302 178 98 264 626 149 672 223 339 141 751 268 195 253 506 172 841 348 694 202 756 276 797 281 811 250 52 282 618 147 712 206 837 269 762 298 59 276 760 278 149 260 85 295 738 279 611 185 192 340 789 274 129 338 221 256 585 108 103 266 710 227 442 139 140 254 168 265 762 267 743 220 131 261 407 124 815 312 789 277 271 192 135 257 819 277 784 256 103 327 662 177 615 198 734 288 477 178 657 191 98 303 230 271 359 129 114 324 304 168 828 283 558 210 348 101 556 119 664 214 138 309 151 292 653 211 846 347 762 259 815 316 300 155 381 182 311 159 611 172 572 131 749 266 808 319 267 204 59 302" style="marker:url(#m4_0)"/>
<path d="M558 158 841 305 795 291 212 298 791 314 306 242 646 195 300 216 315 256 98 311 651 249 348 215 445 196 765 263 607 184 263 250 195 288 550 180 642 230 228 262 751 296 740 296 762 303 620 222 179 276 366 161 295 294 368 198 841 324 736 292" style="marker:url(#m0_5)"/>
<path d="M287 150 78 308 328 148 103 345 254 207 769 283 640 204 637 211 440 118 804 292 670 194 718 276 534 150 396 158 615 188 528 141 425 97 269 240 640 213 425 194 701 255" style="marker:url(#m7_3)"/>
<path d="M440 138 576 172 260 192 510 148 324 138 552 139 657 192 407 184 405 123 607 146 626 223 212 292 705 243 138 273 186 268 83 291 765 290 848 298" style="marker:url(#m5_5)"/>
<path d="M653 205 449 176 243 223" style="marker:url(#m5_8)"/>
<path d="M697 274 447 195 504 171 146 288" style="marker:url(#m2_8)"/>
<path d="M482 113 403 131 390 133 221 255 243 252 177 337 769 287 289 219 521 149 280 179 87 372 63 328 449 102 789 298 519 119 793 290 545 146 81 392 175 326 377 152 210 277 701 233 497 107 442 146 103 417 510 138 725 261 203 256 179 266 357 161 328 178 436 133 563 137 271 249 672 242 390 161 342 143 313 151 786 306 315 159 331 197 541 83 425 157 366 180 835 346 414 179 622 161 416 161 396 136 567 142 675 234 197 271 477 91 420 189 710 264 50 316 151 316 311 173 762 282 366 159 241 283 749 289 504 143 111 371 679 228 795 306 808 379 434 148 61 318 326 213 78 315 131 336 811 303 151 376 285 211 808 297 282 248 394 145 848 323 206 275 427 175 767 301 775 338 326 221 300 219 615 190 269 214 144 314 471 106 780 304 611 232 565 146 179 267 565 120 249 204 287 199 103 322 591 212 315 122 217 291 249 222 65 299 300 195 690 271 210 266 412 167 144 338 416 126 383 164 366 150 541 169 254 273 850 330 162 274 537 130 789 295 232 254 388 133 723 303 431 83 177 294 359 170 574 150 377 190 243 197 278 189 83 405 271 216 502 84 168 296 850 342 418 157 379 170 265 281 157 347 157 346 795 322 320 191 133 322 201 246 556 177 843 317 701 271 392 128 784 352 335 181 497 203 385 189 477 122 740 287 214 232 96 311 236 230 241 234 344 182 811 320 423 159 423 142 302 254 228 197 175 307 315 189 633 203 50 332 221 237 74 319 409 146 558 182 666 268 63 342 265 200 396 161 666 270 370 149 403 137 114 366 366 169 107 319 87 362 664 238 298 182 506 115 177 281 580 154 554 162 455 102 258 248 633 211 548 145 326 223 723 296 109 336 157 308 390 152 447 124 791 295 484 144 797 331 306 206 177 285 466 99 96 362 122 308 300 194 160 278 326 168 791 299 729 258 89 383 523 114 105 373 449 150 352 200 309 162 392 138 482 145 342 159 611 173 118 332 710 303 526 131 260 204 315 196 738 280 775 264 289 199 679 272 743 278 727 300 149 280 580 173 445 111 138 239 348 140 747 314 394 155 359 236 190 338 598 186 96 318 497 97 111 355 488 169 828 309 363 190 519 108 631 189 295 189 366 161 519 114 392 165 175 310 839 331 506 97 65 398 315 151 188 297 605 141 168 364 135 340 210 328 223 252 144 305 434 108" style="marker:url(#m8_0)"/>
<path d="M729 245 806 322 495 149 504 188 637 240 381 184 107 303 455 175 210 257 263 211 74 319 263 262 548 173 81 277 111 403 333 215 335 160 491 158 605 163 558 159 762 262 337 182 348 130 195 244 221 280 512 176 622 208 677 290 434 105 587 163 491 144 63 273 164 265 401 148" style="marker:url(#m0_4)"/>
<path d="M431 146 629 218 824 257" style="marker:url(#m1_9)"/>
<path d="M300 214 228 267 541 146 206 267 357 209 738 324 440 187 111 374 385 155 523 136 440 175" style="marker:url(#m8_5)"/>
<path d="M797 332 475 149" style="marker:url(#m3_1)"/>
<path d="M499 153 637 204 751 258 337 167 488 153 445 178 339 221 177 244 96 266 414 233 497 150 651 188 383 198 727 247 532 176 385 172 177 278 828 262 519 156 493 189 537 176 372 175 681 232 668 246 545 194 587 219 545 178 440 182 534 137 76 263 186 246 442 188 335 178 232 237 556 152" style="marker:url(#m1_7)"/>
<path d="M811 313 243 271 734 203 129 260 791 244 837 268 780 270 228 247 453 153 210 251 127 280 381 162 725 234 808 272 436 130 157 240 484 177 359 222 420 106 832 298 824 300 846 284 497 178 596 191 383 173 92 275 567 149 114 298 767 307 142 259 786 305 817 253 725 239 78 298 258 194 76 296 561 139 574 163 458 146 548 156 835 278 569 182 357 157 370 197 201 272 703 261 383 220 828 244 745 256 528 137 458 146 374 117 815 265 635 227 70 308 52 291 407 168 449 150 313 269 78 344 850 278 646 190 806 282 210 300 74 276 565 132 690 239 526 152 782 280 217 277 289 197 153 255 339 195 552 112 541 147 499 170 311 230 786 299 54 264 635 141 315 183 203 307 607 150 789 261 791 274 188 303 605 193 701 203 282 248 175 255 274 224 690 216 287 186 609 187 569 157 232 220 355 230 729 271 646 210 65 264 111 305 747 248 331 185 135 274 537 128 429 185 374 109 381 194 802 254 734 277 795 296 471 151 561 155 98 267 76 276 368 124 98 306" style="marker:url(#m1_4)"/>
<path d="M361 198 554 145 352 150 462 133 528 133 217 279 129 274 223 209 677 207 302 206 495 181 442 81 252 213 675 235 186 247 727 292 232 207 214 282 309 219 390 133 651 166 780 264 238 297 412 166 394 143 381 174 611 179 477 126 438 113 94 282 309 196 449 130 256 235 320 172 269 223 622 155 295 161 221 250 50 287 517 125 545 151 615 137 488 131 203 332 819 266 254 320 495 154 164 278 372 147 317 168 587 149 618 177 449 133 782 269 762 251 168 278" style="marker:url(#m5_0)"/>
<path d="M808 372 188 287 633 204 78 327 276 226 808 326 287 212 278 258 565 174 839 276 756 273 247 188 76 306 648 221 712 279 249 246 646 210 758 309 328 229 388 156 447 179 447 147" style="marker:url(#m8_5)"/>
<path d="M315 172 537 155 322 202 565 137 267 216 681 255" style="marker:url(#m5_7)"/>
<path d="M315 164 745 307 403 142 469 117 186 268 633 218 184 269 175 303 835 272 817 306 552 149 309 199 368 171 499 153 572 160 146 303 692 223 843 341 819 285 232 224 291 220 160 301 839 343 613 177" style="marker:url(#m7_2)"/>
<path d="M328 219 230 270 414 171 326 214 236 242 773 270 238 270 786 263 50 310 339 207 140 315 727 303 640 235 642 192 361 120 206 270 607 167 291 225 469 133 335 165 708 256 749 286 114 329 409 178 311 193 295 230 738 271 453 188 398 187 819 258 569 171 177 274 166 304 758 275 534 116 274 278 398 171 550 177 225 250 140 268 828 249 236 306 600 194 611 210 802 334 125 315 716 266 177 275 81 326 815 313 96 386 782 280 320 218 357 227 648 283 138 312 734 318" style="marker:url(#m2_0)"/>
<path d="M105 254 153 250 574 144 278 179 537 116 142 225" style="marker:url(#m4_6)"/>
<path d="M537 156 291 219 491 157 521 151 298 210 565 164 445 199 219 259 484 81 782 301 398 94 552 115 784 246 92 284 523 138 149 286 784 304 548 143 760 272 532 140 438 189 512 136 175 301 160 269 480 165 600 192 633 172 438 155 144 322 710 215 313 181 460 135 131 311 537 143 304 188 120 325 127 330 372 194 651 203 672 210 221 225 197 279 780 275 234 306 705 192 464 148 306 213 414 160 591 169 103 311 118 308 171 255 708 243 811 270 278 218 133 308 63 281 495 171 657 211 830 296 635 205 74 301 59 303 442 122 100 266 243 230 469 137 670 227 464 109 716 211 357 152 366 161 558 133 322 237 672 208 199 264 826 280 98 297" style="marker:url(#m1_3)"/>
<path d="M118 323 725 248 760 263 208 316 747 278 70 328 469 166 394 206 449 186 497 139 114 295 837 373 425 182 186 245 550 149 708 295 291 304 589 177 642 214 545 134 328 192 664 229 550 142 138 314 832 338 368 169" style="marker:url(#m8_4)"/>
<path d="M640 301 116 307 841 269 111 272 219 289 613 174 539 143 157 305 506 164 611 199 622 211 166 293 282 259 519 151 57 285 609 171 447 164 247 309 587 189 624 198 578 195 197 264 186 320 517 213 337 185 331 228 335 183 605 222 451 145 758 333 565 155 192 305 802 264 736 271 280 247 333 221 363 189 149 262 256 237 182 313 309 197 653 266 304 206 659 246 736 266 390 148" style="marker:url(#m0_4)"/>
<path d="M497 101 598 98 605 179 778 291 199 269 190 277 736 271 425 148 681 243 554 155 403 116 431 104 228 227 539 100 477 134 622 212 431 99 179 259 447 108 265 236 543 118 342 105 455 117 219 241 355 167 309 173 466 122 350 135 442 135 594 157 418 149 528 134 683 241 666 231 317 227 686 252 366 128 52 300 843 300 260 190 168 265 238 213 280 248 526 132 116 343 734 276 846 352 221 292 416 171 701 238 149 321 306 151 96 335 749 268 537 105 423 111 438 170 786 351 210 275 344 153 455 122 662 184 832 294 179 249 133 309 572 138 118 288 677 243 241 255 298 204 269 182 655 205 797 307 675 198 249 213 447 87 228 226 381 165 394 152 390 170 460 161 537 162 228 241 832 331 795 310 589 149 646 200 521 116 657 243 826 339 206 247 103 336 328 189 263 226 206 267 611 189 672 249 249 225 298 151 567 143 225 230 177 252 423 88 381 146 701 234 640 229 65 358 326 200 716 224 800 352 502 122 488 82 453 137 462 142 539 187 683 248 313 168 793 245 405 202 203 211 688 234 427 89 747 283 403 134 118 283 300 230 662 188 65 312 407 155 76 325 727 270 287 227 344 157 445 101 431 165 331 155 484 123 214 266 81 326 558 126 309 140 699 292 52 275 637 212 326 213 469 109 846 308 414 120 171 287 414 146 526 129 740 253 249 252 646 210 786 326 622 180 357 139 390 99 434 132 129 301 677 250 429 149 98 301 662 221 666 218 383 165 337 219 442 155 453 113 596 117 455 121 379 138 455 107 429 95" style="marker:url(#m7_0)"/>
<path d="M453 169 672 221 618 167 800 279 681 224 359 205 721 247 512 158 756 279 214 224 732 245 280 261 793 257 263 231 317 198 236 347 602 212 61 258 168 237 160 274 186 240 120 293 548 172 506 144 50 285 558 188 208 250 61 259 508 155 537 163 469 121 282 204 800 266" style="marker:url(#m1_6)"/>
<path d="M445 139 550 129 493 115 690 259 125 264 471 131 440 138" style="marker:url(#m7_5)"/>
<path d="M837 259 602 162" style="marker:url(#m7_6)"/>
<path d="M103 262 179 297 523 205 721 266 530 197 611 224 210 262 190 297 337 218 217 256 666 198 429 153 521 196 802 277 475 146 405 202 469 176 285 278 363 208" style="marker:url(#m2_7)"/>
<path d="M111 314 651 265 300 184 245 270 50 374 793 293 331 148 83 344 111 377 438 142 429 176 677 270 789 303 576 116 162 336 651 214 243 225 822 344 420 124 686 222 238 296 519 155 352 217 659 216 754 258 133 333 839 315 225 230 561 200 225 262 806 305 414 119 602 197 368 124 556 164 291 177 111 306 580 148 385 141 74 331 477 130 361 180 471 115 355 133 613 168 72 379 291 195 249 202 789 375 477 96 269 214 471 91 357 105 398 110 223 238 306 197 495 112 482 118 789 315 469 187 824 318 802 369 374 207 206 322 545 182 519 129 276 162 326 227 317 147 532 131 238 198 455 67 802 317 530 87 311 224 184 240 306 246 214 251 434 140 352 158 287 182 315 223 302 205 620 159 127 299 655 212 662 222 708 261 61 329 175 259 751 356 313 150 600 198 335 189 515 119 135 315 377 129 552 130 300 169 567 141 153 355 280 256 192 277 758 274 190 293 190 398 659 274 548 132 171 310 826 307 238 209 381 125 633 220 335 181 298 252 734 294 337 153 502 153 659 199 245 257 618 201 484 103 381 144 659 275 65 322 131 315 370 138 688 231 480 101 808 345 740 283 804 314 440 83 85 330 388 139 352 212 157 350 769 297 374 138 107 313 322 216 267 177 512 150 269 219 587 131 258 241 431 138 565 110 760 314 168 325 192 316 269 228 265 225 368 174 287 229 142 303 740 289 683 253 57 337 214 250 497 168 100 345 773 289 59 339 672 218 256 194 416 99 486 172 157 261 839 377 613 181 789 259 377 179 276 251 681 214 127 311 841 316 179 249 528 170 480 106 313 223 247 223 802 271 190 297 629 180 133 322 377 165 471 133 626 207 109 347 758 361 234 246 701 214 486 135 409 163 523 173 72 324 635 247 789 326 480 153 412 127 142 314 315 192 361 182 659 231 754 286 438 88 228 213 122 315 381 148 306 265 427 148 521 141 344 181 263 166 256 210 541 164 828 317 846 339 342 167 267 204 701 283 620 172 245 246 157 293 221 197 841 320 515 152 269 191 471 189 637 169 70 374 57 349 767 330 54 332 596 206 552 147 153 336 642 221 488 130 567 166 285 207 149 324 295 179 708 261 280 276 705 230 528 116 670 239 155 302 473 106 556 152 298 178 431 151 260 245 762 354 644 203 269 211 302 204 232 249 140 327 339 145 701 257 131 347 784 309 716 298 208 314 228 281 585 152 228 286 734 270 352 213 727 254 486 130 197 306 339 200 756 325 171 262 677 205 793 300 607 204 392 124 333 215 554 174 309 173 206 292 298 182" style="marker:url(#m8_0)"/>
<path d="M322 151 708 254 333 214 655 224 403 145 786 289 563 137 697 251 596 185" style="marker:url(#m6_2)"/>
<path d="M311 190 89 285 455 121 738 253 846 272 118 300 300 206 497 109 267 178 703 216 670 248 569 165 208 284 477 148 234 247 311 135 729 228 725 268 802 273 580 131 177 255 114 325 749 206 848 279 131 292 166 277 620 140 366 191 403 203 567 159 784 271 705 268 471 170 206 279 591 157 806 312 822 309 302 191 460 128 519 202 234 225 68 269 745 288 129 294 640 167 515 102 107 259 326 233 460 92 199 266 708 262 587 191 306 204 784 269 640 201 116 283 328 190 822 282 460 176 92 316 133 278 629 192 543 144 188 289 429 151 460 179 74 318 618 163 835 341 780 289 811 287 146 266 493 147 808 275" style="marker:url(#m1_2)"/>
<path d="M201 233 802 351 125 313 114 277 734 259 140 248 265 243 412 123 302 175 313 146 811 294 512 167 499 85 192 231 355 166 228 266 333 191 740 248 85 364 127 256 589 169 635 190 747 268 635 178 688 262 416 136 635 157 631 193 486 148 688 166 697 201 655 214 50 293 203 255 109 273 802 315 166 265" style="marker:url(#m4_1)"/>
<path d="M164 327 203 276 225 223 832 367 648 223 523 95 368 213 694 296 182 290 120 304 197 278" style="marker:url(#m6_1)"/>
<path d="M370 174 795 302 583 123 587 161 355 184 175 249 453 69 401 159 800 330 398 149" style="marker:url(#m5_2)"/>
<path d="M425 191 576 189 228 279 458 206 447 187 530 169" style="marker:url(#m2_8)"/>
<path d="M681 288 600 180 613 196 506 170 594 174 423 177 545 156 716 281 438 179 427 158 493 183 298 199 230 329 523 196 328 215 846 302 322 215 390 181 808 321 486 206 716 255 197 265 346 181 398 179" style="marker:url(#m2_6)"/>
<path d="M723 266 723 266" style="marker:url(#m6_5)"/>
<path d="M173 224 699 229 583 142 771 277 596 190 624 187 274 197 256 153 166 308 409 125 572 138 789 314 291 201 822 335 723 243 256 194 442 101 635 161 598 138 72 280 558 166 138 254 716 271 331 179 659 198 668 170 539 183 197 301 120 316 626 168 381 138 545 106 635 193 782 320 835 351 532 118 414 214 155 273 355 161 545 161 754 298 578 99 182 282 74 263 565 143 587 153 100 290 363 167 54 283 523 167 203 260 122 310 778 315 795 277 234 198 116 287 519 135 403 135 179 268 155 273 699 241 697 234 484 167 258 212 506 124 118 258 771 288 701 220 841 288 425 94 841 333 116 276 528 161 600 195 583 141 238 227 813 275 427 151 754 272 837 279 539 169 609 135 81 280 585 231 217 203 120 298 646 204 122 264 773 301 725 208 199 267 89 306 322 180 668 230 631 176 76 303 462 156 105 306 775 248 789 272 681 220 830 314 188 300 103 323 392 131 835 306 497 94 212 276 276 286 681 210 690 199 773 263 848 294 149 290 666 190 611 123 243 254 765 260 554 136 782 266 238 190 388 152 694 198 245 226 550 144 116 317 633 148 54 263 109 283 697 239 168 251 813 299 309 243 203 259 291 202 749 255 335 177 848 283 701 181 745 267 786 251 517 134 238 223 81 298 260 270 390 61 672 186 718 284 506 121 89 293 63 341 65 365 558 169 681 253 221 287 543 152 238 206 94 272 243 267 758 271 100 294 850 299 160 310 758 256 534 127 245 225 712 255 217 250 832 314 580 87 81 364 212 267 96 324 778 300 567 113 782 292 773 307 786 279 157 302 85 329 87 242 357 182 591 133 784 255 276 201 401 178 620 177 692 248 57 315 765 279 175 272 54 276 116 291 692 242 346 190 578 132 510 108 512 164 475 116 583 151 539 111 563 152 624 111 710 259 206 210 692 249 300 221 749 235 651 264 85 318 721 262 740 247 740 244 129 358 219 206 477 169 214 262 133 311 749 300 445 135 381 148 800 293 61 293 802 357 545 139 734 208 835 308 153 277 822 262 429 150 631 182 217 219 740 271 59 311" style="marker:url(#m4_0)"/>
<path d="M591 205 843 266 221 208 258 257 160 276 837 267 379 181" style="marker:url(#m1_8)"/>
<path d="M451 83 789 261 530 134 848 277 87 269 725 268 203 279 655 274 164 249 655 202 199 253 506 107 431 141 436 155 342 137 635 226 267 233 569 127 600 214" style="marker:url(#m7_4)"/>
<path d="M85 315 703 277 379 146 569 129 291 260 508 177 368 181 199 313 585 149 267 262 486 220 771 326 120 310 245 234 228 271 690 239 740 248 81 297 70 306 89 321 357 199 120 348 721 282 298 217 186 344 295 250 447 176 791 303 537 162 249 248 576 153 78 346" style="marker:url(#m0_1)"/>
<path d="M699 224 127 297 129 308 438 166 177 292 333 180 526 159 561 154 771 269 822 249 208 260 697 212 767 265 414 178 109 275 120 291 473 188 583 132 140 263 613 169 681 188 515 175 260 246 657 195 477 140 708 222 585 153 664 199 449 175 659 194 271 214 574 160 57 255 585 194 149 270 495 161 326 185 699 250 633 190 52 255 109 281 89 297 385 183 339 180 830 294 629 190 249 228 526 164 458 149 822 262 471 179 537 135 122 323 434 181 171 269 440 182 114 255 681 186 455 167 569 217 839 271 54 276 797 275 177 303 850 258 767 248 225 223 502 190 721 274 598 160 379 117 760 247 484 114 640 158 622 179 142 283 114 278 491 181 131 274 230 257 710 243 164 281 646 207 743 291 526 123 175 275 675 252 438 170 328 199 210 218 63 281 76 277 699 239 186 315 537 155 714 245 269 193 179 314 747 262 510 137 828 293 54 256 635 206 357 196 843 323" style="marker:url(#m1_4)"/>
<path d="M554 109 613 174 710 260 677 224 644 178 52 298 517 120 434 106 289 194 736 248 140 262 530 114 791 273 142 266 767 282 324 183 563 87 285 225 133 270 107 321 602 166 672 234 819 274 177 254 688 281 83 287 782 254 271 151 848 279" style="marker:url(#m4_2)"/>
<path d="M718 327 245 236" style="marker:url(#m3_4)"/>
<path d="M274 176 576 190 765 281 519 176 407 229 545 152 486 183 98 262 366 201 688 242 832 255 429 144 740 219 420 158 175 231 609 182 298 218 629 193 131 256 412 164 846 249 791 253 361 206" style="marker:url(#m1_7)"/>
<path d="M464 159 201 249 230 205 125 314 694 239 217 213 300 190 276 188 659 210 534 144 611 172 92 240 683 217 651 237 795 286 223 233 175 269 54 315 561 154 605 155 611 198 556 151 653 201 175 259 247 189 366 163 778 265 379 128 782 291 304 184 686 222 87 272 344 175 830 355 473 145 116 304 142 248 271 225" style="marker:url(#m4_3)"/>
<path d="M504 156 771 304 423 166 271 206 697 255 666 246 333 169 602 182 760 251 394 129" style="marker:url(#m5_6)"/>
<path d="M306 239 828 330 657 201 602 215 802 298" style="marker:url(#m8_7)"/>
<path d="M587 212 166 301 589 142 598 127" style="marker:url(#m3_3)"/>
<path d="M537 141 786 296 403 148 138 358 135 309 653 217 580 167 197 277 223 268 87 327 59 313 642 254 317 133 177 281 591 182 521 186 727 295 311 156 135 343 87 319 383 121 539 156 81 381 708 231 455 93 633 235 278 194 306 130 493 125 70 366 177 298 646 225 267 184 600 161 155 288 405 151 828 327 651 183 59 328 651 226 210 238 784 312 725 226 363 106 613 191 738 318 565 171 210 288 655 192 631 175 670 226 429 120 583 97 784 330 484 124 179 278 265 220 677 246 552 98 802 298 703 289 212 308 131 340 585 135 653 221 734 287 605 189 686 268 300 151 605 176 109 308 718 252 394 161 629 175 530 137 274 211 409 174 648 245 78 349 460 99 822 262 692 230 701 259 313 200 512 101 725 291 210 298 149 280 192 258 298 187 74 322 157 292 210 282 769 252 784 311 309 155 690 253 92 350 359 143 681 213 697 290 464 152 683 207 416 187 835 324 740 266 675 222 703 251 442 137 620 200 431 132 114 347 745 260 460 103 786 314 701 239 366 141 708 306 140 303 723 270 254 245 718 280 57 319 622 168 477 168 335 194 762 292 228 229 642 192 607 130 558 176 317 229 348 143 175 298 578 144 379 143 721 266 626 197 114 321 694 259 517 85 699 257 721 259 122 318 550 184" style="marker:url(#m6_0)"/>
<path d="M642 246 642 246" style="marker:url(#m7_7)"/>
<path d="M72 273 363 149 89 301 471 127 729 222 83 277 335 163 359 102 289 168 605 195 249 216 407 98 583 148 94 267 188 265 342 224 558 133 738 263 287 246 495 105 149 261 502 187 83 294 550 158 550 101 690 241 293 192 545 147 626 166 331 177 460 191 475 157 824 232 464 179 440 150 374 193 548 135 622 176 269 264 195 285 504 180 629 185 451 148 751 281 795 270 681 229 425 154 567 164 131 293 826 267 164 264 287 181 403 185 390 111 306 241 109 279 125 258 499 131 605 173 576 171 304 204 475 133 247 270 234 199 778 300 440 138 469 137 837 322 201 290 762 295 464 142 572 156 68 259 168 293 548 169 826 300 789 297 111 268 70 335 732 267 293 226 640 236 289 217 381 173 118 272 815 308 118 281 822 319 848 265 769 267 690 237 179 251 782 263 451 155 688 182 708 212 605 135 793 283 324 190 177 260 502 142 519 137 585 197 197 335 493 179 526 113 164 235 642 215 107 284 846 284 712 229 352 186 712 214 287 173 771 279 558 174 230 299 394 96 114 268 758 265 451 142 545 213 440 149 539 133 515 150 61 278 808 287 129 241 173 295 76 300 447 195 131 256 177 269 98 288 629 191 828 323 151 267 256 252 754 253 832 299 697 254 778 303 346 132 550 147 85 303 309 180 822 256 633 217 600 143 694 189 782 264 328 158 203 267 795 293 153 269 672 197 545 162 749 290 596 184 477 146 81 281 186 226 285 196 407 171 120 337 778 260 331 168 786 251 164 273 629 220 480 164 166 316 374 176 493 133 445 139 499 166 521 142 758 275 526 150 738 268 541 132 793 277 633 216 800 286 569 194 775 319 591 193 249 203 155 291 499 131 414 176 65 280 133 273 692 233 234 308 508 159 374 183 580 233 445 131 797 283 504 177 537 107 289 213 594 120 72 283 574 189 392 147 502 173 848 263 453 92 626 152 786 273 59 344 808 277 686 229 372 168 690 228 497 183 221 217 596 164 760 246 85 311 532 155 98 270 315 225 398 153 135 342 434 129 72 322 449 173 420 156 416 142 197 252 381 175 701 259 800 281 61 284 762 266 729 264 440 144 626 173 714 225 822 318 306 211 701 301 462 137 743 240 59 259 361 163" style="marker:url(#m1_0)"/>
<path d="M162 289 445 142 206 316 129 330 438 186 486 188 644 190 626 172 118 310 537 144 142 327 499 210 686 263 420 190 631 206 541 164 309 229 725 285 449 92" style="marker:url(#m2_2)"/>
<path d="M401 112 103 344 436 180 254 197 171 258 315 208 556 137 657 195 142 274 122 331" style="marker:url(#m3_0)"/>
<path d="M576 153 280 223 217 241 550 120 727 283 217 269 640 185 89 305 317 180 394 155" style="marker:url(#m8_6)"/>
<path d="M52 285 782 309 164 325 451 104 440 66 508 94 469 90 317 166 545 186 409 148 372 123 70 310 223 272 817 314 793 288 591 133 214 255 611 156 241 207 497 150 447 102 434 156 756 285 315 229 322 173 87 327" style="marker:url(#m7_1)"/>
<path d="M208 251 635 179 473 123" style="marker:url(#m3_1)"/>
<path d="M712 287 357 165 830 326 703 248 83 337 576 111 548 118 377 162 589 178 100 304" style="marker:url(#m6_3)"/>
<path d="M309 192 298 150 732 252 315 154 140 300 94 322 122 357 81 233 416 162 120 260 131 314 96 277 57 286 199 255 131 273 109 260 122 287 403 182 786 284 765 318 157 285 631 176 655 196 188 262 190 289 111 306 802 284 453 121 135 275 357 167 304 224 541 155 385 182 670 244 729 261 786 256 458 176 155 279 850 247 784 276 517 139 280 250 138 264 817 315 160 285 199 260 100 251 848 282 618 182 539 168 811 285 414 151 50 299 743 255 589 176 826 274 269 250 434 200" style="marker:url(#m1_1)"/>
<path d="M385 179 385 179" style="marker:url(#m5_8)"/>
<path d="M326 207 510 182 175 280 824 359 670 217 398 150 504 118 269 237 339 177 471 169 116 350 826 368 806 309 61 339 302 231 594 146 210 245 263 299 718 273 409 179 620 196 523 196 626 188 822 315 578 157" style="marker:url(#m8_3)"/>
<path d="M778 234 602 175 447 132 811 286 797 294 736 270 545 148 114 267 848 283 445 151 782 267 646 200 149 239 835 287 624 186 780 314 182 297 653 213 510 137 317 164 166 274" style="marker:url(#m4_5)"/>
<path d="M331 191 429 155 574 168 302 240 188 263 786 298 699 307 460 165 177 298 370 190 114 299 469 130 320 235 506 198 409 186 223 268 521 157 708 274 600 201 105 304 445 190 506 172 817 335 166 276 672 259 644 247 350 196 791 274 458 158 681 237 747 335 751 260 232 285" style="marker:url(#m2_5)"/>
<path d="M670 219 734 265 622 194 758 261 179 250 765 281 466 179 583 202 666 219 245 206 232 240 357 159 228 214 267 230 265 159 50 272 749 313 609 150 576 104 556 146" style="marker:url(#m7_3)"/>
<path d="M370 165 333 168 793 274 436 146 295 233 482 151 469 102" style="marker:url(#m3_5)"/>
<path d="M751 254 247 229 683 282 561 141 392 112 832 287 247 211 394 119 679 261 125 285 528 175 462 162 335 222" style="marker:url(#m5_3)"/>
<path d="M455 150 168 373 545 118 232 248 403 158 326 213 317 249 59 266 565 143 591 172 749 328 510 151 355 170 578 182 254 276 381 195" style="marker:url(#m2_1)"/>
<path d="M543 155 482 162 94 280 116 273 429 157 681 265 377 124 558 148 802 284 548 186 828 296 817 308 131 272 754 283 142 280 70 265 690 223 366 170 405 143 828 306 782 306 835 287 782 276 120 268 475 166 87 263 699 279 747 300 409 126 87 267 285 193 403 180 491 120 455 127 285 206 109 328 388 163 532 156 436 162 144 255 335 191 241 208 561 180 499 117 138 269 230 299 85 255 346 253 388 204 339 166 127 263 640 181 311 236 699 239 705 262 238 224 797 271 434 155 541 168 475 145 710 338 103 288 405 137 473 182 72 304 675 226 245 264 756 261 589 215 567 109 725 248 379 133 705 228 105 242 350 117 135 256 574 156 464 133 797 251 569 131 817 248 655 162 721 227 791 254 574 193 241 271 63 270 466 171 712 271 460 147 107 285 155 274 285 191 78 292 103 278 366 193" style="marker:url(#m1_5)"/>
<path d="M285 188 285 188" style="marker:url(#m1_9)"/>
<path d="M521 111 521 111" style="marker:url(#m6_6)"/>
<path d="M609 190 120 353 694 222 683 283 618 178" style="marker:url(#m6_4)"/>
<path d="M451 173 800 324 686 249 727 255 403 146 133 293 252 247 521 182 740 264 767 272 118 331 747 241 300 218 773 323 274 194 565 204 241 264 775 371 243 289 635 215 648 240 813 341 460 162 232 280 740 278 515 149 438 162 256 273 534 138 469 172 532 139 322 188 236 264 149 339" style="marker:url(#m8_1)"/>
<path d="M425 104 59 289 596 159 607 174 769 308 819 312 644 247 241 259 274 239 241 245 219 287 504 172 344 157 221 234 383 116 423 171 52 343 107 311 539 120 214 326 247 242 74 312 263 277 736 291 103 331 690 296 293 246 57 332 508 84 486 171 245 265 626 152 832 334 484 79" style="marker:url(#m8_2)"/>
<path d="M412 160 510 133 289 213 320 179 295 202 352 161 640 213 451 146 331 196 287 209 210 256 300 252 300 176 659 199 103 254 328 232 843 316 295 212 493 146" style="marker:url(#m5_4)"/>
<path d="M89 293 714 241" style="marker:url(#m3_6)"/>
<path d="M523 194 105 315 392 203 491 180 637 254 515 153 265 248 144 286 589 175 363 209 377 187" style="marker:url(#m0_6)"/>
<path d="M499 124 278 224 98 291 348 186 87 275 401 169 302 235 359 137 157 278 114 266 488 167 116 307 591 153 385 197 497 139 712 288 157 337 475 117 653 207 96 267 230 228 530 112 640 255 565 142 383 162 644 186 473 149 434 181 442 115 370 181 760 255 160 271 600 173 605 192 778 242 642 216" style="marker:url(#m4_4)"/>
<path d="M186 233 453 198 727 191 254 199" style="marker:url(#m4_7)"/>
<path d="M462 160 539 108 63 311 431 135 613 161 374 147 309 228 78 309 320 193 633 194 703 230 263 199 850 277 192 254 690 225 515 149 804 282" style="marker:url(#m5_5)"/>
<path d="M556 149 839 379 125 273 271 230 68 350 228 295 477 180 442 160 778 302 309 205 484 113 515 153 212 276 129 312 642 224 50 313 545 148 756 280 692 269 832 339 331 246 396 148 423 148 212 256 352 155 712 295 681 258 302 193 512 160 105 327 320 178 407 128" style="marker:url(#m2_3)"/>
<path d="M339 214 651 234 580 203 572 200 716 289 285 239 300 226 609 220" style="marker:url(#m0_8)"/>
<path d="M626 195 111 360 164 292 219 300 118 286 416 172 576 162 326 214 815 303 179 297 361 200 274 288 195 272 508 133 714 276 495 165 199 264 201 248 506 167 182 357 166 271 409 154 282 223 631 244 754 281 418 173 541 155 350 234 640 227 493 183" style="marker:url(#m0_5)"/>
<path d="M337 138 146 256 795 251 718 178 780 276 346 156 633 216 765 302 808 321 331 139" style="marker:url(#m5_1)"/>
<path d="M600 172 96 295 528 185 298 177 837 253 813 274 260 315 589 161 190 323 429 164 403 185 370 164 184 286 449 156 388 172 819 331 164 303 442 165 254 264 521 180 412 139 740 255 482 178 699 281 480 212 267 262 596 184 383 225 133 289 282 185 747 285 243 221 52 298 186 280 179 256 541 175" style="marker:url(#m0_3)"/>
<path d="M228 247 190 290 705 290 637 189 407 181 107 376 694 308 131 347 98 285 125 340 732 302 326 199 306 184 300 261 179 286 572 158 348 207 322 185 328 204 620 208 705 285 580 201 528 200 670 210 293 249 662 229 100 332 431 244 309 219 74 299 344 238 265 295 70 299 407 143 63 321 495 207 388 166 585 127 620 190 392 177" style="marker:url(#m2_4)"/>
<path d="M548 157 548 157" style="marker:url(#m5_9)"/>
<path d="M70 298 725 261 359 216 491 164 449 167 613 175 127 269 427 182" style="marker:url(#m0_7)"/>
<path d="M771 308 793 357 144 285 765 338 122 270 469 146 89 300 653 222 519 115 482 163 640 200 366 177 322 239 385 190 436 196 543 161 473 201 708 261 515 169 328 261 247 227 523 178 203 287 442 127 561 201 131 296 92 351 414 148 499 230 125 278 140 374 795 329 192 262 786 352" style="marker:url(#m0_2)"/>
<path d="M521 125 359 182 819 357 116 339 620 218 681 269 664 214 83 362 769 343 168 314 65 297 278 198 648 221 727 305 773 313 692 263 576 161 78 309 122 302 716 281 451 145 260 253 679 265 322 211 830 342 372 147 195 267 523 138 754 307 662 247 133 353 381 145 609 191 221 311 517 152 129 322 666 249 140 305 740 291 828 290 177 295 460 141 791 306 813 288 613 208 769 291 754 319 598 189 495 129 359 90 214 277 556 173 212 265 414 137 530 167 664 212 495 189 89 309 201 263 473 115 122 298 462 147 769 272 377 175 712 283 651 256 120 307 116 284 252 245 346 173 802 353 828 291 289 224 629 210 258 268 208 335 633 227 276 255 642 216 563 148 70 333 256 310 258 309 109 308 815 323 298 222 416 199 780 287 377 187 534 164 626 169 589 203 708 308 596 204 561 207 449 139 192 238 52 389 328 266 394 178 734 311 705 289 61 306 835 273 491 164 521 143 311 205 418 165 692 249 824 312 712 257 473 158 160 295 475 122 760 340 705 279 247 233 236 276 558 174 153 268 175 278 815 304 646 230 517 140 140 335 705 243 361 190 550 121 740 293 335 197 646 239 278 215 563 148 530 162 637 236 263 218 289 262 295 168 236 230 718 257 543 158 756 316 201 259 326 196 427 236 188 334 278 283 508 138 710 245 153 352 754 338 144 300 212 348 569 141 778 298 274 235 94 272 738 313 427 166 370 146 589 192 234 275 355 194 758 271 631 220 427 156 245 294 65 340 368 225 455 154 192 335 118 367 418 135 100 311 243 276 659 228" style="marker:url(#m0_0)"/>
<path d="M515 108 528 147 626 181 469 123 506 101 675 255 743 304 607 161 214 234 633 209 212 251 455 97 716 234 197 241 469 121 622 163 267 240 480 147 587 189 569 144 743 265 780 288 677 225 94 323 466 106 100 333 328 163 350 99 416 207 846 314 179 298 784 310 712 209 217 248 114 270 83 325 482 152 679 272 190 269 409 171 317 224 306 198 697 249 561 130 274 218 381 106 583 141 843 341 374 160 705 239 819 328 458 86 407 143 594 210 572 163 232 227 418 171 569 132 350 264 644 210 635 177 532 184 602 185 241 223 447 92 743 277 285 174 267 171 813 312 806 294 486 105 655 215 600 164 635 201 328 144 464 89 512 122 438 88 659 200 164 301 789 327 848 348 368 118 221 269 738 262 188 253 140 294 826 287 624 122 447 68 657 240 681 218 368 182 212 251 420 142 714 264 335 140 545 198 120 330 629 228 383 148 791 311 681 161 813 320 96 328 249 259 506 111 802 324 567 137 613 157 322 153 70 350 324 120 615 200 697 228 306 188 320 195 164 305 138 348 403 139 52 337 615 181 793 320 114 302 462 156 598 162 725 278 276 246 648 186 618 191 598 209 401 171 265 248 379 131 484 142 499 169 241 267 423 137 767 299 622 196 335 134 394 130 811 338 600 142 653 192 482 150 583 144 508 138 245 236 203 277 138 327 379 181 517 142 690 221 580 164 103 332 109 323 363 175 462 131 675 202 412 105 572 179 155 291 563 101 447 107 374 120 683 296 806 283 484 148 675 256 455 123 484 105 651 199 605 109 609 157 458 144 425 180 708 277 727 246 103 302 339 169 458 99 806 328 484 115 377 111 504 135 445 136 339 192" style="marker:url(#m7_0)"/>
<path d="M793 395 721 308 464 82 434 136 758 252 282 203 725 300 729 277" style="marker:url(#m6_3)"/>
<path d="M230 214 491 170 495 147" style="marker:url(#m4_8)"/>
<path d="M743 253 355 192 135 314 539 181 502 198 304 201 716 277 528 169 92 290 388 185 405 201 407 193 392 206 374 195 210 304 574 187 252 256 412 183 96 284 313 261 793 334 455 140 186 289 85 296 374 172 285 201 320 298 427 184 743 296 495 235 600 183" style="marker:url(#m0_5)"/>
<path d="M324 156 580 162 523 175 81 266 574 153 828 322 637 206 813 271 534 136 475 153 725 260 760 280 100 298 427 215 214 286 243 249 241 188 583 147 539 119 754 266 269 179 206 243" style="marker:url(#m5_6)"/>
<path d="M155 294 526 169 135 332 412 212 368 164 591 174 580 170 166 252 50 288 144 285 758 254 131 260 315 263 837 265 285 160 212 276 346 175 822 293 398 143 206 224 195 308 493 161 144 260 212 251 574 226 160 271 824 257 425 166 65 303 98 253 85 292 118 303 754 247 171 274 168 247 835 342 473 204 157 318 339 199 269 218 74 287 252 295 138 278 686 234 727 245 293 158 133 280 221 259 234 256 782 305 740 264 596 167 718 240 648 192 352 154 670 264 629 149 657 189 131 295 57 310 83 235 475 115 52 309 615 187 545 130 736 287 451 163 403 155 138 321 449 141 140 279 491 151 103 263 217 317 800 260 495 175 333 231 298 224 725 262 576 164 291 284 357 160 802 258 848 269 72 276 521 211 765 251 89 289 714 268 762 281 773 253 65 321 83 307 594 105 107 256 182 296 828 263 732 258" style="marker:url(#m1_4)"/>
<path d="M434 177 725 275 274 254 506 198 291 217 550 148 609 171 333 176 135 328 190 272 668 230 510 138 797 278 576 181 846 330 464 154 146 283 238 252 89 282 357 209 602 222 583 172 256 236 666 294 497 170 495 148 846 307 611 220 155 327 339 210 68 310" style="marker:url(#m2_6)"/>
<path d="M738 292 475 92 567 183 835 343 469 153 530 186 515 135 629 283 751 294 201 329 355 197 116 304 337 246 714 274 302 236 370 182 440 99 762 323 534 159 326 240 186 298 153 290 749 263 767 367 502 147 199 290 160 281 541 159 412 188 841 330 723 263 138 284 686 282 813 315 230 237 848 280 659 232 412 213 217 255 228 289 791 336 210 295 331 181 96 290 675 288 309 202 89 332 497 178 679 236 800 278 335 214 670 272 589 179 510 136 140 291 732 274 797 314 749 250 670 262 576 148 718 216 775 294 585 130 361 162 683 286 736 296 212 285 278 261 197 291 228 303 510 173 295 222 679 261 743 237 778 318 267 259 350 240 114 295 576 178 846 328 756 314 554 163 504 169 111 354 155 279 530 169 666 288 346 236 173 328 839 278 473 193 506 137 633 184 164 280 631 212 469 126 138 264 199 265 201 231 714 290 710 294 646 255 350 118 403 152 521 138 587 160 587 184 416 128 280 215 434 188 315 254 486 133 644 198 203 275 786 301 690 247 563 148 782 299 692 332 190 283 449 197 786 303 754 300 659 237 173 310 615 195 782 319 98 368 401 189 666 236 655 271 258 263 657 217 188 246 532 177 190 282 363 175 276 246 377 252 600 167 146 301 765 308 388 194 775 293 659 216 771 339 694 220 734 289 600 159 655 222 394 186 745 349" style="marker:url(#m0_0)"/>
<path d="M802 317 234 249 120 296 699 291 690 212 756 279 92 310 550 109 214 237 425 219 304 206 138 319 232 265 613 209 414 195 510 132 331 127 78 309 252 275 70 279 331 198 383 208 502 140 699 198 455 145 843 271 743 297 718 233 315 249 379 195 600 181 199 238 249 183 732 279 504 153 775 296 328 241 521 185 52 280" style="marker:url(#m2_0)"/>
<path d="M778 318 249 239 548 154 396 150 686 314 585 213 133 297 76 316 298 237 653 187 762 302 480 118 265 219 92 326 103 314 819 355 403 154 179 265 168 278 313 207 350 135 554 183 269 217 195 313 52 331 289 186 493 133 817 302 111 367 703 241" style="marker:url(#m8_4)"/>
<path d="M609 175 609 175" style="marker:url(#m1_9)"/>
<path d="M758 247 445 140 383 184" style="marker:url(#m7_6)"/>
<path d="M328 258 328 258" style="marker:url(#m2_9)"/>
<path d="M138 305 760 266 587 126 464 115 105 264 210 273 488 142 786 288 743 266 70 269 125 320 228 248 780 307 68 296 177 292 786 254 197 240 596 142 291 178 105 273 190 277 195 298 409 136 89 284 786 310 743 253 271 155 725 296 142 282 607 180 822 288 565 84 629 168 249 190" style="marker:url(#m4_2)"/>
<path d="M543 158 773 297 690 285 234 239 572 147 797 326 217 342 278 256 269 273 775 323 497 192 192 237 738 342 758 255 370 216 383 165 447 165 784 368 523 161 819 299 609 170 451 98 751 313 694 236 745 267 515 134 302 245 811 282 703 242 718 272 263 262 72 301 164 346 144 216 651 224 107 288 164 278 203 308 352 188" style="marker:url(#m0_2)"/>
<path d="M335 178 335 178" style="marker:url(#m3_6)"/>
<path d="M789 297 464 135 567 140 146 300 383 151 265 262 149 285 83 327 738 258 460 118 412 175 72 327 160 318 396 155 105 321 480 166 57 307 449 161 385 170 260 221 611 135 98 363" style="marker:url(#m7_3)"/>
<path d="M723 278 723 278" style="marker:url(#m3_4)"/>
<path d="M234 218 133 298 846 323 499 123" style="marker:url(#m3_3)"/>
<path d="M168 277 543 81" style="marker:url(#m3_2)"/>
<path d="M245 225 171 296 252 280 146 284 666 263 699 290 149 318 548 159 89 276 366 189 515 200 697 227 157 342 611 151 192 276 813 320 331 191 267 246 850 336" style="marker:url(#m2_1)"/>
<path d="M828 343 653 191 274 219 771 272 539 151 423 178 92 285 846 311 282 123 217 253 585 177 241 246 637 182 420 158 401 139" style="marker:url(#m5_2)"/>
<path d="M725 253 771 244 640 223 504 151 670 252 260 226 372 165 609 163 363 205 212 239 109 281 552 149 320 193 164 233 57 292 762 249 550 164 352 222 89 273 697 223 653 237" style="marker:url(#m1_7)"/>
<path d="M521 158 442 177 611 235 416 169 120 299 802 260 548 115 594 147 423 137 497 140 475 172 199 219 118 331 394 153 149 279" style="marker:url(#m7_4)"/>
<path d="M692 249 295 126 315 221 815 316 348 211 57 295 184 282 133 321 192 256 732 293 287 213 563 103 125 283 116 271 407 108 331 197 657 209" style="marker:url(#m3_0)"/>
<path d="M718 238 300 258 344 103 839 305 414 177 155 286" style="marker:url(#m8_7)"/>
<path d="M832 301 269 266 208 309 129 265 460 127 186 295 754 276 651 173 212 260 197 284 243 225 523 132 515 149 589 149 274 262 569 136 328 242 243 304 480 158 228 267 355 186 438 140 521 165" style="marker:url(#m0_3)"/>
<path d="M497 169 425 173 385 172 510 156 76 301 276 243 455 179 633 200 655 161 587 182" style="marker:url(#m1_8)"/>
<path d="M116 291 528 168 280 254" style="marker:url(#m3_5)"/>
<path d="M230 242 637 154 61 304 466 71 738 308 510 84 793 270 315 170 131 263 368 158 620 163 839 256 76 281 76 267 285 162 552 102 460 115 331 161 186 281 289 210 76 266 775 266 602 208 208 231 416 158 670 162 751 262 822 319 506 94 762 284 206 212 122 303 797 291 309 178 168 284 458 145 304 190 394 116 745 247 236 225" style="marker:url(#m4_3)"/>
<path d="M541 155 738 316 155 307 87 299 618 214 295 241 278 176 534 136 541 60 561 110 331 111 736 277 254 208 274 228 515 171 475 113 453 153 337 174 230 308 837 366 819 325 287 254 556 141 57 338 436 128 567 145 508 114 157 334 105 323 96 339 565 165 423 124 830 335 618 171 716 277 81 367 311 208 311 193 528 190 122 331 756 255 370 121 574 137 302 178 778 295 521 146 359 191 61 312 767 318 70 337 203 287 385 117 219 227 782 303 523 119 699 291 826 303 436 149 392 238 815 326 199 259 655 226 843 349 146 304 219 256 379 185 427 161 729 272 190 274 745 300 171 286 543 132 238 262 760 266 300 189 460 116 377 195 188 269 241 225 252 229 78 309 743 273 68 365 348 205 721 267 602 198 182 278 142 313 68 344 352 155 105 341 745 261 122 387 366 171 157 290 282 210 372 175 850 342 778 325 59 371 182 312 243 216 692 254 203 309 677 270 431 98 552 65 491 122 734 272 282 239 502 110 50 336 173 289 495 104 662 211 828 335 464 98 502 125 765 264 710 265 234 225 74 361 453 146 267 279 427 144 837 348 65 347 276 221 659 237 732 350 138 320 344 232 135 328 285 247 683 222 775 293 252 230 466 152 594 171 436 146 460 129 100 334 780 341 736 257 89 309 431 142 155 323 694 273 762 260 105 384 254 212 125 350 708 251 480 119 381 160 710 251 521 144 285 170 276 187 103 306 282 166 285 254 543 134 249 260 598 173 322 190 300 226 646 226 271 226 545 150 291 204 806 301 197 274 138 357 291 196 228 259 615 205 135 324 605 189 635 234 236 227 795 306 466 156 267 198 374 195 140 291 754 354 267 179 567 101 530 122 298 240 644 214 295 202 841 284 736 255 429 196 504 91 324 149 236 222 771 306 188 254 736 317 484 199 219 347 149 329 85 396 775 271 85 291 333 125 223 304 576 165 269 174 256 219 493 91 293 240 462 113 374 193 160 295 105 308 92 404 712 268 510 179 727 299 729 270 164 299 775 302 173 335 723 253 125 315 423 111 83 303 681 267 789 327 199 265 712 247 565 101 219 286 447 132 70 358 477 186 780 287 366 123 751 290 265 246 572 176 377 191 578 150 89 346 738 265 839 332 357 132 631 215 418 172 427 166 839 342 734 312 445 98 173 310 811 362 828 305 813 330 418 159 313 160 725 237 368 153 287 201 817 356 208 296 377 146 554 166 773 284 802 322 431 140 254 237 335 152 217 260 800 302 502 126 440 104 92 334 335 166 705 259 806 339 166 309 280 153 247 216 846 331 401 185 672 224 850 379 817 337" style="marker:url(#m8_0)"/>
<path d="M657 180 740 267 775 320 802 277 631 162 534 148 473 118 543 166 556 109 320 172 252 213 436 136 449 117 729 282 826 304 587 185 285 218 657 164 92 278 738 230 65 320 401 141 824 347 466 157 208 247 164 249 574 182 626 169 497 140 692 252 118 289 423 125 324 123 168 227 692 214 390 162 539 73 622 193 576 171 631 177 795 327 63 352 756 235 182 322 532 102 611 129 83 276 642 183 122 275 686 203 449 164 179 263 662 219 835 266 359 168 100 279 653 196 311 222 298 158 716 265 252 264 72 276 758 274 315 155 293 219 778 278 578 136 238 254 230 248 532 141 773 272 420 99 712 235 357 119 197 244 727 290 344 192 225 212 721 241 740 280 225 246 140 285 670 236 282 255 850 258 642 171 241 259 545 111 826 287 688 227 848 340 122 275 68 287 127 315 396 148 683 264 734 263 721 258 670 260 471 68 65 306 675 215 578 131 78 362 201 261 164 277 219 228 166 312 626 194 414 144 339 196 784 293 462 135 618 128 50 273 122 338 841 329 447 166 622 178 188 278 813 283 589 161 800 278 103 306 795 277 201 241 624 117 653 217 129 278 322 201 723 232 427 103 282 213 565 127 585 204 188 257 105 326 105 310 236 241 515 170 751 281 366 171 681 266 453 152 602 180 600 117 197 279 600 166 249 206 306 177 539 119 304 233 530 110 732 257 92 334 203 254 372 211 686 199 274 190 519 125 339 134 436 117 486 120 629 172 59 282 427 153 734 198 813 255 475 98 171 328 552 127 274 208 651 204 488 174 662 204 762 248 464 84 502 154 672 185 576 180 453 133 208 245 131 343 723 206 633 190 589 173 361 155 681 240 188 227 449 115 822 338 234 290 791 290 100 334 486 149 497 130 699 257 624 136 624 193 786 298 122 310 225 254 188 281 285 199 841 258 841 303 149 322 68 378 188 232 59 309 394 161 670 197 164 312 322 158 135 322 618 185 765 258 168 287 346 151 388 173 140 335 644 239 740 291 782 314 716 255 653 210 228 248 122 313 521 131 528 116 221 223 89 274 460 161 92 333 265 194 168 275" style="marker:url(#m4_0)"/>
<path d="M629 204 837 272 109 328 747 273 504 86 793 277 732 290" style="marker:url(#m6_2)"/>
<path d="M390 156 802 291 57 340 153 255 63 311 313 213 539 125" style="marker:url(#m5_1)"/>
<path d="M436 107 451 177 210 248 523 181 565 175 201 245 269 190 528 108 723 285 317 214" style="marker:url(#m5_5)"/>
<path d="M140 274 140 274" style="marker:url(#m4_7)"/>
<path d="M357 198 357 198" style="marker:url(#m2_8)"/>
<path d="M519 93 416 186 598 159 633 209 309 262 602 146 131 266 370 193 749 243 429 159 105 288 510 164 357 201 780 205 578 155 714 239 712 222 295 208 813 285 745 238 54 284 545 119 166 271 773 275 179 234 618 146 539 169" style="marker:url(#m4_1)"/>
<path d="M313 208 826 288 151 306 166 259 530 136 554 114 195 328 379 215 276 221 429 191 482 167 223 238 561 207 477 187 526 149 512 202 339 214 710 269 372 224 723 222 565 186" style="marker:url(#m2_3)"/>
<path d="M848 273 537 167 142 267 662 207 166 260 519 128 545 172 666 236 488 144 228 234 368 231 802 303 363 230 352 205 293 209 271 222 791 260 320 201 201 249 225 249 72 314 475 141 98 283 348 198 274 187 455 164 164 233 70 276 692 241 133 309 320 127 291 195 403 182 771 256 567 171 122 255 589 157 153 315 357 156 416 199 298 182" style="marker:url(#m1_6)"/>
<path d="M473 213 473 213" style="marker:url(#m2_10)"/>
<path d="M447 118 499 109 497 98 806 253 260 303 85 327 289 170 188 320 81 326 379 137 526 157 199 284 811 372 214 297 587 197 589 156 267 228 530 145 212 293 688 242 701 206 436 171 714 259 569 160 265 149 434 158 157 341 372 185 537 169" style="marker:url(#m8_2)"/>
<path d="M57 274 699 271 587 137 620 217 762 242 598 172 50 281 425 141 784 311 197 245 447 152 550 132 423 144 837 278 727 267 813 272 800 263 116 258 655 210 186 263 583 150 646 192 591 197 596 139 743 254 225 244 804 243 789 300 280 212 230 217 230 193 648 233 672 229 420 157 826 284 712 248 127 330 173 222 683 195 300 176 629 191 692 271 401 166 89 336 214 241 754 288 846 319 293 180 184 265 206 239 171 268 116 293 745 276 366 189 677 199 59 324 543 163 769 213 817 309 85 293 366 151 607 141 734 252 352 125 725 271 453 176 412 155 127 307 409 219 749 235 523 170 569 205 644 193 778 284 212 296 677 234 651 169 269 221 749 304 168 249 449 181 260 226 716 259 587 150 199 279 70 267 811 327 322 185 672 210 238 248 188 250 392 179 427 101 114 277 517 108 802 285 453 126 236 245 195 286 171 272 697 238 184 304 841 310 828 298 727 243 396 163 813 295 804 308 203 300 313 168 585 164 745 287 418 114 122 325 587 159 541 151 655 206 791 272 324 194 817 294 274 190 596 188 210 250 637 157 153 313 841 342 252 266 125 306 824 335 157 271 708 236 412 147 585 139 440 123 392 217 609 161 830 275 131 303 800 294 295 159 418 140 157 248 203 279 846 319 175 239 449 122 784 307 574 121 182 269 418 160 190 267 171 281 835 262 697 266 484 111 331 184 703 249 394 175 519 161 398 188 782 274 471 199 558 114 388 204 797 323 811 304 771 275 409 164 664 239 155 257 841 309 418 175 436 166 653 188 736 295 72 274 348 240 129 278 769 255 50 302 74 276 640 193 747 264 363 195 462 127 561 177 554 143 291 190 348 145 291 231 466 154 703 262 357 256 328 219 442 189 679 215 125 272 504 106 129 275 539 123 315 184 425 102 142 298 583 163 716 275 396 157 541 160 740 225 431 183 767 259 366 143 545 138 793 303 657 152 420 188 611 208 455 154 758 288 462 167 826 284 449 138 103 275 166 279 727 282 572 216 679 237 789 246 708 214 230 246 396 96 342 177 648 208 317 180 451 155 499 150 839 249 670 168 92 281 602 172 830 307 791 272 199 220 289 250 843 300 716 234 655 202 388 213 173 259 473 155 368 113 786 288 806 274 515 130 622 179 631 201 81 299 129 345 517 167 243 275 572 110 61 267 587 142 556 123 543 170 488 111 561 150 429 205 392 170 328 177 269 201 208 244 502 134 510 149 686 236 368 163 451 174" style="marker:url(#m1_0)"/>
<path d="M791 274 635 233 401 155 379 187 508 127 173 260 94 239 160 250 333 153 576 187 791 262 708 224 103 259 602 180 657 186 523 130" style="marker:url(#m4_6)"/>
<path d="M521 149 745 234 548 147" style="marker:url(#m5_8)"/>
<path d="M293 238 374 168 337 208 800 281 254 246 765 305 569 160 806 312 532 114 447 177 85 296 293 218 651 191 541 126 721 271 464 155 68 299 526 211 769 317 184 245 247 258 232 280 760 277 245 266 168 313 659 240 497 124 813 326 425 169 512 112 611 217 54 306 782 283 602 206 186 288 839 340 129 331 850 317" style="marker:url(#m0_1)"/>
<path d="M203 278 414 248 355 199 624 238 293 267 197 327 186 310 574 176 374 180 328 218 543 160 495 205 311 221 217 281 749 293 754 258 300 183 458 147 278 170 618 205 390 173 510 156 166 311 328 199 749 274 203 287 526 126 451 144 778 279 686 256 339 153 409 150 624 205" style="marker:url(#m2_5)"/>
<path d="M247 262 197 237" style="marker:url(#m0_8)"/>
<path d="M453 162 692 239 436 145 631 188 504 181 258 199 762 263" style="marker:url(#m5_7)"/>
<path d="M447 184 225 238 681 228 440 154 458 195 537 195 563 168 609 213 502 140" style="marker:url(#m0_7)"/>
<path d="M563 142 826 312 773 294 826 291 416 162 635 207 234 263 811 288 440 123 609 204 322 125 605 187 160 304 368 151 541 126 243 282 793 277 679 250 453 148 116 268 328 160 640 171 729 219 210 221 324 178 405 132 624 192 442 166 576 227 254 203 135 278 151 291 635 189 420 95 504 137 293 181 381 163 116 281 782 288 335 190 374 154 260 272 688 253 315 219 168 245 662 215 293 190 100 319 795 287 298 168 615 204 605 185 228 239 824 298 605 144 396 172 230 257 263 169 565 136 122 317 453 139 333 181 747 268 550 152 515 135 841 274 585 129 418 198 326 161" style="marker:url(#m5_0)"/>
<path d="M521 247 521 247" style="marker:url(#m1_10)"/>
<path d="M287 145 578 104 173 308 258 220 629 191 556 141 263 197 171 243 718 284 162 253 482 115 578 144 322 185 545 110 258 207 256 234 488 67 309 174" style="marker:url(#m5_3)"/>
<path d="M574 232 574 232" style="marker:url(#m5_9)"/>
<path d="M326 227 438 160 813 323 149 321 762 256 830 303 811 297 385 214 822 250 729 246 585 185 618 169 648 195 155 271 232 248 521 134 416 152 164 310 841 262 850 302 723 240 326 218 743 287 714 221 100 268 61 265 127 298 635 183 466 168 199 300 679 242 848 277 668 248 164 278 322 215 523 129 537 171 846 308 61 329 587 138 146 330 401 134 793 287 133 277 657 224 826 311 83 276 675 190 199 275 192 269 116 267 751 240 664 223 61 249 306 178 50 279 686 226 217 229 355 151 287 180 188 243 826 280 92 311 605 180 138 282 306 254 740 256 767 281 517 174 359 198 804 278 747 274 736 247 515 144 331 200 72 247 817 277 52 261 464 128 583 155 186 212 431 159 611 189 190 220 762 274 642 210 826 304" style="marker:url(#m1_3)"/>
<path d="M175 274 394 201 331 178 337 165 670 244 65 296 348 176 114 290 530 168 475 163 217 234 771 320 306 245 760 256 151 243 830 271 646 164 607 178 116 310 135 282 670 217 583 178 591 201 793 308 383 148 583 112 534 159 795 268 666 211 135 276 74 278 773 291 425 202 54 258 775 241 675 249 140 312 114 299 782 267 252 272 331 202 484 146 850 270 576 146 773 283 589 156 778 297 57 308 146 268 611 193 171 322 747 257 89 279 138 279 333 141 578 155 133 273 142 305 423 125 385 144 219 322 263 175 679 221 357 163 451 180 572 178 662 158 668 225 151 287 306 165 168 314 315 160" style="marker:url(#m1_2)"/>
<path d="M736 287 736 287" style="marker:url(#m6_5)"/>
<path d="M414 73 228 245 596 192 512 64 646 167 254 244 326 157 153 378 76 315 727 267 813 305 690 218" style="marker:url(#m6_1)"/>
<path d="M322 225 637 210 81 315 418 149 302 273" style="marker:url(#m8_6)"/>
<path d="M245 193 561 154 681 213 664 251 339 234 795 267 337 165 405 122 363 134" style="marker:url(#m7_5)"/>
<path d="M114 335 144 288 274 188" style="marker:url(#m6_4)"/>
<path d="M177 333 607 150 245 277 361 195 377 192 370 236 666 284 252 222 679 246 502 214 629 263 98 304 412 145 574 185 129 300" style="marker:url(#m2_2)"/>
<path d="M186 255 754 337 225 254 690 271 705 278 515 170 434 146 78 312 304 142 138 306 438 182 556 108 440 106 817 325 712 280 225 284 267 223 144 285 423 118 585 163 455 143 517 145 791 312 539 98 622 182 313 197 274 230 293 166 651 189 285 266 793 283 449 128 762 281" style="marker:url(#m8_1)"/>
<path d="M70 270 396 127 800 275 68 306 578 171 72 292 756 280 184 292 594 165 89 291 666 240 135 290 142 292 736 246 184 242 473 137 127 325 732 258 620 205 784 325 830 288 361 149 815 256 769 282 782 270 295 237 328 194 558 157 813 262 521 158 155 338 482 152 789 267 68 284 732 233 59 285 155 322 199 277 50 301 637 214 214 235 664 240 773 229 462 114 116 335 188 244 765 264 328 152 175 323 736 251 363 150 59 294 484 174 473 133 425 96 199 248 664 262 223 244 804 272 96 284 558 170 111 327 822 293 460 137 705 253 806 282 155 298 806 282 756 238 449 192 747 290 828 283 729 221 138 290" style="marker:url(#m1_1)"/>
<path d="M70 263 195 273 488 195 243 262 528 163 629 204 572 218 50 279 423 166 791 278 615 206 543 154 403 251 331 169 455 197 182 287 265 203 111 311 245 200 672 240 449 190 440 220 589 196 760 310 708 266 260 233 576 172 534 174 263 305 482 150 214 229 407 157 171 302 168 295" style="marker:url(#m2_4)"/>
<path d="M409 143 241 264 352 137 269 215 734 285 76 329 328 169 598 159 315 138 609 235 320 122 655 204 203 227 118 302 199 246 438 146 591 163 828 389 554 182 449 92 61 326 653 177 449 139" style="marker:url(#m8_3)"/>
<path d="M140 268 361 160 602 220 517 123 510 126 569 149 613 210 602 182 357 151 328 206 587 190 651 243 850 282 118 268 732 286 157 244 758 251 473 137 688 210 403 104" style="marker:url(#m4_5)"/>
<path d="M339 107 122 296 655 212 72 326 815 242 177 264 541 163 738 278 835 283 822 302 151 270 396 165 659 170 780 268 565 103 311 187 762 243 249 265 760 250 217 245 664 213 295 171 576 164" style="marker:url(#m4_4)"/>
<path d="M732 257 304 245 618 144 648 255 241 273 622 159 646 224 298 167 219 259 552 140 146 284 486 156 412 153 300 175 655 210 477 175 640 224 168 249 385 155 701 262 751 269 431 160 574 130 843 326 594 139" style="marker:url(#m7_1)"/>
<path d="M225 258 583 207 633 228 138 324 618 185 508 196 828 345 539 175 530 184 317 207 778 310 826 287 791 263 111 354 455 204 455 171 114 279 418 203 670 264 681 237 607 218 491 166 372 193" style="marker:url(#m0_6)"/>
<path d="M622 265 622 265" style="marker:url(#m0_9)"/>
<path d="M258 212 412 197 350 206 168 289 258 216 506 126 122 297 392 172 111 342 824 301 574 128 462 142 249 222 626 241 182 298 269 182 206 302 223 228 427 173 190 247" style="marker:url(#m8_5)"/>
<path d="M440 149 664 247 377 73 383 102 372 129 583 97 326 168 431 126 146 291 263 190 517 141 298 220 640 151 89 303 594 194 758 280 749 260 359 164 195 254 826 339 109 322 230 247 109 319 339 176 357 213 175 305 697 264 835 369 725 234 712 293 659 208 208 231 171 306 377 138 480 109 791 292 103 280 412 145 681 242 280 242 841 312 144 299 692 238 662 217 578 144 683 235 109 310 797 299 151 350 287 193 655 183 234 212 377 213 545 107 228 272 668 242 81 334 668 209 793 312 199 248 655 241 98 326 429 137 477 98 269 229 705 252 624 176 289 212 464 135 342 146 414 129 125 315 502 116 629 172 168 302 160 301 359 174 278 216 837 339 554 159 434 109 718 242 179 253 473 114 409 123 355 195 423 124 70 331 291 143 241 236 749 310 537 108 396 146 686 235 114 324 394 179 495 96 848 319 574 134 493 139 670 264 256 219 523 116 530 110 793 264 146 299 388 122 363 147 626 170 830 275 580 126 306 175 385 195 409 134 637 250 705 270 848 304 574 116 285 207 293 229 107 332 155 407 221 285 734 248 583 123 760 259 668 206 681 262 793 290 780 312 583 166 324 102 633 220 285 198 162 287 192 266" style="marker:url(#m6_0)"/>
<path d="M381 114 846 290 160 287 346 173 309 236 545 97 635 228 379 141 464 93 405 124 394 135 344 176 804 276 394 133 76 308 795 260 223 238 539 145 109 321 670 216 504 137" style="marker:url(#m7_2)"/>
<path d="M212 279 718 283 155 284 315 202 578 159 784 326 475 123 140 286 583 192 57 280 767 283 162 318 727 236 155 324 486 141 484 98 118 293 646 216" style="marker:url(#m5_4)"/>
<path d="M782 253 146 248 843 322 85 275 791 298 800 230 359 172 804 304 331 182 815 284 773 277 778 259 138 283 199 243 210 290 666 237 622 219 493 122 287 237 228 274 78 287 68 296 184 283 561 139 692 245 668 235 778 284 429 140 135 251 679 235 116 259 357 192 760 250 819 253 716 220 583 152 482 159 493 173 495 147 688 225 828 282 72 296 116 323 651 237 114 281 497 177 462 124 138 301 352 171 372 187 182 307 442 148 409 172 274 245 523 144 267 269 265 248 688 251 249 235 94 266 302 256 412 203 142 255 712 210 716 255 832 274 686 222 355 175 59 314 280 197 125 281 254 261 243 242 173 247 773 280 221 197 523 117 686 229 447 131 534 140 302 119 344 144 142 268 690 197 78 295 228 248 800 325 197 278 749 281 773 267 789 274 111 259 440 167 59 268 585 242 445 155 727 230 839 281 488 164" style="marker:url(#m1_5)"/>
<path d="M199 277 85 312 565 171 100 265 699 322 782 317 363 167 175 317 438 132 569 196 100 283 337 261 263 200 740 319 515 160 269 241 445 189 765 325 475 149 274 272 166 268 539 148 377 190 736 306 517 148 214 253 495 196 217 273 166 351 164 307 556 160 105 290 797 313 747 327 182 317 333 298" style="marker:url(#m0_4)"/>
<path d="M802 330 802 330" style="marker:url(#m3_1)"/>
<path d="M445 191 482 187 414 201 160 292 311 209 635 231 718 232 418 149 274 281 260 244" style="marker:url(#m2_7)"/>
</g>
<g>
<rect x="50" y="468.53" width="529.83" height="9.6" fill="#ffa500"/>
<rect x="50" y="479.2" width="157.49" height="9.6" fill="#ffff00"/>
<rect x="50" y="489.87" width="141.94" height="9.6" fill="#ffff00"/>
<rect x="50" y="500.53" width="90.97" height="9.6" fill="#ffff00"/>
<rect x="50" y="511.2" width="305.83" height="9.6" fill="#ff4500"/>
<rect x="50" y="521.87" width="110.4" height="9.6" fill="#ffff00"/>
<rect x="50" y="532.53" width="71.31" height="9.6" fill="#ffff00"/>
<rect x="50" y="543.2" width="109.94" height="9.6" fill="#ffff00"/>
<rect x="50" y="553.87" width="100.34" height="9.6" fill="#ffff00"/>
<rect x="50" y="564.53" width="40" height="9.6" fill="#0000ff"/>
<rect x="50" y="575.2" width="63.77" height="9.6" fill="#0000ff"/>
<rect x="50" y="585.87" width="72.46" height="9.6" fill="#0000ff"/>
<rect x="50" y="596.53" width="127.31" height="9.6" fill="#0000ff"/>
<rect x="50" y="607.2" width="268.11" height="9.6" fill="#0000ff"/>
<rect x="50" y="617.87" width="110.63" height="9.6" fill="#0000ff"/>
<rect x="50" y="628.53" width="87.54" height="9.6" fill="#ff0000"/>
<rect x="50" y="639.2" width="96" height="9.6" fill="#ff0000"/>
<rect x="50" y="649.87" width="64.91" height="9.6" fill="#ff0000"/>
<rect x="50" y="660.53" width="162.06" height="9.6" fill="#ff0000"/>
<rect x="50" y="671.2" width="256.91" height="9.6" fill="#ff0000"/>
<rect x="50" y="681.87" width="46.63" height="9.6" fill="#ff0000"/>
<rect x="50" y="692.53" width="105.37" height="9.6" fill="#008000"/>
<rect x="50" y="703.2" width="101.94" height="9.6" fill="#1e90ff"/>
<rect x="50" y="713.87" width="304.69" height="9.6" fill="#1e90ff"/>
<rect x="50" y="724.53" width="284.34" height="9.6" fill="#ff00ff"/>
<rect x="50" y="735.2" width="52.8" height="9.6" fill="#d3d3d3"/>
<rect x="50" y="745.87" width="286.86" height="9.6" fill="#008000"/>
<rect x="50" y="756.53" width="126.17" height="9.6" fill="#008000"/>
<rect x="50" y="767.2" width="112.23" height="9.6" fill="#008000"/>
<rect x="50" y="777.87" width="776.91" height="9.6" fill="#008000"/>
</g>
<g stroke="#888" stroke-width="1" fill="none">
<path d="M50 437.5H850M50 37V437M50 437.5v4M117.95 437.5v4M181.51 437.5v4M249.45 437.5v4M315.21 437.5v4M383.15 437.5v4M448.9 437.5v4M516.85 437.5v4M584.79 437.5v4M650.55 437.5v4M718.49 437.5v4M784.25 437.5v4M46 437.5h4M46 401.14h4M46 364.77h4M46 328.41h4M46 292.05h4M46 255.68h4M46 219.32h4M46 182.95h4M46 146.59h4M46 110.23h4M46 73.86h4M46 37.5h4M50 788.5H850M50 788.5v4M164.29 788.5v4M278.57 788.5v4M392.86 788.5v4M507.14 788.5v4M621.43 788.5v4M735.71 788.5v4M850 788.5v4M46 473.33h4M46 484h4M46 494.67h4M46 505.33h4M46 516h4M46 526.67h4M46 537.33h4M46 548h4M46 558.67h4M46 569.33h4M46 580h4M46 590.67h4M46 601.33h4M46 612h4M46 622.67h4M46 633.33h4M46 644h4M46 654.67h4M46 665.33h4M46 676h4M46 686.67h4M46 697.33h4M46 708h4M46 718.67h4M46 729.33h4M46 740h4M46 750.67h4M46 761.33h4M46 772h4M46 782.67h4"/>
</g>
<g fill="#000" font-size="11">
<text x="50" y="450" text-anchor="start">Jan</text>
<text x="117.95" y="450" text-anchor="middle">Feb</text>
<text x="181.51" y="450" text-anchor="middle">Mar</text>
<text x="249.45" y="450" text-anchor="middle">Apr</text>
<text x="315.21" y="450" text-anchor="middle">May</text>
<text x="383.15" y="450" text-anchor="middle">Jun</text>
<text x="448.9" y="450" text-anchor="middle">Jul</text>
<text x="516.85" y="450" text-anchor="middle">Aug</text>
<text x="584.79" y="450" text-anchor="middle">Sep</text>
<text x="650.55" y="450" text-anchor="middle">Oct</text>
<text x="718.49" y="450" text-anchor="middle">Nov</text>
<text x="784.25" y="450" text-anchor="middle">Dec</text>
<text x="44.5" y="439.9" text-anchor="end">−15</text>
<text x="44.5" y="403.54" text-anchor="end">−10</text>
<text x="44.5" y="367.17" text-anchor="end">−5</text>
<text x="44.5" y="330.81" text-anchor="end">0</text>
<text x="44.5" y="294.45" text-anchor="end">5</text>
<text x="44.5" y="258.08" text-anchor="end">10</text>
<text x="44.5" y="221.72" text-anchor="end">15</text>
<text x="44.5" y="185.35" text-anchor="end">20</text>
<text x="44.5" y="148.99" text-anchor="end">25</text>
<text x="44.5" y="112.63" text-anchor="end">30</text>
<text x="44.5" y="76.26" text-anchor="end">35</text>
<text x="44.5" y="39.9" text-anchor="end">40</text>
<text x="44.5" y="476.03" text-anchor="end">BM</text>
<text x="44.5" y="486.7" text-anchor="end">HB</text>
<text x="44.5" y="497.37" text-anchor="end">HFA</text>
<text x="44.5" y="508.03" text-anchor="end">HFZ</text>
<text x="44.5" y="518.7" text-anchor="end">HM</text>
<text x="44.5" y="529.37" text-anchor="end">HNA</text>
<text x="44.5" y="540.03" text-anchor="end">HNFA</text>
<text x="44.5" y="550.7" text-anchor="end">HNFZ</text>
<text x="44.5" y="561.37" text-anchor="end">HNZ</text>
<text x="44.5" y="572.03" text-anchor="end">NA</text>
<text x="44.5" y="582.7" text-anchor="end">NEA</text>
<text x="44.5" y="593.37" text-anchor="end">NEZ</text>
<text x="44.5" y="604.03" text-anchor="end">NWA</text>
<text x="44.5" y="614.7" text-anchor="end">NWZ</text>
<text x="44.5" y="625.37" text-anchor="end">NZ</text>
<text x="44.5" y="636.03" text-anchor="end">SA</text>
<text x="44.5" y="646.7" text-anchor="end">SEA</text>
<text x="44.5" y="657.37" text-anchor="end">SEZ</text>
<text x="44.5" y="668.03" text-anchor="end">SWA</text>
<text x="44.5" y="678.7" text-anchor="end">SWZ</text>
<text x="44.5" y="689.37" text-anchor="end">SZ</text>
<text x="44.5" y="700.03" text-anchor="end">TB</text>
<text x="44.5" y="710.7" text-anchor="end">TM</text>
<text x="44.5" y="721.37" text-anchor="end">TRM</text>
<text x="44.5" y="732.03" text-anchor="end">TRW</text>
<text x="44.5" y="742.7" text-anchor="end">U</text>
<text x="44.5" y="753.37" text-anchor="end">WA</text>
<text x="44.5" y="764.03" text-anchor="end">WS</text>
<text x="44.5" y="774.7" text-anchor="end">WW</text>
<text x="44.5" y="785.37" text-anchor="end">WZ</text>
<text x="50" y="801" text-anchor="start">0</text>
<text x="164.29" y="801" text-anchor="middle">500</text>
<text x="278.57" y="801" text-anchor="middle">1,000</text>
<text x="392.86" y="801" text-anchor="middle">1,500</text>
<text x="507.14" y="801" text-anchor="middle">2,000</text>
<text x="621.43" y="801" text-anchor="middle">2,500</text>
<text x="735.71" y="801" text-anchor="middle">3,000</text>
<text x="850" y="801" text-anchor="end">3,500</text>
</g>
<g font-weight="bold" font-size="11" fill="#000">
<text transform="translate(23.6,237) rotate(-90)" text-anchor="middle">Maximum Daily Temperature (°C)</text>
<text transform="translate(18,629) rotate(-90)" text-anchor="middle">Großwetterlagen</text>
<text x="450" y="813" text-anchor="middle">Anzahl</text>
<text x="872.5" y="44">Patterns</text>
<text x="872.5" y="445">Precipitation</text>
</g>
<g font-size="11">
<circle cx="877" cy="54.5" r="4.5" fill="#008000" fill-opacity="0.7"/>
<text x="885.5" y="57.1">WZ</text>
<circle cx="877" cy="67.31" r="4.5" fill="#ffa500" fill-opacity="0.7"/>
<text x="885.5" y="69.88">BM</text>
<circle cx="877" cy="80.12" r="4.5" fill="#1e90ff" fill-opacity="0.7"/>
<text x="885.5" y="82.66">TRM</text>
<circle cx="877" cy="92.93" r="4.5" fill="#ff00ff" fill-opacity="0.7"/>
<text x="885.5" y="95.44">TRW</text>
<circle cx="877" cy="105.74" r="4.5" fill="#008000" fill-opacity="0.7"/>
<text x="885.5" y="108.22">WA</text>
<circle cx="877" cy="118.55" r="4.5" fill="#ff4500" fill-opacity="0.7"/>
<text x="885.5" y="121">HM</text>
<circle cx="877" cy="131.36" r="4.5" fill="#ff0000" fill-opacity="0.7"/>
<text x="885.5" y="133.78">SWZ</text>
<circle cx="877" cy="144.17" r="4.5" fill="#0000ff" fill-opacity="0.7"/>
<text x="885.5" y="146.56">NWZ</text>
<circle cx="877" cy="156.98" r="4.5" fill="#1e90ff" fill-opacity="0.7"/>
<text x="885.5" y="159.34">TM</text>
<circle cx="877" cy="169.79" r="4.5" fill="#d3d3d3" fill-opacity="0.7"/>
<text x="885.5" y="172.12">U</text>
<circle cx="877" cy="182.6" r="4.5" fill="#ff0000" fill-opacity="0.7"/>
<text x="885.5" y="184.9">SWA</text>
<circle cx="877" cy="195.41" r="4.5" fill="#0000ff" fill-opacity="0.7"/>
<text x="885.5" y="197.68">NZ</text>
<circle cx="877" cy="208.22" r="4.5" fill="#0000ff" fill-opacity="0.7"/>
<text x="885.5" y="210.46">NWA</text>
<circle cx="877" cy="221.03" r="4.5" fill="#008000" fill-opacity="0.7"/>
<text x="885.5" y="223.24">WW</text>
<circle cx="877" cy="233.84" r="4.5" fill="#008000" fill-opacity="0.7"/>
<text x="885.5" y="236.02">WS</text>
<circle cx="877" cy="246.65" r="4.5" fill="#ff0000" fill-opacity="0.7"/>
<text x="885.5" y="248.8">SZ</text>
<circle cx="877" cy="259.46" r="4.5" fill="#ff0000" fill-opacity="0.7"/>
<text x="885.5" y="261.58">SA</text>
<circle cx="877" cy="272.27" r="4.5" fill="#008000" fill-opacity="0.7"/>
<text x="885.5" y="274.36">TB</text>
<circle cx="877" cy="285.08" r="4.5" fill="#ff0000" fill-opacity="0.7"/>
<text x="885.5" y="287.14">SEZ</text>
<circle cx="877" cy="297.89" r="4.5" fill="#ff0000" fill-opacity="0.7"/>
<text x="885.5" y="299.92">SEA</text>
<circle cx="877" cy="310.7" r="4.5" fill="#0000ff" fill-opacity="0.7"/>
<text x="885.5" y="312.7">NA</text>
<circle cx="877" cy="323.51" r="4.5" fill="#0000ff" fill-opacity="0.7"/>
<text x="885.5" y="325.48">NEA</text>
<circle cx="877" cy="336.32" r="4.5" fill="#0000ff" fill-opacity="0.7"/>
<text x="885.5" y="338.26">NEZ</text>
<circle cx="877" cy="349.13" r="4.5" fill="#ffff00" fill-opacity="0.7"/>
<text x="885.5" y="351.04">HFA</text>
<circle cx="877" cy="361.94" r="4.5" fill="#ffff00" fill-opacity="0.7"/>
<text x="885.5" y="363.82">HFZ</text>
<circle cx="877" cy="374.75" r="4.5" fill="#ffff00" fill-opacity="0.7"/>
<text x="885.5" y="376.6">HB</text>
<circle cx="877" cy="387.56" r="4.5" fill="#ffff00" fill-opacity="0.7"/>
<text x="885.5" y="389.38">HNA</text>
<circle cx="877" cy="400.37" r="4.5" fill="#ffff00" fill-opacity="0.7"/>
<text x="885.5" y="402.16">HNZ</text>
<circle cx="877" cy="413.18" r="4.5" fill="#ffff00" fill-opacity="0.7"/>
<text x="885.5" y="414.94">HNFA</text>
<circle cx="877" cy="425.99" r="4.5" fill="#ffff00" fill-opacity="0.7"/>
<text x="885.5" y="427.72">HNFZ</text>
<circle cx="880.5" cy="454.6" r="1.13" fill="none" stroke="#888" stroke-opacity="0.3" stroke-width="1"/>
<text x="892.3" y="457">0</text>
<circle cx="880.5" cy="465.9" r="3.83" fill="none" stroke="#888" stroke-opacity="0.3" stroke-width="1"/>
<text x="892.3" y="468.3">10</text>
<circle cx="880.5" cy="480.2" r="5.29" fill="none" stroke="#888" stroke-opacity="0.3" stroke-width="1"/>
<text x="892.3" y="482.6">20</text>
<circle cx="880.5" cy="497.4" r="6.43" fill="none" stroke="#888" stroke-opacity="0.3" stroke-width="1"/>
<text x="892.3" y="499.8">30</text>
<circle cx="880.5" cy="516.7" r="7.4" fill="none" stroke="#888" stroke-opacity="0.3" stroke-width="1"/>
<text x="892.3" y="519.1">40</text>
</g>
</svg></body></html>
